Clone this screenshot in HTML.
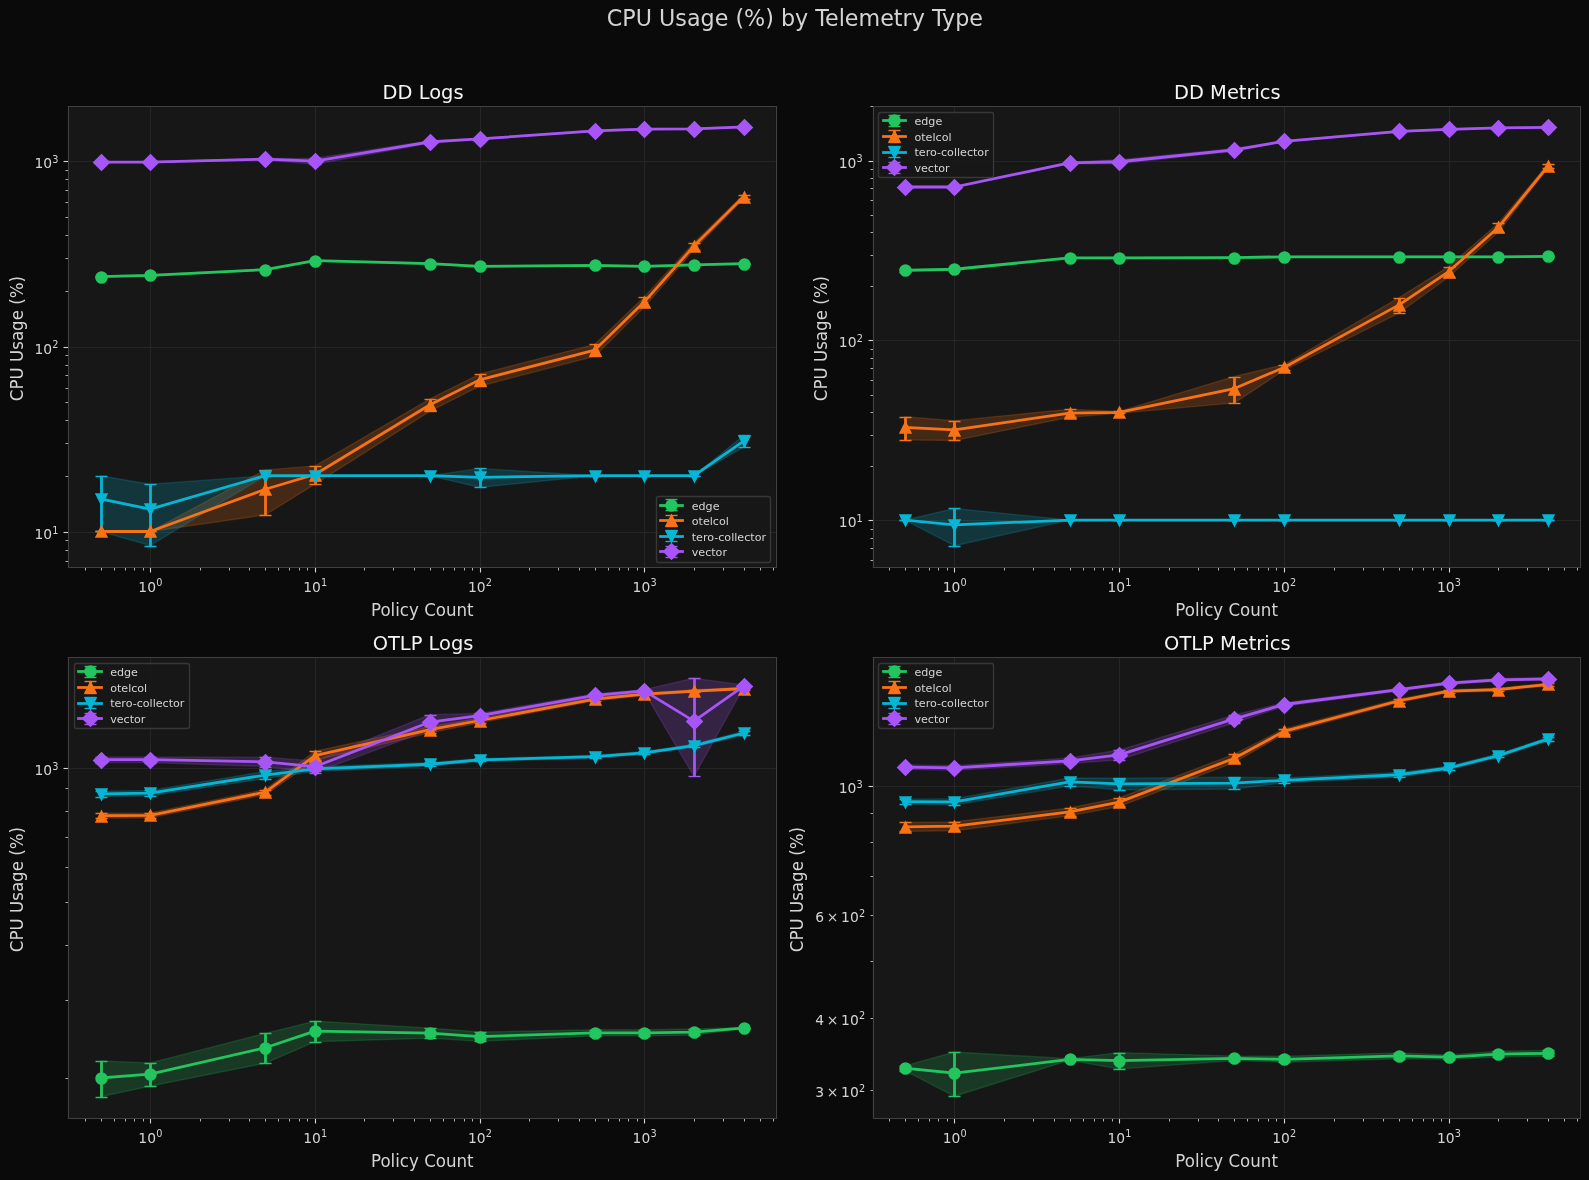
<!DOCTYPE html>
<html lang="en">
<head>
<meta charset="utf-8">
<title>CPU Usage (%) by Telemetry Type</title>
<style>
html,body{margin:0;padding:0;background:#0a0a0a;}
body{width:1589px;height:1180px;overflow:hidden;font-family:"DejaVu Sans","Liberation Sans",sans-serif;}
svg{display:block;will-change:transform;}
svg text{white-space:pre;}
</style>
</head>
<body>
<svg width="1589" height="1180" viewBox="0 0 1144.08 849.6" preserveAspectRatio="none" role="img" aria-label="CPU Usage (%) by Telemetry Type"> <defs> <style type="text/css">*{stroke-linejoin: round; stroke-linecap: butt}</style> </defs> <g id="figure_1"> <g id="patch_1"> <path d="M 0 849.6 L 1144.08 849.6 L 1144.08 0 L 0 0 z " style="fill: #0a0a0a"/> </g> <g id="axes_1"> <g id="patch_2"> <path d="M 49.28 408.47 L 558.46 408.47 L 558.46 76.55 L 49.28 76.55 z " style="fill: #171717"/> </g> <g id="matplotlib.axis_1"> <g id="xtick_1"> <g id="line2d_1"> <path d="M 108.36 408.60 L 108.36 76.68" clip-path="url(#p3dcfca8776)" style="fill: none; stroke: #262626; stroke-width: 0.8; stroke-linecap: square"/> </g> <g id="line2d_2"> <g> <path d="M 0.36 0.36 L 0.36 3.96" transform="translate(108.00 408.24)" style="stroke: #d4d4d4; stroke-width: 0.8; fill: #d4d4d4; stroke: #d4d4d4; stroke-width: 0.8"/> </g> </g> <g id="text_1"> <g style="fill: #d4d4d4" transform="translate(99.00 426.70)"> <text> <tspan x="0.60" y="-0.60" style="font-size: 10px; font-family: 'DejaVu Sans', 'Liberation Sans', sans-serif; fill: #d4d4d4">10</tspan> <tspan x="13.42" y="-4.43" style="font-size: 7px; font-family: 'DejaVu Sans', 'Liberation Sans', sans-serif; fill: #d4d4d4">0</tspan> </text> </g> </g> </g> <g id="xtick_2"> <g id="line2d_3"> <path d="M 227.16 408.60 L 227.16 76.68" clip-path="url(#p3dcfca8776)" style="fill: none; stroke: #262626; stroke-width: 0.8; stroke-linecap: square"/> </g> <g id="line2d_4"> <g> <path d="M 0.36 0.36 L 0.36 3.96" transform="translate(226.80 408.24)" style="stroke: #d4d4d4; stroke-width: 0.8; fill: #d4d4d4; stroke: #d4d4d4; stroke-width: 0.8"/> </g> </g> <g id="text_2"> <g style="fill: #d4d4d4" transform="translate(217.70 426.70)"> <text> <tspan x="0.60" y="-0.60" style="font-size: 10px; font-family: 'DejaVu Sans', 'Liberation Sans', sans-serif; fill: #d4d4d4">10</tspan> <tspan x="13.42" y="-4.43" style="font-size: 7px; font-family: 'DejaVu Sans', 'Liberation Sans', sans-serif; fill: #d4d4d4">1</tspan> </text> </g> </g> </g> <g id="xtick_3"> <g id="line2d_5"> <path d="M 345.96 408.60 L 345.96 76.68" clip-path="url(#p3dcfca8776)" style="fill: none; stroke: #262626; stroke-width: 0.8; stroke-linecap: square"/> </g> <g id="line2d_6"> <g> <path d="M 0.36 0.36 L 0.36 3.96" transform="translate(345.60 408.24)" style="stroke: #d4d4d4; stroke-width: 0.8; fill: #d4d4d4; stroke: #d4d4d4; stroke-width: 0.8"/> </g> </g> <g id="text_3"> <g style="fill: #d4d4d4" transform="translate(336.32 426.70)"> <text> <tspan x="0.60" y="-0.60" style="font-size: 10px; font-family: 'DejaVu Sans', 'Liberation Sans', sans-serif; fill: #d4d4d4">10</tspan> <tspan x="13.42" y="-4.43" style="font-size: 7px; font-family: 'DejaVu Sans', 'Liberation Sans', sans-serif; fill: #d4d4d4">2</tspan> </text> </g> </g> </g> <g id="xtick_4"> <g id="line2d_7"> <path d="M 464.04 408.60 L 464.04 76.68" clip-path="url(#p3dcfca8776)" style="fill: none; stroke: #262626; stroke-width: 0.8; stroke-linecap: square"/> </g> <g id="line2d_8"> <g> <path d="M 0.36 0.36 L 0.36 3.96" transform="translate(463.68 408.24)" style="stroke: #d4d4d4; stroke-width: 0.8; fill: #d4d4d4; stroke: #d4d4d4; stroke-width: 0.8"/> </g> </g> <g id="text_4"> <g style="fill: #d4d4d4" transform="translate(454.87 426.70)"> <text> <tspan x="0.60" y="-0.60" style="font-size: 10px; font-family: 'DejaVu Sans', 'Liberation Sans', sans-serif; fill: #d4d4d4">10</tspan> <tspan x="13.42" y="-4.43" style="font-size: 7px; font-family: 'DejaVu Sans', 'Liberation Sans', sans-serif; fill: #d4d4d4">3</tspan> </text> </g> </g> </g> <g id="xtick_5"> <g id="line2d_9"> <g> <path d="M 0.36 0.36 L 0.36 2.52" transform="translate(61.20 408.24)" style="stroke: #d4d4d4; stroke-width: 0.6; fill: #d4d4d4; stroke: #d4d4d4; stroke-width: 0.6"/> </g> </g> </g> <g id="xtick_6"> <g id="line2d_10"> <g> <path d="M 0.36 0.36 L 0.36 2.52" transform="translate(72.72 408.24)" style="stroke: #d4d4d4; stroke-width: 0.6; fill: #d4d4d4; stroke: #d4d4d4; stroke-width: 0.6"/> </g> </g> </g> <g id="xtick_7"> <g id="line2d_11"> <g> <path d="M 0.36 0.36 L 0.36 2.52" transform="translate(82.08 408.24)" style="stroke: #d4d4d4; stroke-width: 0.6; fill: #d4d4d4; stroke: #d4d4d4; stroke-width: 0.6"/> </g> </g> </g> <g id="xtick_8"> <g id="line2d_12"> <g> <path d="M 0.36 0.36 L 0.36 2.52" transform="translate(90.00 408.24)" style="stroke: #d4d4d4; stroke-width: 0.6; fill: #d4d4d4; stroke: #d4d4d4; stroke-width: 0.6"/> </g> </g> </g> <g id="xtick_9"> <g id="line2d_13"> <g> <path d="M 0.36 0.36 L 0.36 2.52" transform="translate(96.48 408.24)" style="stroke: #d4d4d4; stroke-width: 0.6; fill: #d4d4d4; stroke: #d4d4d4; stroke-width: 0.6"/> </g> </g> </g> <g id="xtick_10"> <g id="line2d_14"> <g> <path d="M 0.36 0.36 L 0.36 2.52" transform="translate(102.96 408.24)" style="stroke: #d4d4d4; stroke-width: 0.6; fill: #d4d4d4; stroke: #d4d4d4; stroke-width: 0.6"/> </g> </g> </g> <g id="xtick_11"> <g id="line2d_15"> <g> <path d="M 0.36 0.36 L 0.36 2.52" transform="translate(144.00 408.24)" style="stroke: #d4d4d4; stroke-width: 0.6; fill: #d4d4d4; stroke: #d4d4d4; stroke-width: 0.6"/> </g> </g> </g> <g id="xtick_12"> <g id="line2d_16"> <g> <path d="M 0.36 0.36 L 0.36 2.52" transform="translate(164.88 408.24)" style="stroke: #d4d4d4; stroke-width: 0.6; fill: #d4d4d4; stroke: #d4d4d4; stroke-width: 0.6"/> </g> </g> </g> <g id="xtick_13"> <g id="line2d_17"> <g> <path d="M 0.36 0.36 L 0.36 2.52" transform="translate(179.28 408.24)" style="stroke: #d4d4d4; stroke-width: 0.6; fill: #d4d4d4; stroke: #d4d4d4; stroke-width: 0.6"/> </g> </g> </g> <g id="xtick_14"> <g id="line2d_18"> <g> <path d="M 0.36 0.36 L 0.36 2.52" transform="translate(190.80 408.24)" style="stroke: #d4d4d4; stroke-width: 0.6; fill: #d4d4d4; stroke: #d4d4d4; stroke-width: 0.6"/> </g> </g> </g> <g id="xtick_15"> <g id="line2d_19"> <g> <path d="M 0.36 0.36 L 0.36 2.52" transform="translate(200.16 408.24)" style="stroke: #d4d4d4; stroke-width: 0.6; fill: #d4d4d4; stroke: #d4d4d4; stroke-width: 0.6"/> </g> </g> </g> <g id="xtick_16"> <g id="line2d_20"> <g> <path d="M 0.36 0.36 L 0.36 2.52" transform="translate(208.08 408.24)" style="stroke: #d4d4d4; stroke-width: 0.6; fill: #d4d4d4; stroke: #d4d4d4; stroke-width: 0.6"/> </g> </g> </g> <g id="xtick_17"> <g id="line2d_21"> <g> <path d="M 0.36 0.36 L 0.36 2.52" transform="translate(215.28 408.24)" style="stroke: #d4d4d4; stroke-width: 0.6; fill: #d4d4d4; stroke: #d4d4d4; stroke-width: 0.6"/> </g> </g> </g> <g id="xtick_18"> <g id="line2d_22"> <g> <path d="M 0.36 0.36 L 0.36 2.52" transform="translate(221.04 408.24)" style="stroke: #d4d4d4; stroke-width: 0.6; fill: #d4d4d4; stroke: #d4d4d4; stroke-width: 0.6"/> </g> </g> </g> <g id="xtick_19"> <g id="line2d_23"> <g> <path d="M 0.36 0.36 L 0.36 2.52" transform="translate(262.08 408.24)" style="stroke: #d4d4d4; stroke-width: 0.6; fill: #d4d4d4; stroke: #d4d4d4; stroke-width: 0.6"/> </g> </g> </g> <g id="xtick_20"> <g id="line2d_24"> <g> <path d="M 0.36 0.36 L 0.36 2.52" transform="translate(282.96 408.24)" style="stroke: #d4d4d4; stroke-width: 0.6; fill: #d4d4d4; stroke: #d4d4d4; stroke-width: 0.6"/> </g> </g> </g> <g id="xtick_21"> <g id="line2d_25"> <g> <path d="M 0.36 0.36 L 0.36 2.52" transform="translate(298.08 408.24)" style="stroke: #d4d4d4; stroke-width: 0.6; fill: #d4d4d4; stroke: #d4d4d4; stroke-width: 0.6"/> </g> </g> </g> <g id="xtick_22"> <g id="line2d_26"> <g> <path d="M 0.36 0.36 L 0.36 2.52" transform="translate(309.60 408.24)" style="stroke: #d4d4d4; stroke-width: 0.6; fill: #d4d4d4; stroke: #d4d4d4; stroke-width: 0.6"/> </g> </g> </g> <g id="xtick_23"> <g id="line2d_27"> <g> <path d="M 0.36 0.36 L 0.36 2.52" transform="translate(318.96 408.24)" style="stroke: #d4d4d4; stroke-width: 0.6; fill: #d4d4d4; stroke: #d4d4d4; stroke-width: 0.6"/> </g> </g> </g> <g id="xtick_24"> <g id="line2d_28"> <g> <path d="M 0.36 0.36 L 0.36 2.52" transform="translate(326.88 408.24)" style="stroke: #d4d4d4; stroke-width: 0.6; fill: #d4d4d4; stroke: #d4d4d4; stroke-width: 0.6"/> </g> </g> </g> <g id="xtick_25"> <g id="line2d_29"> <g> <path d="M 0.36 0.36 L 0.36 2.52" transform="translate(334.08 408.24)" style="stroke: #d4d4d4; stroke-width: 0.6; fill: #d4d4d4; stroke: #d4d4d4; stroke-width: 0.6"/> </g> </g> </g> <g id="xtick_26"> <g id="line2d_30"> <g> <path d="M 0.36 0.36 L 0.36 2.52" transform="translate(339.84 408.24)" style="stroke: #d4d4d4; stroke-width: 0.6; fill: #d4d4d4; stroke: #d4d4d4; stroke-width: 0.6"/> </g> </g> </g> <g id="xtick_27"> <g id="line2d_31"> <g> <path d="M 0.36 0.36 L 0.36 2.52" transform="translate(380.88 408.24)" style="stroke: #d4d4d4; stroke-width: 0.6; fill: #d4d4d4; stroke: #d4d4d4; stroke-width: 0.6"/> </g> </g> </g> <g id="xtick_28"> <g id="line2d_32"> <g> <path d="M 0.36 0.36 L 0.36 2.52" transform="translate(401.76 408.24)" style="stroke: #d4d4d4; stroke-width: 0.6; fill: #d4d4d4; stroke: #d4d4d4; stroke-width: 0.6"/> </g> </g> </g> <g id="xtick_29"> <g id="line2d_33"> <g> <path d="M 0.36 0.36 L 0.36 2.52" transform="translate(416.88 408.24)" style="stroke: #d4d4d4; stroke-width: 0.6; fill: #d4d4d4; stroke: #d4d4d4; stroke-width: 0.6"/> </g> </g> </g> <g id="xtick_30"> <g id="line2d_34"> <g> <path d="M 0.36 0.36 L 0.36 2.52" transform="translate(428.40 408.24)" style="stroke: #d4d4d4; stroke-width: 0.6; fill: #d4d4d4; stroke: #d4d4d4; stroke-width: 0.6"/> </g> </g> </g> <g id="xtick_31"> <g id="line2d_35"> <g> <path d="M 0.36 0.36 L 0.36 2.52" transform="translate(437.76 408.24)" style="stroke: #d4d4d4; stroke-width: 0.6; fill: #d4d4d4; stroke: #d4d4d4; stroke-width: 0.6"/> </g> </g> </g> <g id="xtick_32"> <g id="line2d_36"> <g> <path d="M 0.36 0.36 L 0.36 2.52" transform="translate(445.68 408.24)" style="stroke: #d4d4d4; stroke-width: 0.6; fill: #d4d4d4; stroke: #d4d4d4; stroke-width: 0.6"/> </g> </g> </g> <g id="xtick_33"> <g id="line2d_37"> <g> <path d="M 0.36 0.36 L 0.36 2.52" transform="translate(452.16 408.24)" style="stroke: #d4d4d4; stroke-width: 0.6; fill: #d4d4d4; stroke: #d4d4d4; stroke-width: 0.6"/> </g> </g> </g> <g id="xtick_34"> <g id="line2d_38"> <g> <path d="M 0.36 0.36 L 0.36 2.52" transform="translate(458.64 408.24)" style="stroke: #d4d4d4; stroke-width: 0.6; fill: #d4d4d4; stroke: #d4d4d4; stroke-width: 0.6"/> </g> </g> </g> <g id="xtick_35"> <g id="line2d_39"> <g> <path d="M 0.36 0.36 L 0.36 2.52" transform="translate(499.68 408.24)" style="stroke: #d4d4d4; stroke-width: 0.6; fill: #d4d4d4; stroke: #d4d4d4; stroke-width: 0.6"/> </g> </g> </g> <g id="xtick_36"> <g id="line2d_40"> <g> <path d="M 0.36 0.36 L 0.36 2.52" transform="translate(520.56 408.24)" style="stroke: #d4d4d4; stroke-width: 0.6; fill: #d4d4d4; stroke: #d4d4d4; stroke-width: 0.6"/> </g> </g> </g> <g id="xtick_37"> <g id="line2d_41"> <g> <path d="M 0.36 0.36 L 0.36 2.52" transform="translate(535.68 408.24)" style="stroke: #d4d4d4; stroke-width: 0.6; fill: #d4d4d4; stroke: #d4d4d4; stroke-width: 0.6"/> </g> </g> </g> <g id="xtick_38"> <g id="line2d_42"> <g> <path d="M 0.36 0.36 L 0.36 2.52" transform="translate(547.20 408.24)" style="stroke: #d4d4d4; stroke-width: 0.6; fill: #d4d4d4; stroke: #d4d4d4; stroke-width: 0.6"/> </g> </g> </g> <g id="xtick_39"> <g id="line2d_43"> <g> <path d="M 0.36 0.36 L 0.36 2.52" transform="translate(556.56 408.24)" style="stroke: #d4d4d4; stroke-width: 0.6; fill: #d4d4d4; stroke: #d4d4d4; stroke-width: 0.6"/> </g> </g> </g> <g id="text_5"> <text style="font-size: 12px; font-family: 'DejaVu Sans', 'Liberation Sans', sans-serif; text-anchor: middle; fill: #d4d4d4" x="303.87" y="442.94" transform="rotate(-0 303.87 442.94) translate(304.07 443.39) scale(1 1.070) translate(-303.87 -442.94)">Policy Count</text> </g> </g> <g id="matplotlib.axis_2"> <g id="ytick_1"> <g id="line2d_44"> <path d="M 49.32 383.40 L 559.08 383.40" clip-path="url(#p3dcfca8776)" style="fill: none; stroke: #262626; stroke-width: 0.8; stroke-linecap: square"/> </g> <g id="line2d_45"> <g> <path d="M 0.36 0.36 L -3.24 0.36" transform="translate(48.96 383.04)" style="stroke: #d4d4d4; stroke-width: 0.8; fill: #d4d4d4; stroke: #d4d4d4; stroke-width: 0.8"/> </g> </g> <g id="text_6"> <g style="fill: #d4d4d4" transform="translate(24.25 388.58)"> <text> <tspan x="0.60" y="-0.60" style="font-size: 10px; font-family: 'DejaVu Sans', 'Liberation Sans', sans-serif; fill: #d4d4d4">10</tspan> <tspan x="13.42" y="-4.43" style="font-size: 7px; font-family: 'DejaVu Sans', 'Liberation Sans', sans-serif; fill: #d4d4d4">1</tspan> </text> </g> </g> </g> <g id="ytick_2"> <g id="line2d_46"> <path d="M 49.32 250.20 L 559.08 250.20" clip-path="url(#p3dcfca8776)" style="fill: none; stroke: #262626; stroke-width: 0.8; stroke-linecap: square"/> </g> <g id="line2d_47"> <g> <path d="M 0.36 0.36 L -3.24 0.36" transform="translate(48.96 249.84)" style="stroke: #d4d4d4; stroke-width: 0.8; fill: #d4d4d4; stroke: #d4d4d4; stroke-width: 0.8"/> </g> </g> <g id="text_7"> <g style="fill: #d4d4d4" transform="translate(24.27 255.16)"> <text> <tspan x="0.60" y="-0.60" style="font-size: 10px; font-family: 'DejaVu Sans', 'Liberation Sans', sans-serif; fill: #d4d4d4">10</tspan> <tspan x="13.42" y="-4.43" style="font-size: 7px; font-family: 'DejaVu Sans', 'Liberation Sans', sans-serif; fill: #d4d4d4">2</tspan> </text> </g> </g> </g> <g id="ytick_3"> <g id="line2d_48"> <path d="M 49.32 116.28 L 559.08 116.28" clip-path="url(#p3dcfca8776)" style="fill: none; stroke: #262626; stroke-width: 0.8; stroke-linecap: square"/> </g> <g id="line2d_49"> <g> <path d="M 0.36 0.36 L -3.24 0.36" transform="translate(48.96 115.92)" style="stroke: #d4d4d4; stroke-width: 0.8; fill: #d4d4d4; stroke: #d4d4d4; stroke-width: 0.8"/> </g> </g> <g id="text_8"> <g style="fill: #d4d4d4" transform="translate(24.16 121.75)"> <text> <tspan x="0.60" y="-0.60" style="font-size: 10px; font-family: 'DejaVu Sans', 'Liberation Sans', sans-serif; fill: #d4d4d4">10</tspan> <tspan x="13.42" y="-4.43" style="font-size: 7px; font-family: 'DejaVu Sans', 'Liberation Sans', sans-serif; fill: #d4d4d4">3</tspan> </text> </g> </g> </g> <g id="ytick_4"> <g id="line2d_50"> <g> <path d="M 0.36 0.36 L -1.80 0.36" transform="translate(48.96 403.92)" style="stroke: #d4d4d4; stroke-width: 0.6; fill: #d4d4d4; stroke: #d4d4d4; stroke-width: 0.6"/> </g> </g> </g> <g id="ytick_5"> <g id="line2d_51"> <g> <path d="M 0.36 0.36 L -1.80 0.36" transform="translate(48.96 396.00)" style="stroke: #d4d4d4; stroke-width: 0.6; fill: #d4d4d4; stroke: #d4d4d4; stroke-width: 0.6"/> </g> </g> </g> <g id="ytick_6"> <g id="line2d_52"> <g> <path d="M 0.36 0.36 L -1.80 0.36" transform="translate(48.96 388.80)" style="stroke: #d4d4d4; stroke-width: 0.6; fill: #d4d4d4; stroke: #d4d4d4; stroke-width: 0.6"/> </g> </g> </g> <g id="ytick_7"> <g id="line2d_53"> <g> <path d="M 0.36 0.36 L -1.80 0.36" transform="translate(48.96 342.72)" style="stroke: #d4d4d4; stroke-width: 0.6; fill: #d4d4d4; stroke: #d4d4d4; stroke-width: 0.6"/> </g> </g> </g> <g id="ytick_8"> <g id="line2d_54"> <g> <path d="M 0.36 0.36 L -1.80 0.36" transform="translate(48.96 318.96)" style="stroke: #d4d4d4; stroke-width: 0.6; fill: #d4d4d4; stroke: #d4d4d4; stroke-width: 0.6"/> </g> </g> </g> <g id="ytick_9"> <g id="line2d_55"> <g> <path d="M 0.36 0.36 L -1.80 0.36" transform="translate(48.96 302.40)" style="stroke: #d4d4d4; stroke-width: 0.6; fill: #d4d4d4; stroke: #d4d4d4; stroke-width: 0.6"/> </g> </g> </g> <g id="ytick_10"> <g id="line2d_56"> <g> <path d="M 0.36 0.36 L -1.80 0.36" transform="translate(48.96 289.44)" style="stroke: #d4d4d4; stroke-width: 0.6; fill: #d4d4d4; stroke: #d4d4d4; stroke-width: 0.6"/> </g> </g> </g> <g id="ytick_11"> <g id="line2d_57"> <g> <path d="M 0.36 0.36 L -1.80 0.36" transform="translate(48.96 279.36)" style="stroke: #d4d4d4; stroke-width: 0.6; fill: #d4d4d4; stroke: #d4d4d4; stroke-width: 0.6"/> </g> </g> </g> <g id="ytick_12"> <g id="line2d_58"> <g> <path d="M 0.36 0.36 L -1.80 0.36" transform="translate(48.96 270.00)" style="stroke: #d4d4d4; stroke-width: 0.6; fill: #d4d4d4; stroke: #d4d4d4; stroke-width: 0.6"/> </g> </g> </g> <g id="ytick_13"> <g id="line2d_59"> <g> <path d="M 0.36 0.36 L -1.80 0.36" transform="translate(48.96 262.80)" style="stroke: #d4d4d4; stroke-width: 0.6; fill: #d4d4d4; stroke: #d4d4d4; stroke-width: 0.6"/> </g> </g> </g> <g id="ytick_14"> <g id="line2d_60"> <g> <path d="M 0.36 0.36 L -1.80 0.36" transform="translate(48.96 255.60)" style="stroke: #d4d4d4; stroke-width: 0.6; fill: #d4d4d4; stroke: #d4d4d4; stroke-width: 0.6"/> </g> </g> </g> <g id="ytick_15"> <g id="line2d_61"> <g> <path d="M 0.36 0.36 L -1.80 0.36" transform="translate(48.96 209.52)" style="stroke: #d4d4d4; stroke-width: 0.6; fill: #d4d4d4; stroke: #d4d4d4; stroke-width: 0.6"/> </g> </g> </g> <g id="ytick_16"> <g id="line2d_62"> <g> <path d="M 0.36 0.36 L -1.80 0.36" transform="translate(48.96 185.76)" style="stroke: #d4d4d4; stroke-width: 0.6; fill: #d4d4d4; stroke: #d4d4d4; stroke-width: 0.6"/> </g> </g> </g> <g id="ytick_17"> <g id="line2d_63"> <g> <path d="M 0.36 0.36 L -1.80 0.36" transform="translate(48.96 169.20)" style="stroke: #d4d4d4; stroke-width: 0.6; fill: #d4d4d4; stroke: #d4d4d4; stroke-width: 0.6"/> </g> </g> </g> <g id="ytick_18"> <g id="line2d_64"> <g> <path d="M 0.36 0.36 L -1.80 0.36" transform="translate(48.96 156.24)" style="stroke: #d4d4d4; stroke-width: 0.6; fill: #d4d4d4; stroke: #d4d4d4; stroke-width: 0.6"/> </g> </g> </g> <g id="ytick_19"> <g id="line2d_65"> <g> <path d="M 0.36 0.36 L -1.80 0.36" transform="translate(48.96 145.44)" style="stroke: #d4d4d4; stroke-width: 0.6; fill: #d4d4d4; stroke: #d4d4d4; stroke-width: 0.6"/> </g> </g> </g> <g id="ytick_20"> <g id="line2d_66"> <g> <path d="M 0.36 0.36 L -1.80 0.36" transform="translate(48.96 136.80)" style="stroke: #d4d4d4; stroke-width: 0.6; fill: #d4d4d4; stroke: #d4d4d4; stroke-width: 0.6"/> </g> </g> </g> <g id="ytick_21"> <g id="line2d_67"> <g> <path d="M 0.36 0.36 L -1.80 0.36" transform="translate(48.96 128.88)" style="stroke: #d4d4d4; stroke-width: 0.6; fill: #d4d4d4; stroke: #d4d4d4; stroke-width: 0.6"/> </g> </g> </g> <g id="ytick_22"> <g id="line2d_68"> <g> <path d="M 0.36 0.36 L -1.80 0.36" transform="translate(48.96 122.40)" style="stroke: #d4d4d4; stroke-width: 0.6; fill: #d4d4d4; stroke: #d4d4d4; stroke-width: 0.6"/> </g> </g> </g> <g id="text_9"> <text style="font-size: 12px; font-family: 'DejaVu Sans', 'Liberation Sans', sans-serif; text-anchor: middle; fill: #d4d4d4" x="17.28" y="242.51" transform="rotate(-90 17.28 242.51) translate(16.02 241.51) scale(1 1.070) translate(-17.28 -242.51)">CPU Usage (%)</text> </g> </g> <g id="FillBetweenPolyCollection_1"> <g clip-path="url(#p3dcfca8776)"> <path d="M 72.40 -650.94 L 72.40 -649.96 L 108.11 -650.77 L 191.01 -655.02 L 226.72 -661.62 L 309.62 -659.37 L 345.32 -657.37 L 428.23 -658.01 L 463.93 -657.37 L 499.64 -658.52 L 535.34 -659.37 L 535.34 -660.20 L 535.34 -660.20 L 499.64 -659.37 L 463.93 -658.23 L 428.23 -658.86 L 345.32 -658.23 L 309.62 -660.20 L 226.72 -662.42 L 191.01 -655.92 L 108.11 -651.73 L 72.40 -650.94 z " transform="translate(0.00 849.60)" style="stroke: #22c55e; stroke-opacity: 0.2; fill: #22c55e; fill-opacity: 0.2; stroke: #22c55e; stroke-opacity: 0.2"/> </g> </g> <g id="FillBetweenPolyCollection_2"> <g clip-path="url(#p3dcfca8776)"> <path d="M 72.40 -466.92 L 72.40 -466.92 L 108.11 -466.92 L 191.01 -478.91 L 226.72 -500.97 L 309.62 -553.55 L 345.32 -571.50 L 428.23 -593.12 L 463.93 -628.50 L 499.64 -669.86 L 535.34 -706.33 L 535.34 -709.41 L 535.34 -709.41 L 499.64 -674.87 L 463.93 -635.85 L 428.23 -601.65 L 345.32 -580.32 L 309.62 -562.44 L 226.72 -514.16 L 191.01 -511.27 L 108.11 -466.92 L 72.40 -466.92 z " transform="translate(0.00 849.60)" style="stroke: #f97316; stroke-opacity: 0.2; fill: #f97316; fill-opacity: 0.2; stroke: #f97316; stroke-opacity: 0.2"/> </g> </g> <g id="FillBetweenPolyCollection_3"> <g clip-path="url(#p3dcfca8776)"> <path d="M 72.40 -507.08 L 72.40 -466.92 L 108.11 -456.81 L 191.01 -507.08 L 226.72 -507.08 L 309.62 -507.08 L 345.32 -498.68 L 428.23 -507.08 L 463.93 -507.08 L 499.64 -507.08 L 535.34 -527.40 L 535.34 -536.09 L 535.34 -536.09 L 499.64 -507.08 L 463.93 -507.08 L 428.23 -507.08 L 345.32 -512.34 L 309.62 -507.08 L 226.72 -507.08 L 191.01 -507.08 L 108.11 -500.97 L 72.40 -507.08 z " transform="translate(0.00 849.60)" style="stroke: #06b6d4; stroke-opacity: 0.2; fill: #06b6d4; fill-opacity: 0.2; stroke: #06b6d4; stroke-opacity: 0.2"/> </g> </g> <g id="FillBetweenPolyCollection_4"> <g clip-path="url(#p3dcfca8776)"> <path d="M 72.40 -733.17 L 72.40 -732.58 L 108.11 -732.58 L 191.01 -734.44 L 226.72 -731.32 L 309.62 -746.49 L 345.32 -749.08 L 428.23 -755.00 L 463.93 -756.31 L 499.64 -756.46 L 535.34 -757.82 L 535.34 -758.58 L 535.34 -758.58 L 499.64 -757.24 L 463.93 -757.09 L 428.23 -755.79 L 345.32 -749.97 L 309.62 -748.32 L 226.72 -735.63 L 191.01 -735.57 L 108.11 -733.17 L 72.40 -733.17 z " transform="translate(0.00 849.60)" style="stroke: #a855f7; stroke-opacity: 0.2; fill: #a855f7; fill-opacity: 0.2; stroke: #a855f7; stroke-opacity: 0.2"/> </g> </g> <g id="LineCollection_1"> <path d="M 73.08 199.80 L 73.08 199.08" clip-path="url(#p3dcfca8776)" style="fill: none; stroke: #22c55e; stroke-width: 2"/> <path d="M 108.36 199.08 L 108.36 198.36" clip-path="url(#p3dcfca8776)" style="fill: none; stroke: #22c55e; stroke-width: 2"/> <path d="M 191.16 194.76 L 191.16 194.04" clip-path="url(#p3dcfca8776)" style="fill: none; stroke: #22c55e; stroke-width: 2"/> <path d="M 227.16 188.28 L 227.16 187.56" clip-path="url(#p3dcfca8776)" style="fill: none; stroke: #22c55e; stroke-width: 2"/> <path d="M 309.96 190.44 L 309.96 189.72" clip-path="url(#p3dcfca8776)" style="fill: none; stroke: #22c55e; stroke-width: 2"/> <path d="M 345.96 192.60 L 345.96 191.88" clip-path="url(#p3dcfca8776)" style="fill: none; stroke: #22c55e; stroke-width: 2"/> <path d="M 428.76 191.88 L 428.76 191.16" clip-path="url(#p3dcfca8776)" style="fill: none; stroke: #22c55e; stroke-width: 2"/> <path d="M 464.04 192.60 L 464.04 191.88" clip-path="url(#p3dcfca8776)" style="fill: none; stroke: #22c55e; stroke-width: 2"/> <path d="M 500.04 191.16 L 500.04 190.44" clip-path="url(#p3dcfca8776)" style="fill: none; stroke: #22c55e; stroke-width: 2"/> <path d="M 536.04 190.44 L 536.04 189.72" clip-path="url(#p3dcfca8776)" style="fill: none; stroke: #22c55e; stroke-width: 2"/> </g> <g id="line2d_69"> <g clip-path="url(#p3dcfca8776)"> <path d="M 4.68 0.36 L -3.96 0.36" transform="translate(72.72 199.44)" style="stroke: #22c55e; fill: #22c55e; stroke: #22c55e"/> <path d="M 4.68 0.36 L -3.96 0.36" transform="translate(108.00 198.72)" style="stroke: #22c55e; fill: #22c55e; stroke: #22c55e"/> <path d="M 4.68 0.36 L -3.96 0.36" transform="translate(190.80 194.40)" style="stroke: #22c55e; fill: #22c55e; stroke: #22c55e"/> <path d="M 4.68 0.36 L -3.96 0.36" transform="translate(226.80 187.92)" style="stroke: #22c55e; fill: #22c55e; stroke: #22c55e"/> <path d="M 4.68 0.36 L -3.96 0.36" transform="translate(309.60 190.08)" style="stroke: #22c55e; fill: #22c55e; stroke: #22c55e"/> <path d="M 4.68 0.36 L -3.96 0.36" transform="translate(345.60 192.24)" style="stroke: #22c55e; fill: #22c55e; stroke: #22c55e"/> <path d="M 4.68 0.36 L -3.96 0.36" transform="translate(428.40 191.52)" style="stroke: #22c55e; fill: #22c55e; stroke: #22c55e"/> <path d="M 4.68 0.36 L -3.96 0.36" transform="translate(463.68 192.24)" style="stroke: #22c55e; fill: #22c55e; stroke: #22c55e"/> <path d="M 4.68 0.36 L -3.96 0.36" transform="translate(499.68 190.80)" style="stroke: #22c55e; fill: #22c55e; stroke: #22c55e"/> <path d="M 4.68 0.36 L -3.96 0.36" transform="translate(535.68 190.08)" style="stroke: #22c55e; fill: #22c55e; stroke: #22c55e"/> </g> </g> <g id="line2d_70"> <g clip-path="url(#p3dcfca8776)"> <path d="M 4.68 0.36 L -3.96 0.36" transform="translate(72.72 198.72)" style="stroke: #22c55e; fill: #22c55e; stroke: #22c55e"/> <path d="M 4.68 0.36 L -3.96 0.36" transform="translate(108.00 198.00)" style="stroke: #22c55e; fill: #22c55e; stroke: #22c55e"/> <path d="M 4.68 0.36 L -3.96 0.36" transform="translate(190.80 193.68)" style="stroke: #22c55e; fill: #22c55e; stroke: #22c55e"/> <path d="M 4.68 0.36 L -3.96 0.36" transform="translate(226.80 187.20)" style="stroke: #22c55e; fill: #22c55e; stroke: #22c55e"/> <path d="M 4.68 0.36 L -3.96 0.36" transform="translate(309.60 189.36)" style="stroke: #22c55e; fill: #22c55e; stroke: #22c55e"/> <path d="M 4.68 0.36 L -3.96 0.36" transform="translate(345.60 191.52)" style="stroke: #22c55e; fill: #22c55e; stroke: #22c55e"/> <path d="M 4.68 0.36 L -3.96 0.36" transform="translate(428.40 190.80)" style="stroke: #22c55e; fill: #22c55e; stroke: #22c55e"/> <path d="M 4.68 0.36 L -3.96 0.36" transform="translate(463.68 191.52)" style="stroke: #22c55e; fill: #22c55e; stroke: #22c55e"/> <path d="M 4.68 0.36 L -3.96 0.36" transform="translate(499.68 190.08)" style="stroke: #22c55e; fill: #22c55e; stroke: #22c55e"/> <path d="M 4.68 0.36 L -3.96 0.36" transform="translate(535.68 189.36)" style="stroke: #22c55e; fill: #22c55e; stroke: #22c55e"/> </g> </g> <g id="LineCollection_2"> <path d="M 73.08 382.68 L 73.08 382.68" clip-path="url(#p3dcfca8776)" style="fill: none; stroke: #f97316; stroke-width: 2"/> <path d="M 108.36 382.68 L 108.36 382.68" clip-path="url(#p3dcfca8776)" style="fill: none; stroke: #f97316; stroke-width: 2"/> <path d="M 191.16 371.16 L 191.16 338.76" clip-path="url(#p3dcfca8776)" style="fill: none; stroke: #f97316; stroke-width: 2"/> <path d="M 227.16 348.84 L 227.16 335.88" clip-path="url(#p3dcfca8776)" style="fill: none; stroke: #f97316; stroke-width: 2"/> <path d="M 309.96 296.28 L 309.96 287.64" clip-path="url(#p3dcfca8776)" style="fill: none; stroke: #f97316; stroke-width: 2"/> <path d="M 345.96 278.28 L 345.96 269.64" clip-path="url(#p3dcfca8776)" style="fill: none; stroke: #f97316; stroke-width: 2"/> <path d="M 428.76 256.68 L 428.76 248.04" clip-path="url(#p3dcfca8776)" style="fill: none; stroke: #f97316; stroke-width: 2"/> <path d="M 464.04 221.40 L 464.04 214.20" clip-path="url(#p3dcfca8776)" style="fill: none; stroke: #f97316; stroke-width: 2"/> <path d="M 500.04 180.36 L 500.04 175.32" clip-path="url(#p3dcfca8776)" style="fill: none; stroke: #f97316; stroke-width: 2"/> <path d="M 536.04 143.64 L 536.04 140.76" clip-path="url(#p3dcfca8776)" style="fill: none; stroke: #f97316; stroke-width: 2"/> </g> <g id="line2d_71"> <g clip-path="url(#p3dcfca8776)"> <path d="M 4.68 0.36 L -3.96 0.36" transform="translate(72.72 382.32)" style="stroke: #f97316; fill: #f97316; stroke: #f97316"/> <path d="M 4.68 0.36 L -3.96 0.36" transform="translate(108.00 382.32)" style="stroke: #f97316; fill: #f97316; stroke: #f97316"/> <path d="M 4.68 0.36 L -3.96 0.36" transform="translate(190.80 370.80)" style="stroke: #f97316; fill: #f97316; stroke: #f97316"/> <path d="M 4.68 0.36 L -3.96 0.36" transform="translate(226.80 348.48)" style="stroke: #f97316; fill: #f97316; stroke: #f97316"/> <path d="M 4.68 0.36 L -3.96 0.36" transform="translate(309.60 295.92)" style="stroke: #f97316; fill: #f97316; stroke: #f97316"/> <path d="M 4.68 0.36 L -3.96 0.36" transform="translate(345.60 277.92)" style="stroke: #f97316; fill: #f97316; stroke: #f97316"/> <path d="M 4.68 0.36 L -3.96 0.36" transform="translate(428.40 256.32)" style="stroke: #f97316; fill: #f97316; stroke: #f97316"/> <path d="M 4.68 0.36 L -3.96 0.36" transform="translate(463.68 221.04)" style="stroke: #f97316; fill: #f97316; stroke: #f97316"/> <path d="M 4.68 0.36 L -3.96 0.36" transform="translate(499.68 180.00)" style="stroke: #f97316; fill: #f97316; stroke: #f97316"/> <path d="M 4.68 0.36 L -3.96 0.36" transform="translate(535.68 143.28)" style="stroke: #f97316; fill: #f97316; stroke: #f97316"/> </g> </g> <g id="line2d_72"> <g clip-path="url(#p3dcfca8776)"> <path d="M 4.68 0.36 L -3.96 0.36" transform="translate(72.72 382.32)" style="stroke: #f97316; fill: #f97316; stroke: #f97316"/> <path d="M 4.68 0.36 L -3.96 0.36" transform="translate(108.00 382.32)" style="stroke: #f97316; fill: #f97316; stroke: #f97316"/> <path d="M 4.68 0.36 L -3.96 0.36" transform="translate(190.80 338.40)" style="stroke: #f97316; fill: #f97316; stroke: #f97316"/> <path d="M 4.68 0.36 L -3.96 0.36" transform="translate(226.80 335.52)" style="stroke: #f97316; fill: #f97316; stroke: #f97316"/> <path d="M 4.68 0.36 L -3.96 0.36" transform="translate(309.60 287.28)" style="stroke: #f97316; fill: #f97316; stroke: #f97316"/> <path d="M 4.68 0.36 L -3.96 0.36" transform="translate(345.60 269.28)" style="stroke: #f97316; fill: #f97316; stroke: #f97316"/> <path d="M 4.68 0.36 L -3.96 0.36" transform="translate(428.40 247.68)" style="stroke: #f97316; fill: #f97316; stroke: #f97316"/> <path d="M 4.68 0.36 L -3.96 0.36" transform="translate(463.68 213.84)" style="stroke: #f97316; fill: #f97316; stroke: #f97316"/> <path d="M 4.68 0.36 L -3.96 0.36" transform="translate(499.68 174.96)" style="stroke: #f97316; fill: #f97316; stroke: #f97316"/> <path d="M 4.68 0.36 L -3.96 0.36" transform="translate(535.68 140.40)" style="stroke: #f97316; fill: #f97316; stroke: #f97316"/> </g> </g> <g id="LineCollection_3"> <path d="M 73.08 382.68 L 73.08 343.08" clip-path="url(#p3dcfca8776)" style="fill: none; stroke: #06b6d4; stroke-width: 2"/> <path d="M 108.36 393.48 L 108.36 348.84" clip-path="url(#p3dcfca8776)" style="fill: none; stroke: #06b6d4; stroke-width: 2"/> <path d="M 191.16 343.08 L 191.16 343.08" clip-path="url(#p3dcfca8776)" style="fill: none; stroke: #06b6d4; stroke-width: 2"/> <path d="M 227.16 343.08 L 227.16 343.08" clip-path="url(#p3dcfca8776)" style="fill: none; stroke: #06b6d4; stroke-width: 2"/> <path d="M 309.96 343.08 L 309.96 343.08" clip-path="url(#p3dcfca8776)" style="fill: none; stroke: #06b6d4; stroke-width: 2"/> <path d="M 345.96 351.00 L 345.96 337.32" clip-path="url(#p3dcfca8776)" style="fill: none; stroke: #06b6d4; stroke-width: 2"/> <path d="M 428.76 343.08 L 428.76 343.08" clip-path="url(#p3dcfca8776)" style="fill: none; stroke: #06b6d4; stroke-width: 2"/> <path d="M 464.04 343.08 L 464.04 343.08" clip-path="url(#p3dcfca8776)" style="fill: none; stroke: #06b6d4; stroke-width: 2"/> <path d="M 500.04 343.08 L 500.04 343.08" clip-path="url(#p3dcfca8776)" style="fill: none; stroke: #06b6d4; stroke-width: 2"/> <path d="M 536.04 322.20 L 536.04 313.56" clip-path="url(#p3dcfca8776)" style="fill: none; stroke: #06b6d4; stroke-width: 2"/> </g> <g id="line2d_73"> <g clip-path="url(#p3dcfca8776)"> <path d="M 4.68 0.36 L -3.96 0.36" transform="translate(72.72 382.32)" style="stroke: #06b6d4; fill: #06b6d4; stroke: #06b6d4"/> <path d="M 4.68 0.36 L -3.96 0.36" transform="translate(108.00 393.12)" style="stroke: #06b6d4; fill: #06b6d4; stroke: #06b6d4"/> <path d="M 4.68 0.36 L -3.96 0.36" transform="translate(190.80 342.72)" style="stroke: #06b6d4; fill: #06b6d4; stroke: #06b6d4"/> <path d="M 4.68 0.36 L -3.96 0.36" transform="translate(226.80 342.72)" style="stroke: #06b6d4; fill: #06b6d4; stroke: #06b6d4"/> <path d="M 4.68 0.36 L -3.96 0.36" transform="translate(309.60 342.72)" style="stroke: #06b6d4; fill: #06b6d4; stroke: #06b6d4"/> <path d="M 4.68 0.36 L -3.96 0.36" transform="translate(345.60 350.64)" style="stroke: #06b6d4; fill: #06b6d4; stroke: #06b6d4"/> <path d="M 4.68 0.36 L -3.96 0.36" transform="translate(428.40 342.72)" style="stroke: #06b6d4; fill: #06b6d4; stroke: #06b6d4"/> <path d="M 4.68 0.36 L -3.96 0.36" transform="translate(463.68 342.72)" style="stroke: #06b6d4; fill: #06b6d4; stroke: #06b6d4"/> <path d="M 4.68 0.36 L -3.96 0.36" transform="translate(499.68 342.72)" style="stroke: #06b6d4; fill: #06b6d4; stroke: #06b6d4"/> <path d="M 4.68 0.36 L -3.96 0.36" transform="translate(535.68 321.84)" style="stroke: #06b6d4; fill: #06b6d4; stroke: #06b6d4"/> </g> </g> <g id="line2d_74"> <g clip-path="url(#p3dcfca8776)"> <path d="M 4.68 0.36 L -3.96 0.36" transform="translate(72.72 342.72)" style="stroke: #06b6d4; fill: #06b6d4; stroke: #06b6d4"/> <path d="M 4.68 0.36 L -3.96 0.36" transform="translate(108.00 348.48)" style="stroke: #06b6d4; fill: #06b6d4; stroke: #06b6d4"/> <path d="M 4.68 0.36 L -3.96 0.36" transform="translate(190.80 342.72)" style="stroke: #06b6d4; fill: #06b6d4; stroke: #06b6d4"/> <path d="M 4.68 0.36 L -3.96 0.36" transform="translate(226.80 342.72)" style="stroke: #06b6d4; fill: #06b6d4; stroke: #06b6d4"/> <path d="M 4.68 0.36 L -3.96 0.36" transform="translate(309.60 342.72)" style="stroke: #06b6d4; fill: #06b6d4; stroke: #06b6d4"/> <path d="M 4.68 0.36 L -3.96 0.36" transform="translate(345.60 336.96)" style="stroke: #06b6d4; fill: #06b6d4; stroke: #06b6d4"/> <path d="M 4.68 0.36 L -3.96 0.36" transform="translate(428.40 342.72)" style="stroke: #06b6d4; fill: #06b6d4; stroke: #06b6d4"/> <path d="M 4.68 0.36 L -3.96 0.36" transform="translate(463.68 342.72)" style="stroke: #06b6d4; fill: #06b6d4; stroke: #06b6d4"/> <path d="M 4.68 0.36 L -3.96 0.36" transform="translate(499.68 342.72)" style="stroke: #06b6d4; fill: #06b6d4; stroke: #06b6d4"/> <path d="M 4.68 0.36 L -3.96 0.36" transform="translate(535.68 313.20)" style="stroke: #06b6d4; fill: #06b6d4; stroke: #06b6d4"/> </g> </g> <g id="LineCollection_4"> <path d="M 73.08 117.72 L 73.08 117.00" clip-path="url(#p3dcfca8776)" style="fill: none; stroke: #a855f7; stroke-width: 2"/> <path d="M 108.36 117.72 L 108.36 117.00" clip-path="url(#p3dcfca8776)" style="fill: none; stroke: #a855f7; stroke-width: 2"/> <path d="M 191.16 115.56 L 191.16 114.12" clip-path="url(#p3dcfca8776)" style="fill: none; stroke: #a855f7; stroke-width: 2"/> <path d="M 227.16 118.44 L 227.16 114.12" clip-path="url(#p3dcfca8776)" style="fill: none; stroke: #a855f7; stroke-width: 2"/> <path d="M 309.96 103.32 L 309.96 101.88" clip-path="url(#p3dcfca8776)" style="fill: none; stroke: #a855f7; stroke-width: 2"/> <path d="M 345.96 101.16 L 345.96 99.72" clip-path="url(#p3dcfca8776)" style="fill: none; stroke: #a855f7; stroke-width: 2"/> <path d="M 428.76 94.68 L 428.76 93.96" clip-path="url(#p3dcfca8776)" style="fill: none; stroke: #a855f7; stroke-width: 2"/> <path d="M 464.04 93.96 L 464.04 92.52" clip-path="url(#p3dcfca8776)" style="fill: none; stroke: #a855f7; stroke-width: 2"/> <path d="M 500.04 93.24 L 500.04 92.52" clip-path="url(#p3dcfca8776)" style="fill: none; stroke: #a855f7; stroke-width: 2"/> <path d="M 536.04 91.80 L 536.04 91.08" clip-path="url(#p3dcfca8776)" style="fill: none; stroke: #a855f7; stroke-width: 2"/> </g> <g id="line2d_75"> <g clip-path="url(#p3dcfca8776)"> <path d="M 4.68 0.36 L -3.96 0.36" transform="translate(72.72 117.36)" style="stroke: #a855f7; fill: #a855f7; stroke: #a855f7"/> <path d="M 4.68 0.36 L -3.96 0.36" transform="translate(108.00 117.36)" style="stroke: #a855f7; fill: #a855f7; stroke: #a855f7"/> <path d="M 4.68 0.36 L -3.96 0.36" transform="translate(190.80 115.20)" style="stroke: #a855f7; fill: #a855f7; stroke: #a855f7"/> <path d="M 4.68 0.36 L -3.96 0.36" transform="translate(226.80 118.08)" style="stroke: #a855f7; fill: #a855f7; stroke: #a855f7"/> <path d="M 4.68 0.36 L -3.96 0.36" transform="translate(309.60 102.96)" style="stroke: #a855f7; fill: #a855f7; stroke: #a855f7"/> <path d="M 4.68 0.36 L -3.96 0.36" transform="translate(345.60 100.80)" style="stroke: #a855f7; fill: #a855f7; stroke: #a855f7"/> <path d="M 4.68 0.36 L -3.96 0.36" transform="translate(428.40 94.32)" style="stroke: #a855f7; fill: #a855f7; stroke: #a855f7"/> <path d="M 4.68 0.36 L -3.96 0.36" transform="translate(463.68 93.60)" style="stroke: #a855f7; fill: #a855f7; stroke: #a855f7"/> <path d="M 4.68 0.36 L -3.96 0.36" transform="translate(499.68 92.88)" style="stroke: #a855f7; fill: #a855f7; stroke: #a855f7"/> <path d="M 4.68 0.36 L -3.96 0.36" transform="translate(535.68 91.44)" style="stroke: #a855f7; fill: #a855f7; stroke: #a855f7"/> </g> </g> <g id="line2d_76"> <g clip-path="url(#p3dcfca8776)"> <path d="M 4.68 0.36 L -3.96 0.36" transform="translate(72.72 116.64)" style="stroke: #a855f7; fill: #a855f7; stroke: #a855f7"/> <path d="M 4.68 0.36 L -3.96 0.36" transform="translate(108.00 116.64)" style="stroke: #a855f7; fill: #a855f7; stroke: #a855f7"/> <path d="M 4.68 0.36 L -3.96 0.36" transform="translate(190.80 113.76)" style="stroke: #a855f7; fill: #a855f7; stroke: #a855f7"/> <path d="M 4.68 0.36 L -3.96 0.36" transform="translate(226.80 113.76)" style="stroke: #a855f7; fill: #a855f7; stroke: #a855f7"/> <path d="M 4.68 0.36 L -3.96 0.36" transform="translate(309.60 101.52)" style="stroke: #a855f7; fill: #a855f7; stroke: #a855f7"/> <path d="M 4.68 0.36 L -3.96 0.36" transform="translate(345.60 99.36)" style="stroke: #a855f7; fill: #a855f7; stroke: #a855f7"/> <path d="M 4.68 0.36 L -3.96 0.36" transform="translate(428.40 93.60)" style="stroke: #a855f7; fill: #a855f7; stroke: #a855f7"/> <path d="M 4.68 0.36 L -3.96 0.36" transform="translate(463.68 92.16)" style="stroke: #a855f7; fill: #a855f7; stroke: #a855f7"/> <path d="M 4.68 0.36 L -3.96 0.36" transform="translate(499.68 92.16)" style="stroke: #a855f7; fill: #a855f7; stroke: #a855f7"/> <path d="M 4.68 0.36 L -3.96 0.36" transform="translate(535.68 90.72)" style="stroke: #a855f7; fill: #a855f7; stroke: #a855f7"/> </g> </g> <g id="line2d_77"> <path d="M 72.40 199.14 L 108.11 198.34 L 191.01 194.12 L 226.72 187.57 L 309.62 189.81 L 345.32 191.79 L 428.23 191.15 L 463.93 191.79 L 499.64 190.64 L 535.34 189.81 " clip-path="url(#p3dcfca8776)" style="fill: none; stroke: #22c55e; stroke-width: 2; stroke-linecap: square"/> <g clip-path="url(#p3dcfca8776)"> <path d="M 0 4 C 1.06 4 2.07 3.57 2.82 2.82 C 3.57 2.07 4 1.06 4 0 C 4 -1.06 3.57 -2.07 2.82 -2.82 C 2.07 -3.57 1.06 -4 0 -4 C -1.06 -4 -2.07 -3.57 -2.82 -2.82 C -3.57 -2.07 -4 -1.06 -4 0 C -4 1.06 -3.57 2.07 -2.82 2.82 C -2.07 3.57 -1.06 4 0 4 z " transform="translate(73.08 199.80)" style="stroke: #22c55e; fill: #22c55e; stroke: #22c55e"/> <path d="M 0 4 C 1.06 4 2.07 3.57 2.82 2.82 C 3.57 2.07 4 1.06 4 0 C 4 -1.06 3.57 -2.07 2.82 -2.82 C 2.07 -3.57 1.06 -4 0 -4 C -1.06 -4 -2.07 -3.57 -2.82 -2.82 C -3.57 -2.07 -4 -1.06 -4 0 C -4 1.06 -3.57 2.07 -2.82 2.82 C -2.07 3.57 -1.06 4 0 4 z " transform="translate(108.36 198.36)" style="stroke: #22c55e; fill: #22c55e; stroke: #22c55e"/> <path d="M 0 4 C 1.06 4 2.07 3.57 2.82 2.82 C 3.57 2.07 4 1.06 4 0 C 4 -1.06 3.57 -2.07 2.82 -2.82 C 2.07 -3.57 1.06 -4 0 -4 C -1.06 -4 -2.07 -3.57 -2.82 -2.82 C -3.57 -2.07 -4 -1.06 -4 0 C -4 1.06 -3.57 2.07 -2.82 2.82 C -2.07 3.57 -1.06 4 0 4 z " transform="translate(191.16 194.76)" style="stroke: #22c55e; fill: #22c55e; stroke: #22c55e"/> <path d="M 0 4 C 1.06 4 2.07 3.57 2.82 2.82 C 3.57 2.07 4 1.06 4 0 C 4 -1.06 3.57 -2.07 2.82 -2.82 C 2.07 -3.57 1.06 -4 0 -4 C -1.06 -4 -2.07 -3.57 -2.82 -2.82 C -3.57 -2.07 -4 -1.06 -4 0 C -4 1.06 -3.57 2.07 -2.82 2.82 C -2.07 3.57 -1.06 4 0 4 z " transform="translate(227.16 188.28)" style="stroke: #22c55e; fill: #22c55e; stroke: #22c55e"/> <path d="M 0 4 C 1.06 4 2.07 3.57 2.82 2.82 C 3.57 2.07 4 1.06 4 0 C 4 -1.06 3.57 -2.07 2.82 -2.82 C 2.07 -3.57 1.06 -4 0 -4 C -1.06 -4 -2.07 -3.57 -2.82 -2.82 C -3.57 -2.07 -4 -1.06 -4 0 C -4 1.06 -3.57 2.07 -2.82 2.82 C -2.07 3.57 -1.06 4 0 4 z " transform="translate(309.96 190.44)" style="stroke: #22c55e; fill: #22c55e; stroke: #22c55e"/> <path d="M 0 4 C 1.06 4 2.07 3.57 2.82 2.82 C 3.57 2.07 4 1.06 4 0 C 4 -1.06 3.57 -2.07 2.82 -2.82 C 2.07 -3.57 1.06 -4 0 -4 C -1.06 -4 -2.07 -3.57 -2.82 -2.82 C -3.57 -2.07 -4 -1.06 -4 0 C -4 1.06 -3.57 2.07 -2.82 2.82 C -2.07 3.57 -1.06 4 0 4 z " transform="translate(345.96 191.88)" style="stroke: #22c55e; fill: #22c55e; stroke: #22c55e"/> <path d="M 0 4 C 1.06 4 2.07 3.57 2.82 2.82 C 3.57 2.07 4 1.06 4 0 C 4 -1.06 3.57 -2.07 2.82 -2.82 C 2.07 -3.57 1.06 -4 0 -4 C -1.06 -4 -2.07 -3.57 -2.82 -2.82 C -3.57 -2.07 -4 -1.06 -4 0 C -4 1.06 -3.57 2.07 -2.82 2.82 C -2.07 3.57 -1.06 4 0 4 z " transform="translate(428.76 191.16)" style="stroke: #22c55e; fill: #22c55e; stroke: #22c55e"/> <path d="M 0 4 C 1.06 4 2.07 3.57 2.82 2.82 C 3.57 2.07 4 1.06 4 0 C 4 -1.06 3.57 -2.07 2.82 -2.82 C 2.07 -3.57 1.06 -4 0 -4 C -1.06 -4 -2.07 -3.57 -2.82 -2.82 C -3.57 -2.07 -4 -1.06 -4 0 C -4 1.06 -3.57 2.07 -2.82 2.82 C -2.07 3.57 -1.06 4 0 4 z " transform="translate(464.04 191.88)" style="stroke: #22c55e; fill: #22c55e; stroke: #22c55e"/> <path d="M 0 4 C 1.06 4 2.07 3.57 2.82 2.82 C 3.57 2.07 4 1.06 4 0 C 4 -1.06 3.57 -2.07 2.82 -2.82 C 2.07 -3.57 1.06 -4 0 -4 C -1.06 -4 -2.07 -3.57 -2.82 -2.82 C -3.57 -2.07 -4 -1.06 -4 0 C -4 1.06 -3.57 2.07 -2.82 2.82 C -2.07 3.57 -1.06 4 0 4 z " transform="translate(500.04 191.16)" style="stroke: #22c55e; fill: #22c55e; stroke: #22c55e"/> <path d="M 0 4 C 1.06 4 2.07 3.57 2.82 2.82 C 3.57 2.07 4 1.06 4 0 C 4 -1.06 3.57 -2.07 2.82 -2.82 C 2.07 -3.57 1.06 -4 0 -4 C -1.06 -4 -2.07 -3.57 -2.82 -2.82 C -3.57 -2.07 -4 -1.06 -4 0 C -4 1.06 -3.57 2.07 -2.82 2.82 C -2.07 3.57 -1.06 4 0 4 z " transform="translate(536.04 190.44)" style="stroke: #22c55e; fill: #22c55e; stroke: #22c55e"/> </g> </g> <g id="line2d_78"> <path d="M 72.40 382.67 L 108.11 382.67 L 191.01 352.27 L 226.72 341.65 L 309.62 291.42 L 345.32 273.51 L 428.23 252.05 L 463.93 217.30 L 499.64 177.17 L 535.34 141.70 " clip-path="url(#p3dcfca8776)" style="fill: none; stroke: #f97316; stroke-width: 2; stroke-linecap: square"/> <g clip-path="url(#p3dcfca8776)"> <path d="M 0 -4 L -4 4 L 4 4 z " transform="translate(73.08 382.68)" style="stroke: #f97316; stroke-linejoin: miter; fill: #f97316; stroke: #f97316; stroke-linejoin: miter"/> <path d="M 0 -4 L -4 4 L 4 4 z " transform="translate(108.36 382.68)" style="stroke: #f97316; stroke-linejoin: miter; fill: #f97316; stroke: #f97316; stroke-linejoin: miter"/> <path d="M 0 -4 L -4 4 L 4 4 z " transform="translate(191.16 352.44)" style="stroke: #f97316; stroke-linejoin: miter; fill: #f97316; stroke: #f97316; stroke-linejoin: miter"/> <path d="M 0 -4 L -4 4 L 4 4 z " transform="translate(227.16 342.36)" style="stroke: #f97316; stroke-linejoin: miter; fill: #f97316; stroke: #f97316; stroke-linejoin: miter"/> <path d="M 0 -4 L -4 4 L 4 4 z " transform="translate(309.96 291.96)" style="stroke: #f97316; stroke-linejoin: miter; fill: #f97316; stroke: #f97316; stroke-linejoin: miter"/> <path d="M 0 -4 L -4 4 L 4 4 z " transform="translate(345.96 273.96)" style="stroke: #f97316; stroke-linejoin: miter; fill: #f97316; stroke: #f97316; stroke-linejoin: miter"/> <path d="M 0 -4 L -4 4 L 4 4 z " transform="translate(428.76 252.36)" style="stroke: #f97316; stroke-linejoin: miter; fill: #f97316; stroke: #f97316; stroke-linejoin: miter"/> <path d="M 0 -4 L -4 4 L 4 4 z " transform="translate(464.04 217.80)" style="stroke: #f97316; stroke-linejoin: miter; fill: #f97316; stroke: #f97316; stroke-linejoin: miter"/> <path d="M 0 -4 L -4 4 L 4 4 z " transform="translate(500.04 177.48)" style="stroke: #f97316; stroke-linejoin: miter; fill: #f97316; stroke: #f97316; stroke-linejoin: miter"/> <path d="M 0 -4 L -4 4 L 4 4 z " transform="translate(536.04 142.20)" style="stroke: #f97316; stroke-linejoin: miter; fill: #f97316; stroke: #f97316; stroke-linejoin: miter"/> </g> </g> <g id="line2d_79"> <path d="M 72.40 359.18 L 108.11 366.59 L 191.01 342.51 L 226.72 342.51 L 309.62 342.51 L 345.32 343.68 L 428.23 342.51 L 463.93 342.51 L 499.64 342.51 L 535.34 317.68 " clip-path="url(#p3dcfca8776)" style="fill: none; stroke: #06b6d4; stroke-width: 2; stroke-linecap: square"/> <g clip-path="url(#p3dcfca8776)"> <path d="M -0 4 L 4 -4 L -4 -4 z " transform="translate(73.08 359.64)" style="stroke: #06b6d4; stroke-linejoin: miter; fill: #06b6d4; stroke: #06b6d4; stroke-linejoin: miter"/> <path d="M -0 4 L 4 -4 L -4 -4 z " transform="translate(108.36 366.84)" style="stroke: #06b6d4; stroke-linejoin: miter; fill: #06b6d4; stroke: #06b6d4; stroke-linejoin: miter"/> <path d="M -0 4 L 4 -4 L -4 -4 z " transform="translate(191.16 343.08)" style="stroke: #06b6d4; stroke-linejoin: miter; fill: #06b6d4; stroke: #06b6d4; stroke-linejoin: miter"/> <path d="M -0 4 L 4 -4 L -4 -4 z " transform="translate(227.16 343.08)" style="stroke: #06b6d4; stroke-linejoin: miter; fill: #06b6d4; stroke: #06b6d4; stroke-linejoin: miter"/> <path d="M -0 4 L 4 -4 L -4 -4 z " transform="translate(309.96 343.08)" style="stroke: #06b6d4; stroke-linejoin: miter; fill: #06b6d4; stroke: #06b6d4; stroke-linejoin: miter"/> <path d="M -0 4 L 4 -4 L -4 -4 z " transform="translate(345.96 343.80)" style="stroke: #06b6d4; stroke-linejoin: miter; fill: #06b6d4; stroke: #06b6d4; stroke-linejoin: miter"/> <path d="M -0 4 L 4 -4 L -4 -4 z " transform="translate(428.76 343.08)" style="stroke: #06b6d4; stroke-linejoin: miter; fill: #06b6d4; stroke: #06b6d4; stroke-linejoin: miter"/> <path d="M -0 4 L 4 -4 L -4 -4 z " transform="translate(464.04 343.08)" style="stroke: #06b6d4; stroke-linejoin: miter; fill: #06b6d4; stroke: #06b6d4; stroke-linejoin: miter"/> <path d="M -0 4 L 4 -4 L -4 -4 z " transform="translate(500.04 343.08)" style="stroke: #06b6d4; stroke-linejoin: miter; fill: #06b6d4; stroke: #06b6d4; stroke-linejoin: miter"/> <path d="M -0 4 L 4 -4 L -4 -4 z " transform="translate(536.04 317.88)" style="stroke: #06b6d4; stroke-linejoin: miter; fill: #06b6d4; stroke: #06b6d4; stroke-linejoin: miter"/> </g> </g> <g id="line2d_80"> <path d="M 72.40 116.72 L 108.11 116.72 L 191.01 114.58 L 226.72 116.07 L 309.62 102.18 L 345.32 100.06 L 428.23 94.19 L 463.93 92.89 L 499.64 92.74 L 535.34 91.39 " clip-path="url(#p3dcfca8776)" style="fill: none; stroke: #a855f7; stroke-width: 2; stroke-linecap: square"/> <g clip-path="url(#p3dcfca8776)"> <path d="M -0 5.65 L 5.65 0 L 0 -5.65 L -5.65 -0 z " transform="translate(73.08 117.00)" style="stroke: #a855f7; stroke-linejoin: miter; fill: #a855f7; stroke: #a855f7; stroke-linejoin: miter"/> <path d="M -0 5.65 L 5.65 0 L 0 -5.65 L -5.65 -0 z " transform="translate(108.36 117.00)" style="stroke: #a855f7; stroke-linejoin: miter; fill: #a855f7; stroke: #a855f7; stroke-linejoin: miter"/> <path d="M -0 5.65 L 5.65 0 L 0 -5.65 L -5.65 -0 z " transform="translate(191.16 114.84)" style="stroke: #a855f7; stroke-linejoin: miter; fill: #a855f7; stroke: #a855f7; stroke-linejoin: miter"/> <path d="M -0 5.65 L 5.65 0 L 0 -5.65 L -5.65 -0 z " transform="translate(227.16 116.28)" style="stroke: #a855f7; stroke-linejoin: miter; fill: #a855f7; stroke: #a855f7; stroke-linejoin: miter"/> <path d="M -0 5.65 L 5.65 0 L 0 -5.65 L -5.65 -0 z " transform="translate(309.96 102.60)" style="stroke: #a855f7; stroke-linejoin: miter; fill: #a855f7; stroke: #a855f7; stroke-linejoin: miter"/> <path d="M -0 5.65 L 5.65 0 L 0 -5.65 L -5.65 -0 z " transform="translate(345.96 100.44)" style="stroke: #a855f7; stroke-linejoin: miter; fill: #a855f7; stroke: #a855f7; stroke-linejoin: miter"/> <path d="M -0 5.65 L 5.65 0 L 0 -5.65 L -5.65 -0 z " transform="translate(428.76 94.68)" style="stroke: #a855f7; stroke-linejoin: miter; fill: #a855f7; stroke: #a855f7; stroke-linejoin: miter"/> <path d="M -0 5.65 L 5.65 0 L 0 -5.65 L -5.65 -0 z " transform="translate(464.04 93.24)" style="stroke: #a855f7; stroke-linejoin: miter; fill: #a855f7; stroke: #a855f7; stroke-linejoin: miter"/> <path d="M -0 5.65 L 5.65 0 L 0 -5.65 L -5.65 -0 z " transform="translate(500.04 93.24)" style="stroke: #a855f7; stroke-linejoin: miter; fill: #a855f7; stroke: #a855f7; stroke-linejoin: miter"/> <path d="M -0 5.65 L 5.65 0 L 0 -5.65 L -5.65 -0 z " transform="translate(536.04 91.80)" style="stroke: #a855f7; stroke-linejoin: miter; fill: #a855f7; stroke: #a855f7; stroke-linejoin: miter"/> </g> </g> <g id="patch_3"> <path d="M 49.32 408.60 L 49.32 76.68" style="fill: none; stroke: #404040; stroke-width: 0.8; stroke-linejoin: miter; stroke-linecap: square"/> </g> <g id="patch_4"> <path d="M 559.08 408.60 L 559.08 76.68" style="fill: none; stroke: #404040; stroke-width: 0.8; stroke-linejoin: miter; stroke-linecap: square"/> </g> <g id="patch_5"> <path d="M 49.32 408.60 L 559.08 408.60" style="fill: none; stroke: #404040; stroke-width: 0.8; stroke-linejoin: miter; stroke-linecap: square"/> </g> <g id="patch_6"> <path d="M 49.32 76.68 L 559.08 76.68" style="fill: none; stroke: #404040; stroke-width: 0.8; stroke-linejoin: miter; stroke-linecap: square"/> </g> <g id="text_10"> <text style="font-size: 14px; font-family: 'DejaVu Sans', 'Liberation Sans', sans-serif; text-anchor: middle; fill: #f5f5f5" x="304.59" y="71.27" transform="rotate(-0 304.59 71.27)">DD Logs</text> </g> <g id="legend_1"> <g id="patch_7"> <path d="M 474.12 405.00 L 553.32 405.00 Q 554.76 405.00 554.76 403.56 L 554.76 358.92 Q 554.76 357.48 553.32 357.48 L 474.12 357.48 Q 472.68 357.48 472.68 358.92 L 472.68 403.56 Q 472.68 405.00 474.12 405.00 z " style="fill: #171717; opacity: 0.8; stroke: #404040; stroke-linejoin: miter"/> </g> <g id="LineCollection_5"> <path d="M 483.48 367.56 L 483.48 359.64" style="fill: none; stroke: #22c55e; stroke-width: 2"/> </g> <g id="line2d_81"> <g> <path d="M 4.68 0.36 L -3.96 0.36" transform="translate(483.12 367.20)" style="stroke: #22c55e; fill: #22c55e; stroke: #22c55e"/> </g> </g> <g id="line2d_82"> <g> <path d="M 4.68 0.36 L -3.96 0.36" transform="translate(483.12 359.28)" style="stroke: #22c55e; fill: #22c55e; stroke: #22c55e"/> </g> </g> <g id="line2d_83"> <path d="M 475.56 363.96 L 491.40 363.96" style="fill: none; stroke: #22c55e; stroke-width: 2; stroke-linecap: square"/> </g> <g id="line2d_84"> <g> <path d="M 0 4 C 1.06 4 2.07 3.57 2.82 2.82 C 3.57 2.07 4 1.06 4 0 C 4 -1.06 3.57 -2.07 2.82 -2.82 C 2.07 -3.57 1.06 -4 0 -4 C -1.06 -4 -2.07 -3.57 -2.82 -2.82 C -3.57 -2.07 -4 -1.06 -4 0 C -4 1.06 -3.57 2.07 -2.82 2.82 C -2.07 3.57 -1.06 4 0 4 z " transform="translate(483.48 363.96)" style="stroke: #22c55e; fill: #22c55e; stroke: #22c55e"/> </g> </g> <g id="text_11"> <text style="font-size: 8px; font-family: 'DejaVu Sans', 'Liberation Sans', sans-serif; text-anchor: start; fill: #d4d4d4" x="498.05" y="366.95" transform="rotate(-0 498.05 366.95)">edge</text> </g> <g id="LineCollection_6"> <path d="M 483.48 379.08 L 483.48 371.16" style="fill: none; stroke: #f97316; stroke-width: 2"/> </g> <g id="line2d_85"> <g> <path d="M 4.68 0.36 L -3.96 0.36" transform="translate(483.12 378.72)" style="stroke: #f97316; fill: #f97316; stroke: #f97316"/> </g> </g> <g id="line2d_86"> <g> <path d="M 4.68 0.36 L -3.96 0.36" transform="translate(483.12 370.80)" style="stroke: #f97316; fill: #f97316; stroke: #f97316"/> </g> </g> <g id="line2d_87"> <path d="M 475.56 374.76 L 491.40 374.76" style="fill: none; stroke: #f97316; stroke-width: 2; stroke-linecap: square"/> </g> <g id="line2d_88"> <g> <path d="M 0 -4 L -4 4 L 4 4 z " transform="translate(483.48 374.76)" style="stroke: #f97316; stroke-linejoin: miter; fill: #f97316; stroke: #f97316; stroke-linejoin: miter"/> </g> </g> <g id="text_12"> <text style="font-size: 8px; font-family: 'DejaVu Sans', 'Liberation Sans', sans-serif; text-anchor: start; fill: #d4d4d4" x="498.05" y="378.15" transform="rotate(-0 498.05 378.15)">otelcol</text> </g> <g id="LineCollection_7"> <path d="M 483.48 389.88 L 483.48 381.96" style="fill: none; stroke: #06b6d4; stroke-width: 2"/> </g> <g id="line2d_89"> <g> <path d="M 4.68 0.36 L -3.96 0.36" transform="translate(483.12 389.52)" style="stroke: #06b6d4; fill: #06b6d4; stroke: #06b6d4"/> </g> </g> <g id="line2d_90"> <g> <path d="M 4.68 0.36 L -3.96 0.36" transform="translate(483.12 381.60)" style="stroke: #06b6d4; fill: #06b6d4; stroke: #06b6d4"/> </g> </g> <g id="line2d_91"> <path d="M 475.56 386.28 L 491.40 386.28" style="fill: none; stroke: #06b6d4; stroke-width: 2; stroke-linecap: square"/> </g> <g id="line2d_92"> <g> <path d="M -0 4 L 4 -4 L -4 -4 z " transform="translate(483.48 386.28)" style="stroke: #06b6d4; stroke-linejoin: miter; fill: #06b6d4; stroke: #06b6d4; stroke-linejoin: miter"/> </g> </g> <g id="text_13"> <text style="font-size: 8px; font-family: 'DejaVu Sans', 'Liberation Sans', sans-serif; text-anchor: start; fill: #d4d4d4" x="498.05" y="389.35" transform="rotate(-0 498.05 389.35)">tero-collector</text> </g> <g id="LineCollection_8"> <path d="M 483.48 401.40 L 483.48 393.48" style="fill: none; stroke: #a855f7; stroke-width: 2"/> </g> <g id="line2d_93"> <g> <path d="M 4.68 0.36 L -3.96 0.36" transform="translate(483.12 401.04)" style="stroke: #a855f7; fill: #a855f7; stroke: #a855f7"/> </g> </g> <g id="line2d_94"> <g> <path d="M 4.68 0.36 L -3.96 0.36" transform="translate(483.12 393.12)" style="stroke: #a855f7; fill: #a855f7; stroke: #a855f7"/> </g> </g> <g id="line2d_95"> <path d="M 475.56 397.08 L 491.40 397.08" style="fill: none; stroke: #a855f7; stroke-width: 2; stroke-linecap: square"/> </g> <g id="line2d_96"> <g> <path d="M -0 5.65 L 5.65 0 L 0 -5.65 L -5.65 -0 z " transform="translate(483.48 397.08)" style="stroke: #a855f7; stroke-linejoin: miter; fill: #a855f7; stroke: #a855f7; stroke-linejoin: miter"/> </g> </g> <g id="text_14"> <text style="font-size: 8px; font-family: 'DejaVu Sans', 'Liberation Sans', sans-serif; text-anchor: start; fill: #d4d4d4" x="498.05" y="400.55" transform="rotate(-0 498.05 400.55)">vector</text> </g> </g> </g> <g id="axes_2"> <g id="patch_8"> <path d="M 628.38 408.47 L 1137.56 408.47 L 1137.56 76.55 L 628.38 76.55 z " style="fill: #171717"/> </g> <g id="matplotlib.axis_3"> <g id="xtick_40"> <g id="line2d_97"> <path d="M 687.24 408.60 L 687.24 76.68" clip-path="url(#p3f254de0b3)" style="fill: none; stroke: #262626; stroke-width: 0.8; stroke-linecap: square"/> </g> <g id="line2d_98"> <g> <path d="M 0.36 0.36 L 0.36 3.96" transform="translate(686.88 408.24)" style="stroke: #d4d4d4; stroke-width: 0.8; fill: #d4d4d4; stroke: #d4d4d4; stroke-width: 0.8"/> </g> </g> <g id="text_15"> <g style="fill: #d4d4d4" transform="translate(678.10 426.70)"> <text> <tspan x="0.60" y="-0.60" style="font-size: 10px; font-family: 'DejaVu Sans', 'Liberation Sans', sans-serif; fill: #d4d4d4">10</tspan> <tspan x="13.42" y="-4.43" style="font-size: 7px; font-family: 'DejaVu Sans', 'Liberation Sans', sans-serif; fill: #d4d4d4">0</tspan> </text> </g> </g> </g> <g id="xtick_41"> <g id="line2d_99"> <path d="M 806.04 408.60 L 806.04 76.68" clip-path="url(#p3f254de0b3)" style="fill: none; stroke: #262626; stroke-width: 0.8; stroke-linecap: square"/> </g> <g id="line2d_100"> <g> <path d="M 0.36 0.36 L 0.36 3.96" transform="translate(805.68 408.24)" style="stroke: #d4d4d4; stroke-width: 0.8; fill: #d4d4d4; stroke: #d4d4d4; stroke-width: 0.8"/> </g> </g> <g id="text_16"> <g style="fill: #d4d4d4" transform="translate(796.80 426.70)"> <text> <tspan x="0.60" y="-0.60" style="font-size: 10px; font-family: 'DejaVu Sans', 'Liberation Sans', sans-serif; fill: #d4d4d4">10</tspan> <tspan x="13.42" y="-4.43" style="font-size: 7px; font-family: 'DejaVu Sans', 'Liberation Sans', sans-serif; fill: #d4d4d4">1</tspan> </text> </g> </g> </g> <g id="xtick_42"> <g id="line2d_101"> <path d="M 924.84 408.60 L 924.84 76.68" clip-path="url(#p3f254de0b3)" style="fill: none; stroke: #262626; stroke-width: 0.8; stroke-linecap: square"/> </g> <g id="line2d_102"> <g> <path d="M 0.36 0.36 L 0.36 3.96" transform="translate(924.48 408.24)" style="stroke: #d4d4d4; stroke-width: 0.8; fill: #d4d4d4; stroke: #d4d4d4; stroke-width: 0.8"/> </g> </g> <g id="text_17"> <g style="fill: #d4d4d4" transform="translate(915.42 426.70)"> <text> <tspan x="0.60" y="-0.60" style="font-size: 10px; font-family: 'DejaVu Sans', 'Liberation Sans', sans-serif; fill: #d4d4d4">10</tspan> <tspan x="13.42" y="-4.43" style="font-size: 7px; font-family: 'DejaVu Sans', 'Liberation Sans', sans-serif; fill: #d4d4d4">2</tspan> </text> </g> </g> </g> <g id="xtick_43"> <g id="line2d_103"> <path d="M 1043.64 408.60 L 1043.64 76.68" clip-path="url(#p3f254de0b3)" style="fill: none; stroke: #262626; stroke-width: 0.8; stroke-linecap: square"/> </g> <g id="line2d_104"> <g> <path d="M 0.36 0.36 L 0.36 3.96" transform="translate(1043.28 408.24)" style="stroke: #d4d4d4; stroke-width: 0.8; fill: #d4d4d4; stroke: #d4d4d4; stroke-width: 0.8"/> </g> </g> <g id="text_18"> <g style="fill: #d4d4d4" transform="translate(1033.97 426.70)"> <text> <tspan x="0.60" y="-0.60" style="font-size: 10px; font-family: 'DejaVu Sans', 'Liberation Sans', sans-serif; fill: #d4d4d4">10</tspan> <tspan x="13.42" y="-4.43" style="font-size: 7px; font-family: 'DejaVu Sans', 'Liberation Sans', sans-serif; fill: #d4d4d4">3</tspan> </text> </g> </g> </g> <g id="xtick_44"> <g id="line2d_105"> <g> <path d="M 0.36 0.36 L 0.36 2.52" transform="translate(640.08 408.24)" style="stroke: #d4d4d4; stroke-width: 0.6; fill: #d4d4d4; stroke: #d4d4d4; stroke-width: 0.6"/> </g> </g> </g> <g id="xtick_45"> <g id="line2d_106"> <g> <path d="M 0.36 0.36 L 0.36 2.52" transform="translate(651.60 408.24)" style="stroke: #d4d4d4; stroke-width: 0.6; fill: #d4d4d4; stroke: #d4d4d4; stroke-width: 0.6"/> </g> </g> </g> <g id="xtick_46"> <g id="line2d_107"> <g> <path d="M 0.36 0.36 L 0.36 2.52" transform="translate(660.96 408.24)" style="stroke: #d4d4d4; stroke-width: 0.6; fill: #d4d4d4; stroke: #d4d4d4; stroke-width: 0.6"/> </g> </g> </g> <g id="xtick_47"> <g id="line2d_108"> <g> <path d="M 0.36 0.36 L 0.36 2.52" transform="translate(668.88 408.24)" style="stroke: #d4d4d4; stroke-width: 0.6; fill: #d4d4d4; stroke: #d4d4d4; stroke-width: 0.6"/> </g> </g> </g> <g id="xtick_48"> <g id="line2d_109"> <g> <path d="M 0.36 0.36 L 0.36 2.52" transform="translate(675.36 408.24)" style="stroke: #d4d4d4; stroke-width: 0.6; fill: #d4d4d4; stroke: #d4d4d4; stroke-width: 0.6"/> </g> </g> </g> <g id="xtick_49"> <g id="line2d_110"> <g> <path d="M 0.36 0.36 L 0.36 2.52" transform="translate(681.84 408.24)" style="stroke: #d4d4d4; stroke-width: 0.6; fill: #d4d4d4; stroke: #d4d4d4; stroke-width: 0.6"/> </g> </g> </g> <g id="xtick_50"> <g id="line2d_111"> <g> <path d="M 0.36 0.36 L 0.36 2.52" transform="translate(722.88 408.24)" style="stroke: #d4d4d4; stroke-width: 0.6; fill: #d4d4d4; stroke: #d4d4d4; stroke-width: 0.6"/> </g> </g> </g> <g id="xtick_51"> <g id="line2d_112"> <g> <path d="M 0.36 0.36 L 0.36 2.52" transform="translate(743.76 408.24)" style="stroke: #d4d4d4; stroke-width: 0.6; fill: #d4d4d4; stroke: #d4d4d4; stroke-width: 0.6"/> </g> </g> </g> <g id="xtick_52"> <g id="line2d_113"> <g> <path d="M 0.36 0.36 L 0.36 2.52" transform="translate(758.88 408.24)" style="stroke: #d4d4d4; stroke-width: 0.6; fill: #d4d4d4; stroke: #d4d4d4; stroke-width: 0.6"/> </g> </g> </g> <g id="xtick_53"> <g id="line2d_114"> <g> <path d="M 0.36 0.36 L 0.36 2.52" transform="translate(770.40 408.24)" style="stroke: #d4d4d4; stroke-width: 0.6; fill: #d4d4d4; stroke: #d4d4d4; stroke-width: 0.6"/> </g> </g> </g> <g id="xtick_54"> <g id="line2d_115"> <g> <path d="M 0.36 0.36 L 0.36 2.52" transform="translate(779.76 408.24)" style="stroke: #d4d4d4; stroke-width: 0.6; fill: #d4d4d4; stroke: #d4d4d4; stroke-width: 0.6"/> </g> </g> </g> <g id="xtick_55"> <g id="line2d_116"> <g> <path d="M 0.36 0.36 L 0.36 2.52" transform="translate(787.68 408.24)" style="stroke: #d4d4d4; stroke-width: 0.6; fill: #d4d4d4; stroke: #d4d4d4; stroke-width: 0.6"/> </g> </g> </g> <g id="xtick_56"> <g id="line2d_117"> <g> <path d="M 0.36 0.36 L 0.36 2.52" transform="translate(794.16 408.24)" style="stroke: #d4d4d4; stroke-width: 0.6; fill: #d4d4d4; stroke: #d4d4d4; stroke-width: 0.6"/> </g> </g> </g> <g id="xtick_57"> <g id="line2d_118"> <g> <path d="M 0.36 0.36 L 0.36 2.52" transform="translate(800.64 408.24)" style="stroke: #d4d4d4; stroke-width: 0.6; fill: #d4d4d4; stroke: #d4d4d4; stroke-width: 0.6"/> </g> </g> </g> <g id="xtick_58"> <g id="line2d_119"> <g> <path d="M 0.36 0.36 L 0.36 2.52" transform="translate(841.68 408.24)" style="stroke: #d4d4d4; stroke-width: 0.6; fill: #d4d4d4; stroke: #d4d4d4; stroke-width: 0.6"/> </g> </g> </g> <g id="xtick_59"> <g id="line2d_120"> <g> <path d="M 0.36 0.36 L 0.36 2.52" transform="translate(862.56 408.24)" style="stroke: #d4d4d4; stroke-width: 0.6; fill: #d4d4d4; stroke: #d4d4d4; stroke-width: 0.6"/> </g> </g> </g> <g id="xtick_60"> <g id="line2d_121"> <g> <path d="M 0.36 0.36 L 0.36 2.52" transform="translate(876.96 408.24)" style="stroke: #d4d4d4; stroke-width: 0.6; fill: #d4d4d4; stroke: #d4d4d4; stroke-width: 0.6"/> </g> </g> </g> <g id="xtick_61"> <g id="line2d_122"> <g> <path d="M 0.36 0.36 L 0.36 2.52" transform="translate(888.48 408.24)" style="stroke: #d4d4d4; stroke-width: 0.6; fill: #d4d4d4; stroke: #d4d4d4; stroke-width: 0.6"/> </g> </g> </g> <g id="xtick_62"> <g id="line2d_123"> <g> <path d="M 0.36 0.36 L 0.36 2.52" transform="translate(897.84 408.24)" style="stroke: #d4d4d4; stroke-width: 0.6; fill: #d4d4d4; stroke: #d4d4d4; stroke-width: 0.6"/> </g> </g> </g> <g id="xtick_63"> <g id="line2d_124"> <g> <path d="M 0.36 0.36 L 0.36 2.52" transform="translate(905.76 408.24)" style="stroke: #d4d4d4; stroke-width: 0.6; fill: #d4d4d4; stroke: #d4d4d4; stroke-width: 0.6"/> </g> </g> </g> <g id="xtick_64"> <g id="line2d_125"> <g> <path d="M 0.36 0.36 L 0.36 2.52" transform="translate(912.96 408.24)" style="stroke: #d4d4d4; stroke-width: 0.6; fill: #d4d4d4; stroke: #d4d4d4; stroke-width: 0.6"/> </g> </g> </g> <g id="xtick_65"> <g id="line2d_126"> <g> <path d="M 0.36 0.36 L 0.36 2.52" transform="translate(918.72 408.24)" style="stroke: #d4d4d4; stroke-width: 0.6; fill: #d4d4d4; stroke: #d4d4d4; stroke-width: 0.6"/> </g> </g> </g> <g id="xtick_66"> <g id="line2d_127"> <g> <path d="M 0.36 0.36 L 0.36 2.52" transform="translate(960.48 408.24)" style="stroke: #d4d4d4; stroke-width: 0.6; fill: #d4d4d4; stroke: #d4d4d4; stroke-width: 0.6"/> </g> </g> </g> <g id="xtick_67"> <g id="line2d_128"> <g> <path d="M 0.36 0.36 L 0.36 2.52" transform="translate(981.36 408.24)" style="stroke: #d4d4d4; stroke-width: 0.6; fill: #d4d4d4; stroke: #d4d4d4; stroke-width: 0.6"/> </g> </g> </g> <g id="xtick_68"> <g id="line2d_129"> <g> <path d="M 0.36 0.36 L 0.36 2.52" transform="translate(995.76 408.24)" style="stroke: #d4d4d4; stroke-width: 0.6; fill: #d4d4d4; stroke: #d4d4d4; stroke-width: 0.6"/> </g> </g> </g> <g id="xtick_69"> <g id="line2d_130"> <g> <path d="M 0.36 0.36 L 0.36 2.52" transform="translate(1007.28 408.24)" style="stroke: #d4d4d4; stroke-width: 0.6; fill: #d4d4d4; stroke: #d4d4d4; stroke-width: 0.6"/> </g> </g> </g> <g id="xtick_70"> <g id="line2d_131"> <g> <path d="M 0.36 0.36 L 0.36 2.52" transform="translate(1016.64 408.24)" style="stroke: #d4d4d4; stroke-width: 0.6; fill: #d4d4d4; stroke: #d4d4d4; stroke-width: 0.6"/> </g> </g> </g> <g id="xtick_71"> <g id="line2d_132"> <g> <path d="M 0.36 0.36 L 0.36 2.52" transform="translate(1024.56 408.24)" style="stroke: #d4d4d4; stroke-width: 0.6; fill: #d4d4d4; stroke: #d4d4d4; stroke-width: 0.6"/> </g> </g> </g> <g id="xtick_72"> <g id="line2d_133"> <g> <path d="M 0.36 0.36 L 0.36 2.52" transform="translate(1031.76 408.24)" style="stroke: #d4d4d4; stroke-width: 0.6; fill: #d4d4d4; stroke: #d4d4d4; stroke-width: 0.6"/> </g> </g> </g> <g id="xtick_73"> <g id="line2d_134"> <g> <path d="M 0.36 0.36 L 0.36 2.52" transform="translate(1037.52 408.24)" style="stroke: #d4d4d4; stroke-width: 0.6; fill: #d4d4d4; stroke: #d4d4d4; stroke-width: 0.6"/> </g> </g> </g> <g id="xtick_74"> <g id="line2d_135"> <g> <path d="M 0.36 0.36 L 0.36 2.52" transform="translate(1078.56 408.24)" style="stroke: #d4d4d4; stroke-width: 0.6; fill: #d4d4d4; stroke: #d4d4d4; stroke-width: 0.6"/> </g> </g> </g> <g id="xtick_75"> <g id="line2d_136"> <g> <path d="M 0.36 0.36 L 0.36 2.52" transform="translate(1099.44 408.24)" style="stroke: #d4d4d4; stroke-width: 0.6; fill: #d4d4d4; stroke: #d4d4d4; stroke-width: 0.6"/> </g> </g> </g> <g id="xtick_76"> <g id="line2d_137"> <g> <path d="M 0.36 0.36 L 0.36 2.52" transform="translate(1114.56 408.24)" style="stroke: #d4d4d4; stroke-width: 0.6; fill: #d4d4d4; stroke: #d4d4d4; stroke-width: 0.6"/> </g> </g> </g> <g id="xtick_77"> <g id="line2d_138"> <g> <path d="M 0.36 0.36 L 0.36 2.52" transform="translate(1126.08 408.24)" style="stroke: #d4d4d4; stroke-width: 0.6; fill: #d4d4d4; stroke: #d4d4d4; stroke-width: 0.6"/> </g> </g> </g> <g id="xtick_78"> <g id="line2d_139"> <g> <path d="M 0.36 0.36 L 0.36 2.52" transform="translate(1135.44 408.24)" style="stroke: #d4d4d4; stroke-width: 0.6; fill: #d4d4d4; stroke: #d4d4d4; stroke-width: 0.6"/> </g> </g> </g> <g id="text_19"> <text style="font-size: 12px; font-family: 'DejaVu Sans', 'Liberation Sans', sans-serif; text-anchor: middle; fill: #d4d4d4" x="882.97" y="442.94" transform="rotate(-0 882.97 442.94) translate(883.17 443.39) scale(1 1.070) translate(-882.97 -442.94)">Policy Count</text> </g> </g> <g id="matplotlib.axis_4"> <g id="ytick_23"> <g id="line2d_140"> <path d="M 628.92 374.76 L 1137.96 374.76" clip-path="url(#p3f254de0b3)" style="fill: none; stroke: #262626; stroke-width: 0.8; stroke-linecap: square"/> </g> <g id="line2d_141"> <g> <path d="M 0.36 0.36 L -3.24 0.36" transform="translate(628.56 374.40)" style="stroke: #d4d4d4; stroke-width: 0.8; fill: #d4d4d4; stroke: #d4d4d4; stroke-width: 0.8"/> </g> </g> <g id="text_20"> <g style="fill: #d4d4d4" transform="translate(603.34 380.26)"> <text> <tspan x="0.60" y="-0.60" style="font-size: 10px; font-family: 'DejaVu Sans', 'Liberation Sans', sans-serif; fill: #d4d4d4">10</tspan> <tspan x="13.42" y="-4.43" style="font-size: 7px; font-family: 'DejaVu Sans', 'Liberation Sans', sans-serif; fill: #d4d4d4">1</tspan> </text> </g> </g> </g> <g id="ytick_24"> <g id="line2d_142"> <path d="M 628.92 245.16 L 1137.96 245.16" clip-path="url(#p3f254de0b3)" style="fill: none; stroke: #262626; stroke-width: 0.8; stroke-linecap: square"/> </g> <g id="line2d_143"> <g> <path d="M 0.36 0.36 L -3.24 0.36" transform="translate(628.56 244.80)" style="stroke: #d4d4d4; stroke-width: 0.8; fill: #d4d4d4; stroke: #d4d4d4; stroke-width: 0.8"/> </g> </g> <g id="text_21"> <g style="fill: #d4d4d4" transform="translate(603.36 250.74)"> <text> <tspan x="0.60" y="-0.60" style="font-size: 10px; font-family: 'DejaVu Sans', 'Liberation Sans', sans-serif; fill: #d4d4d4">10</tspan> <tspan x="13.42" y="-4.43" style="font-size: 7px; font-family: 'DejaVu Sans', 'Liberation Sans', sans-serif; fill: #d4d4d4">2</tspan> </text> </g> </g> </g> <g id="ytick_25"> <g id="line2d_144"> <path d="M 628.92 116.28 L 1137.96 116.28" clip-path="url(#p3f254de0b3)" style="fill: none; stroke: #262626; stroke-width: 0.8; stroke-linecap: square"/> </g> <g id="line2d_145"> <g> <path d="M 0.36 0.36 L -3.24 0.36" transform="translate(628.56 115.92)" style="stroke: #d4d4d4; stroke-width: 0.8; fill: #d4d4d4; stroke: #d4d4d4; stroke-width: 0.8"/> </g> </g> <g id="text_22"> <g style="fill: #d4d4d4" transform="translate(603.25 121.21)"> <text> <tspan x="0.60" y="-0.60" style="font-size: 10px; font-family: 'DejaVu Sans', 'Liberation Sans', sans-serif; fill: #d4d4d4">10</tspan> <tspan x="13.42" y="-4.43" style="font-size: 7px; font-family: 'DejaVu Sans', 'Liberation Sans', sans-serif; fill: #d4d4d4">3</tspan> </text> </g> </g> </g> <g id="ytick_26"> <g id="line2d_146"> <g> <path d="M 0.36 0.36 L -1.80 0.36" transform="translate(628.56 403.20)" style="stroke: #d4d4d4; stroke-width: 0.6; fill: #d4d4d4; stroke: #d4d4d4; stroke-width: 0.6"/> </g> </g> </g> <g id="ytick_27"> <g id="line2d_147"> <g> <path d="M 0.36 0.36 L -1.80 0.36" transform="translate(628.56 394.56)" style="stroke: #d4d4d4; stroke-width: 0.6; fill: #d4d4d4; stroke: #d4d4d4; stroke-width: 0.6"/> </g> </g> </g> <g id="ytick_28"> <g id="line2d_148"> <g> <path d="M 0.36 0.36 L -1.80 0.36" transform="translate(628.56 387.36)" style="stroke: #d4d4d4; stroke-width: 0.6; fill: #d4d4d4; stroke: #d4d4d4; stroke-width: 0.6"/> </g> </g> </g> <g id="ytick_29"> <g id="line2d_149"> <g> <path d="M 0.36 0.36 L -1.80 0.36" transform="translate(628.56 380.88)" style="stroke: #d4d4d4; stroke-width: 0.6; fill: #d4d4d4; stroke: #d4d4d4; stroke-width: 0.6"/> </g> </g> </g> <g id="ytick_30"> <g id="line2d_150"> <g> <path d="M 0.36 0.36 L -1.80 0.36" transform="translate(628.56 335.52)" style="stroke: #d4d4d4; stroke-width: 0.6; fill: #d4d4d4; stroke: #d4d4d4; stroke-width: 0.6"/> </g> </g> </g> <g id="ytick_31"> <g id="line2d_151"> <g> <path d="M 0.36 0.36 L -1.80 0.36" transform="translate(628.56 313.20)" style="stroke: #d4d4d4; stroke-width: 0.6; fill: #d4d4d4; stroke: #d4d4d4; stroke-width: 0.6"/> </g> </g> </g> <g id="ytick_32"> <g id="line2d_152"> <g> <path d="M 0.36 0.36 L -1.80 0.36" transform="translate(628.56 296.64)" style="stroke: #d4d4d4; stroke-width: 0.6; fill: #d4d4d4; stroke: #d4d4d4; stroke-width: 0.6"/> </g> </g> </g> <g id="ytick_33"> <g id="line2d_153"> <g> <path d="M 0.36 0.36 L -1.80 0.36" transform="translate(628.56 284.40)" style="stroke: #d4d4d4; stroke-width: 0.6; fill: #d4d4d4; stroke: #d4d4d4; stroke-width: 0.6"/> </g> </g> </g> <g id="ytick_34"> <g id="line2d_154"> <g> <path d="M 0.36 0.36 L -1.80 0.36" transform="translate(628.56 273.60)" style="stroke: #d4d4d4; stroke-width: 0.6; fill: #d4d4d4; stroke: #d4d4d4; stroke-width: 0.6"/> </g> </g> </g> <g id="ytick_35"> <g id="line2d_155"> <g> <path d="M 0.36 0.36 L -1.80 0.36" transform="translate(628.56 264.96)" style="stroke: #d4d4d4; stroke-width: 0.6; fill: #d4d4d4; stroke: #d4d4d4; stroke-width: 0.6"/> </g> </g> </g> <g id="ytick_36"> <g id="line2d_156"> <g> <path d="M 0.36 0.36 L -1.80 0.36" transform="translate(628.56 257.76)" style="stroke: #d4d4d4; stroke-width: 0.6; fill: #d4d4d4; stroke: #d4d4d4; stroke-width: 0.6"/> </g> </g> </g> <g id="ytick_37"> <g id="line2d_157"> <g> <path d="M 0.36 0.36 L -1.80 0.36" transform="translate(628.56 251.28)" style="stroke: #d4d4d4; stroke-width: 0.6; fill: #d4d4d4; stroke: #d4d4d4; stroke-width: 0.6"/> </g> </g> </g> <g id="ytick_38"> <g id="line2d_158"> <g> <path d="M 0.36 0.36 L -1.80 0.36" transform="translate(628.56 205.92)" style="stroke: #d4d4d4; stroke-width: 0.6; fill: #d4d4d4; stroke: #d4d4d4; stroke-width: 0.6"/> </g> </g> </g> <g id="ytick_39"> <g id="line2d_159"> <g> <path d="M 0.36 0.36 L -1.80 0.36" transform="translate(628.56 183.60)" style="stroke: #d4d4d4; stroke-width: 0.6; fill: #d4d4d4; stroke: #d4d4d4; stroke-width: 0.6"/> </g> </g> </g> <g id="ytick_40"> <g id="line2d_160"> <g> <path d="M 0.36 0.36 L -1.80 0.36" transform="translate(628.56 167.04)" style="stroke: #d4d4d4; stroke-width: 0.6; fill: #d4d4d4; stroke: #d4d4d4; stroke-width: 0.6"/> </g> </g> </g> <g id="ytick_41"> <g id="line2d_161"> <g> <path d="M 0.36 0.36 L -1.80 0.36" transform="translate(628.56 154.80)" style="stroke: #d4d4d4; stroke-width: 0.6; fill: #d4d4d4; stroke: #d4d4d4; stroke-width: 0.6"/> </g> </g> </g> <g id="ytick_42"> <g id="line2d_162"> <g> <path d="M 0.36 0.36 L -1.80 0.36" transform="translate(628.56 144.00)" style="stroke: #d4d4d4; stroke-width: 0.6; fill: #d4d4d4; stroke: #d4d4d4; stroke-width: 0.6"/> </g> </g> </g> <g id="ytick_43"> <g id="line2d_163"> <g> <path d="M 0.36 0.36 L -1.80 0.36" transform="translate(628.56 135.36)" style="stroke: #d4d4d4; stroke-width: 0.6; fill: #d4d4d4; stroke: #d4d4d4; stroke-width: 0.6"/> </g> </g> </g> <g id="ytick_44"> <g id="line2d_164"> <g> <path d="M 0.36 0.36 L -1.80 0.36" transform="translate(628.56 128.16)" style="stroke: #d4d4d4; stroke-width: 0.6; fill: #d4d4d4; stroke: #d4d4d4; stroke-width: 0.6"/> </g> </g> </g> <g id="ytick_45"> <g id="line2d_165"> <g> <path d="M 0.36 0.36 L -1.80 0.36" transform="translate(628.56 121.68)" style="stroke: #d4d4d4; stroke-width: 0.6; fill: #d4d4d4; stroke: #d4d4d4; stroke-width: 0.6"/> </g> </g> </g> <g id="ytick_46"> <g id="line2d_166"> <g> <path d="M 0.36 0.36 L -1.80 0.36" transform="translate(628.56 76.32)" style="stroke: #d4d4d4; stroke-width: 0.6; fill: #d4d4d4; stroke: #d4d4d4; stroke-width: 0.6"/> </g> </g> </g> <g id="text_23"> <text style="font-size: 12px; font-family: 'DejaVu Sans', 'Liberation Sans', sans-serif; text-anchor: middle; fill: #d4d4d4" x="596.37" y="242.51" transform="rotate(-90 596.37 242.51) translate(595.11 241.51) scale(1 1.070) translate(-596.37 -242.51)">CPU Usage (%)</text> </g> </g> <g id="FillBetweenPolyCollection_5"> <g clip-path="url(#p3f254de0b3)"> <path d="M 651.50 -655.91 L 651.50 -654.07 L 687.20 -655.05 L 770.11 -663.48 L 805.81 -663.48 L 888.72 -663.74 L 924.42 -664.29 L 1007.32 -664.29 L 1043.03 -664.29 L 1078.73 -664.29 L 1114.44 -664.58 L 1114.44 -665.35 L 1114.44 -665.35 L 1078.73 -665.06 L 1043.03 -665.06 L 1007.32 -665.06 L 924.42 -665.06 L 888.72 -664.52 L 805.81 -664.27 L 770.11 -664.27 L 687.20 -656.41 L 651.50 -655.91 z " transform="translate(0.00 849.60)" style="stroke: #22c55e; stroke-opacity: 0.2; fill: #22c55e; fill-opacity: 0.2; stroke: #22c55e; stroke-opacity: 0.2"/> </g> </g> <g id="FillBetweenPolyCollection_6"> <g clip-path="url(#p3f254de0b3)"> <path d="M 651.50 -549.51 L 651.50 -532.87 L 687.20 -532.47 L 770.11 -549.21 L 805.81 -552.00 L 888.72 -559.51 L 924.42 -582.99 L 1007.32 -624.21 L 1043.03 -650.20 L 1078.73 -682.53 L 1114.44 -728.35 L 1114.44 -731.39 L 1114.44 -731.39 L 1078.73 -688.92 L 1043.03 -657.69 L 1007.32 -635.35 L 924.42 -586.98 L 888.72 -578.51 L 805.81 -553.42 L 770.11 -554.94 L 687.20 -546.74 L 651.50 -549.51 z " transform="translate(0.00 849.60)" style="stroke: #f97316; stroke-opacity: 0.2; fill: #f97316; fill-opacity: 0.2; stroke: #f97316; stroke-opacity: 0.2"/> </g> </g> <g id="FillBetweenPolyCollection_7"> <g clip-path="url(#p3f254de0b3)"> <path d="M 651.50 -475.16 L 651.50 -475.16 L 687.20 -456.68 L 770.11 -475.16 L 805.81 -475.16 L 888.72 -475.16 L 924.42 -475.16 L 1007.32 -475.16 L 1043.03 -475.16 L 1078.73 -475.16 L 1114.44 -475.16 L 1114.44 -475.16 L 1114.44 -475.16 L 1078.73 -475.16 L 1043.03 -475.16 L 1007.32 -475.16 L 924.42 -475.16 L 888.72 -475.16 L 805.81 -475.16 L 770.11 -475.16 L 687.20 -483.50 L 651.50 -475.16 z " transform="translate(0.00 849.60)" style="stroke: #06b6d4; stroke-opacity: 0.2; fill: #06b6d4; fill-opacity: 0.2; stroke: #06b6d4; stroke-opacity: 0.2"/> </g> </g> <g id="FillBetweenPolyCollection_8"> <g clip-path="url(#p3f254de0b3)"> <path d="M 651.50 -715.58 L 651.50 -714.31 L 687.20 -714.31 L 770.11 -731.80 L 805.81 -731.68 L 888.72 -740.74 L 924.42 -747.44 L 1007.32 -754.53 L 1043.03 -756.04 L 1078.73 -757.17 L 1114.44 -757.54 L 1114.44 -758.28 L 1114.44 -758.28 L 1078.73 -757.91 L 1043.03 -756.80 L 1007.32 -755.31 L 924.42 -748.32 L 888.72 -742.71 L 805.81 -734.55 L 770.11 -732.96 L 687.20 -715.58 L 651.50 -715.58 z " transform="translate(0.00 849.60)" style="stroke: #a855f7; stroke-opacity: 0.2; fill: #a855f7; fill-opacity: 0.2; stroke: #a855f7; stroke-opacity: 0.2"/> </g> </g> <g id="LineCollection_9"> <path d="M 651.96 196.20 L 651.96 194.04" clip-path="url(#p3f254de0b3)" style="fill: none; stroke: #22c55e; stroke-width: 2"/> <path d="M 687.24 194.76 L 687.24 193.32" clip-path="url(#p3f254de0b3)" style="fill: none; stroke: #22c55e; stroke-width: 2"/> <path d="M 770.76 186.12 L 770.76 185.40" clip-path="url(#p3f254de0b3)" style="fill: none; stroke: #22c55e; stroke-width: 2"/> <path d="M 806.04 186.12 L 806.04 185.40" clip-path="url(#p3f254de0b3)" style="fill: none; stroke: #22c55e; stroke-width: 2"/> <path d="M 888.84 186.12 L 888.84 185.40" clip-path="url(#p3f254de0b3)" style="fill: none; stroke: #22c55e; stroke-width: 2"/> <path d="M 924.84 185.40 L 924.84 184.68" clip-path="url(#p3f254de0b3)" style="fill: none; stroke: #22c55e; stroke-width: 2"/> <path d="M 1007.64 185.40 L 1007.64 184.68" clip-path="url(#p3f254de0b3)" style="fill: none; stroke: #22c55e; stroke-width: 2"/> <path d="M 1043.64 185.40 L 1043.64 184.68" clip-path="url(#p3f254de0b3)" style="fill: none; stroke: #22c55e; stroke-width: 2"/> <path d="M 1078.92 185.40 L 1078.92 184.68" clip-path="url(#p3f254de0b3)" style="fill: none; stroke: #22c55e; stroke-width: 2"/> <path d="M 1114.92 185.40 L 1114.92 184.68" clip-path="url(#p3f254de0b3)" style="fill: none; stroke: #22c55e; stroke-width: 2"/> </g> <g id="line2d_167"> <g clip-path="url(#p3f254de0b3)"> <path d="M 4.68 0.36 L -3.96 0.36" transform="translate(651.60 195.84)" style="stroke: #22c55e; fill: #22c55e; stroke: #22c55e"/> <path d="M 4.68 0.36 L -3.96 0.36" transform="translate(686.88 194.40)" style="stroke: #22c55e; fill: #22c55e; stroke: #22c55e"/> <path d="M 4.68 0.36 L -3.96 0.36" transform="translate(770.40 185.76)" style="stroke: #22c55e; fill: #22c55e; stroke: #22c55e"/> <path d="M 4.68 0.36 L -3.96 0.36" transform="translate(805.68 185.76)" style="stroke: #22c55e; fill: #22c55e; stroke: #22c55e"/> <path d="M 4.68 0.36 L -3.96 0.36" transform="translate(888.48 185.76)" style="stroke: #22c55e; fill: #22c55e; stroke: #22c55e"/> <path d="M 4.68 0.36 L -3.96 0.36" transform="translate(924.48 185.04)" style="stroke: #22c55e; fill: #22c55e; stroke: #22c55e"/> <path d="M 4.68 0.36 L -3.96 0.36" transform="translate(1007.28 185.04)" style="stroke: #22c55e; fill: #22c55e; stroke: #22c55e"/> <path d="M 4.68 0.36 L -3.96 0.36" transform="translate(1043.28 185.04)" style="stroke: #22c55e; fill: #22c55e; stroke: #22c55e"/> <path d="M 4.68 0.36 L -3.96 0.36" transform="translate(1078.56 185.04)" style="stroke: #22c55e; fill: #22c55e; stroke: #22c55e"/> <path d="M 4.68 0.36 L -3.96 0.36" transform="translate(1114.56 185.04)" style="stroke: #22c55e; fill: #22c55e; stroke: #22c55e"/> </g> </g> <g id="line2d_168"> <g clip-path="url(#p3f254de0b3)"> <path d="M 4.68 0.36 L -3.96 0.36" transform="translate(651.60 193.68)" style="stroke: #22c55e; fill: #22c55e; stroke: #22c55e"/> <path d="M 4.68 0.36 L -3.96 0.36" transform="translate(686.88 192.96)" style="stroke: #22c55e; fill: #22c55e; stroke: #22c55e"/> <path d="M 4.68 0.36 L -3.96 0.36" transform="translate(770.40 185.04)" style="stroke: #22c55e; fill: #22c55e; stroke: #22c55e"/> <path d="M 4.68 0.36 L -3.96 0.36" transform="translate(805.68 185.04)" style="stroke: #22c55e; fill: #22c55e; stroke: #22c55e"/> <path d="M 4.68 0.36 L -3.96 0.36" transform="translate(888.48 185.04)" style="stroke: #22c55e; fill: #22c55e; stroke: #22c55e"/> <path d="M 4.68 0.36 L -3.96 0.36" transform="translate(924.48 184.32)" style="stroke: #22c55e; fill: #22c55e; stroke: #22c55e"/> <path d="M 4.68 0.36 L -3.96 0.36" transform="translate(1007.28 184.32)" style="stroke: #22c55e; fill: #22c55e; stroke: #22c55e"/> <path d="M 4.68 0.36 L -3.96 0.36" transform="translate(1043.28 184.32)" style="stroke: #22c55e; fill: #22c55e; stroke: #22c55e"/> <path d="M 4.68 0.36 L -3.96 0.36" transform="translate(1078.56 184.32)" style="stroke: #22c55e; fill: #22c55e; stroke: #22c55e"/> <path d="M 4.68 0.36 L -3.96 0.36" transform="translate(1114.56 184.32)" style="stroke: #22c55e; fill: #22c55e; stroke: #22c55e"/> </g> </g> <g id="LineCollection_10"> <path d="M 651.96 317.16 L 651.96 300.60" clip-path="url(#p3f254de0b3)" style="fill: none; stroke: #f97316; stroke-width: 2"/> <path d="M 687.24 317.16 L 687.24 303.48" clip-path="url(#p3f254de0b3)" style="fill: none; stroke: #f97316; stroke-width: 2"/> <path d="M 770.76 300.60 L 770.76 294.84" clip-path="url(#p3f254de0b3)" style="fill: none; stroke: #f97316; stroke-width: 2"/> <path d="M 806.04 297.72 L 806.04 296.28" clip-path="url(#p3f254de0b3)" style="fill: none; stroke: #f97316; stroke-width: 2"/> <path d="M 888.84 290.52 L 888.84 271.80" clip-path="url(#p3f254de0b3)" style="fill: none; stroke: #f97316; stroke-width: 2"/> <path d="M 924.84 266.76 L 924.84 263.16" clip-path="url(#p3f254de0b3)" style="fill: none; stroke: #f97316; stroke-width: 2"/> <path d="M 1007.64 225.72 L 1007.64 214.92" clip-path="url(#p3f254de0b3)" style="fill: none; stroke: #f97316; stroke-width: 2"/> <path d="M 1043.64 199.80 L 1043.64 192.60" clip-path="url(#p3f254de0b3)" style="fill: none; stroke: #f97316; stroke-width: 2"/> <path d="M 1078.92 167.40 L 1078.92 160.92" clip-path="url(#p3f254de0b3)" style="fill: none; stroke: #f97316; stroke-width: 2"/> <path d="M 1114.92 121.32 L 1114.92 118.44" clip-path="url(#p3f254de0b3)" style="fill: none; stroke: #f97316; stroke-width: 2"/> </g> <g id="line2d_169"> <g clip-path="url(#p3f254de0b3)"> <path d="M 4.68 0.36 L -3.96 0.36" transform="translate(651.60 316.80)" style="stroke: #f97316; fill: #f97316; stroke: #f97316"/> <path d="M 4.68 0.36 L -3.96 0.36" transform="translate(686.88 316.80)" style="stroke: #f97316; fill: #f97316; stroke: #f97316"/> <path d="M 4.68 0.36 L -3.96 0.36" transform="translate(770.40 300.24)" style="stroke: #f97316; fill: #f97316; stroke: #f97316"/> <path d="M 4.68 0.36 L -3.96 0.36" transform="translate(805.68 297.36)" style="stroke: #f97316; fill: #f97316; stroke: #f97316"/> <path d="M 4.68 0.36 L -3.96 0.36" transform="translate(888.48 290.16)" style="stroke: #f97316; fill: #f97316; stroke: #f97316"/> <path d="M 4.68 0.36 L -3.96 0.36" transform="translate(924.48 266.40)" style="stroke: #f97316; fill: #f97316; stroke: #f97316"/> <path d="M 4.68 0.36 L -3.96 0.36" transform="translate(1007.28 225.36)" style="stroke: #f97316; fill: #f97316; stroke: #f97316"/> <path d="M 4.68 0.36 L -3.96 0.36" transform="translate(1043.28 199.44)" style="stroke: #f97316; fill: #f97316; stroke: #f97316"/> <path d="M 4.68 0.36 L -3.96 0.36" transform="translate(1078.56 167.04)" style="stroke: #f97316; fill: #f97316; stroke: #f97316"/> <path d="M 4.68 0.36 L -3.96 0.36" transform="translate(1114.56 120.96)" style="stroke: #f97316; fill: #f97316; stroke: #f97316"/> </g> </g> <g id="line2d_170"> <g clip-path="url(#p3f254de0b3)"> <path d="M 4.68 0.36 L -3.96 0.36" transform="translate(651.60 300.24)" style="stroke: #f97316; fill: #f97316; stroke: #f97316"/> <path d="M 4.68 0.36 L -3.96 0.36" transform="translate(686.88 303.12)" style="stroke: #f97316; fill: #f97316; stroke: #f97316"/> <path d="M 4.68 0.36 L -3.96 0.36" transform="translate(770.40 294.48)" style="stroke: #f97316; fill: #f97316; stroke: #f97316"/> <path d="M 4.68 0.36 L -3.96 0.36" transform="translate(805.68 295.92)" style="stroke: #f97316; fill: #f97316; stroke: #f97316"/> <path d="M 4.68 0.36 L -3.96 0.36" transform="translate(888.48 271.44)" style="stroke: #f97316; fill: #f97316; stroke: #f97316"/> <path d="M 4.68 0.36 L -3.96 0.36" transform="translate(924.48 262.80)" style="stroke: #f97316; fill: #f97316; stroke: #f97316"/> <path d="M 4.68 0.36 L -3.96 0.36" transform="translate(1007.28 214.56)" style="stroke: #f97316; fill: #f97316; stroke: #f97316"/> <path d="M 4.68 0.36 L -3.96 0.36" transform="translate(1043.28 192.24)" style="stroke: #f97316; fill: #f97316; stroke: #f97316"/> <path d="M 4.68 0.36 L -3.96 0.36" transform="translate(1078.56 160.56)" style="stroke: #f97316; fill: #f97316; stroke: #f97316"/> <path d="M 4.68 0.36 L -3.96 0.36" transform="translate(1114.56 118.08)" style="stroke: #f97316; fill: #f97316; stroke: #f97316"/> </g> </g> <g id="LineCollection_11"> <path d="M 651.96 374.76 L 651.96 374.76" clip-path="url(#p3f254de0b3)" style="fill: none; stroke: #06b6d4; stroke-width: 2"/> <path d="M 687.24 393.48 L 687.24 366.12" clip-path="url(#p3f254de0b3)" style="fill: none; stroke: #06b6d4; stroke-width: 2"/> <path d="M 770.76 374.76 L 770.76 374.76" clip-path="url(#p3f254de0b3)" style="fill: none; stroke: #06b6d4; stroke-width: 2"/> <path d="M 806.04 374.76 L 806.04 374.76" clip-path="url(#p3f254de0b3)" style="fill: none; stroke: #06b6d4; stroke-width: 2"/> <path d="M 888.84 374.76 L 888.84 374.76" clip-path="url(#p3f254de0b3)" style="fill: none; stroke: #06b6d4; stroke-width: 2"/> <path d="M 924.84 374.76 L 924.84 374.76" clip-path="url(#p3f254de0b3)" style="fill: none; stroke: #06b6d4; stroke-width: 2"/> <path d="M 1007.64 374.76 L 1007.64 374.76" clip-path="url(#p3f254de0b3)" style="fill: none; stroke: #06b6d4; stroke-width: 2"/> <path d="M 1043.64 374.76 L 1043.64 374.76" clip-path="url(#p3f254de0b3)" style="fill: none; stroke: #06b6d4; stroke-width: 2"/> <path d="M 1078.92 374.76 L 1078.92 374.76" clip-path="url(#p3f254de0b3)" style="fill: none; stroke: #06b6d4; stroke-width: 2"/> <path d="M 1114.92 374.76 L 1114.92 374.76" clip-path="url(#p3f254de0b3)" style="fill: none; stroke: #06b6d4; stroke-width: 2"/> </g> <g id="line2d_171"> <g clip-path="url(#p3f254de0b3)"> <path d="M 4.68 0.36 L -3.96 0.36" transform="translate(651.60 374.40)" style="stroke: #06b6d4; fill: #06b6d4; stroke: #06b6d4"/> <path d="M 4.68 0.36 L -3.96 0.36" transform="translate(686.88 393.12)" style="stroke: #06b6d4; fill: #06b6d4; stroke: #06b6d4"/> <path d="M 4.68 0.36 L -3.96 0.36" transform="translate(770.40 374.40)" style="stroke: #06b6d4; fill: #06b6d4; stroke: #06b6d4"/> <path d="M 4.68 0.36 L -3.96 0.36" transform="translate(805.68 374.40)" style="stroke: #06b6d4; fill: #06b6d4; stroke: #06b6d4"/> <path d="M 4.68 0.36 L -3.96 0.36" transform="translate(888.48 374.40)" style="stroke: #06b6d4; fill: #06b6d4; stroke: #06b6d4"/> <path d="M 4.68 0.36 L -3.96 0.36" transform="translate(924.48 374.40)" style="stroke: #06b6d4; fill: #06b6d4; stroke: #06b6d4"/> <path d="M 4.68 0.36 L -3.96 0.36" transform="translate(1007.28 374.40)" style="stroke: #06b6d4; fill: #06b6d4; stroke: #06b6d4"/> <path d="M 4.68 0.36 L -3.96 0.36" transform="translate(1043.28 374.40)" style="stroke: #06b6d4; fill: #06b6d4; stroke: #06b6d4"/> <path d="M 4.68 0.36 L -3.96 0.36" transform="translate(1078.56 374.40)" style="stroke: #06b6d4; fill: #06b6d4; stroke: #06b6d4"/> <path d="M 4.68 0.36 L -3.96 0.36" transform="translate(1114.56 374.40)" style="stroke: #06b6d4; fill: #06b6d4; stroke: #06b6d4"/> </g> </g> <g id="line2d_172"> <g clip-path="url(#p3f254de0b3)"> <path d="M 4.68 0.36 L -3.96 0.36" transform="translate(651.60 374.40)" style="stroke: #06b6d4; fill: #06b6d4; stroke: #06b6d4"/> <path d="M 4.68 0.36 L -3.96 0.36" transform="translate(686.88 365.76)" style="stroke: #06b6d4; fill: #06b6d4; stroke: #06b6d4"/> <path d="M 4.68 0.36 L -3.96 0.36" transform="translate(770.40 374.40)" style="stroke: #06b6d4; fill: #06b6d4; stroke: #06b6d4"/> <path d="M 4.68 0.36 L -3.96 0.36" transform="translate(805.68 374.40)" style="stroke: #06b6d4; fill: #06b6d4; stroke: #06b6d4"/> <path d="M 4.68 0.36 L -3.96 0.36" transform="translate(888.48 374.40)" style="stroke: #06b6d4; fill: #06b6d4; stroke: #06b6d4"/> <path d="M 4.68 0.36 L -3.96 0.36" transform="translate(924.48 374.40)" style="stroke: #06b6d4; fill: #06b6d4; stroke: #06b6d4"/> <path d="M 4.68 0.36 L -3.96 0.36" transform="translate(1007.28 374.40)" style="stroke: #06b6d4; fill: #06b6d4; stroke: #06b6d4"/> <path d="M 4.68 0.36 L -3.96 0.36" transform="translate(1043.28 374.40)" style="stroke: #06b6d4; fill: #06b6d4; stroke: #06b6d4"/> <path d="M 4.68 0.36 L -3.96 0.36" transform="translate(1078.56 374.40)" style="stroke: #06b6d4; fill: #06b6d4; stroke: #06b6d4"/> <path d="M 4.68 0.36 L -3.96 0.36" transform="translate(1114.56 374.40)" style="stroke: #06b6d4; fill: #06b6d4; stroke: #06b6d4"/> </g> </g> <g id="LineCollection_12"> <path d="M 651.96 135.72 L 651.96 134.28" clip-path="url(#p3f254de0b3)" style="fill: none; stroke: #a855f7; stroke-width: 2"/> <path d="M 687.24 135.72 L 687.24 134.28" clip-path="url(#p3f254de0b3)" style="fill: none; stroke: #a855f7; stroke-width: 2"/> <path d="M 770.76 118.44 L 770.76 117.00" clip-path="url(#p3f254de0b3)" style="fill: none; stroke: #a855f7; stroke-width: 2"/> <path d="M 806.04 118.44 L 806.04 115.56" clip-path="url(#p3f254de0b3)" style="fill: none; stroke: #a855f7; stroke-width: 2"/> <path d="M 888.84 109.08 L 888.84 106.92" clip-path="url(#p3f254de0b3)" style="fill: none; stroke: #a855f7; stroke-width: 2"/> <path d="M 924.84 102.60 L 924.84 101.88" clip-path="url(#p3f254de0b3)" style="fill: none; stroke: #a855f7; stroke-width: 2"/> <path d="M 1007.64 95.40 L 1007.64 94.68" clip-path="url(#p3f254de0b3)" style="fill: none; stroke: #a855f7; stroke-width: 2"/> <path d="M 1043.64 93.96 L 1043.64 93.24" clip-path="url(#p3f254de0b3)" style="fill: none; stroke: #a855f7; stroke-width: 2"/> <path d="M 1078.92 92.52 L 1078.92 91.80" clip-path="url(#p3f254de0b3)" style="fill: none; stroke: #a855f7; stroke-width: 2"/> <path d="M 1114.92 92.52 L 1114.92 91.80" clip-path="url(#p3f254de0b3)" style="fill: none; stroke: #a855f7; stroke-width: 2"/> </g> <g id="line2d_173"> <g clip-path="url(#p3f254de0b3)"> <path d="M 4.68 0.36 L -3.96 0.36" transform="translate(651.60 135.36)" style="stroke: #a855f7; fill: #a855f7; stroke: #a855f7"/> <path d="M 4.68 0.36 L -3.96 0.36" transform="translate(686.88 135.36)" style="stroke: #a855f7; fill: #a855f7; stroke: #a855f7"/> <path d="M 4.68 0.36 L -3.96 0.36" transform="translate(770.40 118.08)" style="stroke: #a855f7; fill: #a855f7; stroke: #a855f7"/> <path d="M 4.68 0.36 L -3.96 0.36" transform="translate(805.68 118.08)" style="stroke: #a855f7; fill: #a855f7; stroke: #a855f7"/> <path d="M 4.68 0.36 L -3.96 0.36" transform="translate(888.48 108.72)" style="stroke: #a855f7; fill: #a855f7; stroke: #a855f7"/> <path d="M 4.68 0.36 L -3.96 0.36" transform="translate(924.48 102.24)" style="stroke: #a855f7; fill: #a855f7; stroke: #a855f7"/> <path d="M 4.68 0.36 L -3.96 0.36" transform="translate(1007.28 95.04)" style="stroke: #a855f7; fill: #a855f7; stroke: #a855f7"/> <path d="M 4.68 0.36 L -3.96 0.36" transform="translate(1043.28 93.60)" style="stroke: #a855f7; fill: #a855f7; stroke: #a855f7"/> <path d="M 4.68 0.36 L -3.96 0.36" transform="translate(1078.56 92.16)" style="stroke: #a855f7; fill: #a855f7; stroke: #a855f7"/> <path d="M 4.68 0.36 L -3.96 0.36" transform="translate(1114.56 92.16)" style="stroke: #a855f7; fill: #a855f7; stroke: #a855f7"/> </g> </g> <g id="line2d_174"> <g clip-path="url(#p3f254de0b3)"> <path d="M 4.68 0.36 L -3.96 0.36" transform="translate(651.60 133.92)" style="stroke: #a855f7; fill: #a855f7; stroke: #a855f7"/> <path d="M 4.68 0.36 L -3.96 0.36" transform="translate(686.88 133.92)" style="stroke: #a855f7; fill: #a855f7; stroke: #a855f7"/> <path d="M 4.68 0.36 L -3.96 0.36" transform="translate(770.40 116.64)" style="stroke: #a855f7; fill: #a855f7; stroke: #a855f7"/> <path d="M 4.68 0.36 L -3.96 0.36" transform="translate(805.68 115.20)" style="stroke: #a855f7; fill: #a855f7; stroke: #a855f7"/> <path d="M 4.68 0.36 L -3.96 0.36" transform="translate(888.48 106.56)" style="stroke: #a855f7; fill: #a855f7; stroke: #a855f7"/> <path d="M 4.68 0.36 L -3.96 0.36" transform="translate(924.48 101.52)" style="stroke: #a855f7; fill: #a855f7; stroke: #a855f7"/> <path d="M 4.68 0.36 L -3.96 0.36" transform="translate(1007.28 94.32)" style="stroke: #a855f7; fill: #a855f7; stroke: #a855f7"/> <path d="M 4.68 0.36 L -3.96 0.36" transform="translate(1043.28 92.88)" style="stroke: #a855f7; fill: #a855f7; stroke: #a855f7"/> <path d="M 4.68 0.36 L -3.96 0.36" transform="translate(1078.56 91.44)" style="stroke: #a855f7; fill: #a855f7; stroke: #a855f7"/> <path d="M 4.68 0.36 L -3.96 0.36" transform="translate(1114.56 91.44)" style="stroke: #a855f7; fill: #a855f7; stroke: #a855f7"/> </g> </g> <g id="line2d_175"> <path d="M 651.50 194.59 L 687.20 193.86 L 770.11 185.72 L 805.81 185.72 L 888.72 185.46 L 924.42 184.92 L 1007.32 184.92 L 1043.03 184.92 L 1078.73 184.92 L 1114.44 184.63 " clip-path="url(#p3f254de0b3)" style="fill: none; stroke: #22c55e; stroke-width: 2; stroke-linecap: square"/> <g clip-path="url(#p3f254de0b3)"> <path d="M 0 4 C 1.06 4 2.07 3.57 2.82 2.82 C 3.57 2.07 4 1.06 4 0 C 4 -1.06 3.57 -2.07 2.82 -2.82 C 2.07 -3.57 1.06 -4 0 -4 C -1.06 -4 -2.07 -3.57 -2.82 -2.82 C -3.57 -2.07 -4 -1.06 -4 0 C -4 1.06 -3.57 2.07 -2.82 2.82 C -2.07 3.57 -1.06 4 0 4 z " transform="translate(651.96 194.76)" style="stroke: #22c55e; fill: #22c55e; stroke: #22c55e"/> <path d="M 0 4 C 1.06 4 2.07 3.57 2.82 2.82 C 3.57 2.07 4 1.06 4 0 C 4 -1.06 3.57 -2.07 2.82 -2.82 C 2.07 -3.57 1.06 -4 0 -4 C -1.06 -4 -2.07 -3.57 -2.82 -2.82 C -3.57 -2.07 -4 -1.06 -4 0 C -4 1.06 -3.57 2.07 -2.82 2.82 C -2.07 3.57 -1.06 4 0 4 z " transform="translate(687.24 194.04)" style="stroke: #22c55e; fill: #22c55e; stroke: #22c55e"/> <path d="M 0 4 C 1.06 4 2.07 3.57 2.82 2.82 C 3.57 2.07 4 1.06 4 0 C 4 -1.06 3.57 -2.07 2.82 -2.82 C 2.07 -3.57 1.06 -4 0 -4 C -1.06 -4 -2.07 -3.57 -2.82 -2.82 C -3.57 -2.07 -4 -1.06 -4 0 C -4 1.06 -3.57 2.07 -2.82 2.82 C -2.07 3.57 -1.06 4 0 4 z " transform="translate(770.76 186.12)" style="stroke: #22c55e; fill: #22c55e; stroke: #22c55e"/> <path d="M 0 4 C 1.06 4 2.07 3.57 2.82 2.82 C 3.57 2.07 4 1.06 4 0 C 4 -1.06 3.57 -2.07 2.82 -2.82 C 2.07 -3.57 1.06 -4 0 -4 C -1.06 -4 -2.07 -3.57 -2.82 -2.82 C -3.57 -2.07 -4 -1.06 -4 0 C -4 1.06 -3.57 2.07 -2.82 2.82 C -2.07 3.57 -1.06 4 0 4 z " transform="translate(806.04 186.12)" style="stroke: #22c55e; fill: #22c55e; stroke: #22c55e"/> <path d="M 0 4 C 1.06 4 2.07 3.57 2.82 2.82 C 3.57 2.07 4 1.06 4 0 C 4 -1.06 3.57 -2.07 2.82 -2.82 C 2.07 -3.57 1.06 -4 0 -4 C -1.06 -4 -2.07 -3.57 -2.82 -2.82 C -3.57 -2.07 -4 -1.06 -4 0 C -4 1.06 -3.57 2.07 -2.82 2.82 C -2.07 3.57 -1.06 4 0 4 z " transform="translate(888.84 186.12)" style="stroke: #22c55e; fill: #22c55e; stroke: #22c55e"/> <path d="M 0 4 C 1.06 4 2.07 3.57 2.82 2.82 C 3.57 2.07 4 1.06 4 0 C 4 -1.06 3.57 -2.07 2.82 -2.82 C 2.07 -3.57 1.06 -4 0 -4 C -1.06 -4 -2.07 -3.57 -2.82 -2.82 C -3.57 -2.07 -4 -1.06 -4 0 C -4 1.06 -3.57 2.07 -2.82 2.82 C -2.07 3.57 -1.06 4 0 4 z " transform="translate(924.84 185.40)" style="stroke: #22c55e; fill: #22c55e; stroke: #22c55e"/> <path d="M 0 4 C 1.06 4 2.07 3.57 2.82 2.82 C 3.57 2.07 4 1.06 4 0 C 4 -1.06 3.57 -2.07 2.82 -2.82 C 2.07 -3.57 1.06 -4 0 -4 C -1.06 -4 -2.07 -3.57 -2.82 -2.82 C -3.57 -2.07 -4 -1.06 -4 0 C -4 1.06 -3.57 2.07 -2.82 2.82 C -2.07 3.57 -1.06 4 0 4 z " transform="translate(1007.64 185.40)" style="stroke: #22c55e; fill: #22c55e; stroke: #22c55e"/> <path d="M 0 4 C 1.06 4 2.07 3.57 2.82 2.82 C 3.57 2.07 4 1.06 4 0 C 4 -1.06 3.57 -2.07 2.82 -2.82 C 2.07 -3.57 1.06 -4 0 -4 C -1.06 -4 -2.07 -3.57 -2.82 -2.82 C -3.57 -2.07 -4 -1.06 -4 0 C -4 1.06 -3.57 2.07 -2.82 2.82 C -2.07 3.57 -1.06 4 0 4 z " transform="translate(1043.64 185.40)" style="stroke: #22c55e; fill: #22c55e; stroke: #22c55e"/> <path d="M 0 4 C 1.06 4 2.07 3.57 2.82 2.82 C 3.57 2.07 4 1.06 4 0 C 4 -1.06 3.57 -2.07 2.82 -2.82 C 2.07 -3.57 1.06 -4 0 -4 C -1.06 -4 -2.07 -3.57 -2.82 -2.82 C -3.57 -2.07 -4 -1.06 -4 0 C -4 1.06 -3.57 2.07 -2.82 2.82 C -2.07 3.57 -1.06 4 0 4 z " transform="translate(1078.92 185.40)" style="stroke: #22c55e; fill: #22c55e; stroke: #22c55e"/> <path d="M 0 4 C 1.06 4 2.07 3.57 2.82 2.82 C 3.57 2.07 4 1.06 4 0 C 4 -1.06 3.57 -2.07 2.82 -2.82 C 2.07 -3.57 1.06 -4 0 -4 C -1.06 -4 -2.07 -3.57 -2.82 -2.82 C -3.57 -2.07 -4 -1.06 -4 0 C -4 1.06 -3.57 2.07 -2.82 2.82 C -2.07 3.57 -1.06 4 0 4 z " transform="translate(1114.92 184.68)" style="stroke: #22c55e; fill: #22c55e; stroke: #22c55e"/> </g> </g> <g id="line2d_176"> <path d="M 651.50 307.79 L 687.20 309.53 L 770.11 297.44 L 805.81 296.87 L 888.72 279.78 L 924.42 264.57 L 1007.32 219.53 L 1043.03 195.52 L 1078.73 163.78 L 1114.44 119.70 " clip-path="url(#p3f254de0b3)" style="fill: none; stroke: #f97316; stroke-width: 2; stroke-linecap: square"/> <g clip-path="url(#p3f254de0b3)"> <path d="M 0 -4 L -4 4 L 4 4 z " transform="translate(651.96 307.80)" style="stroke: #f97316; stroke-linejoin: miter; fill: #f97316; stroke: #f97316; stroke-linejoin: miter"/> <path d="M 0 -4 L -4 4 L 4 4 z " transform="translate(687.24 309.96)" style="stroke: #f97316; stroke-linejoin: miter; fill: #f97316; stroke: #f97316; stroke-linejoin: miter"/> <path d="M 0 -4 L -4 4 L 4 4 z " transform="translate(770.76 297.72)" style="stroke: #f97316; stroke-linejoin: miter; fill: #f97316; stroke: #f97316; stroke-linejoin: miter"/> <path d="M 0 -4 L -4 4 L 4 4 z " transform="translate(806.04 297.00)" style="stroke: #f97316; stroke-linejoin: miter; fill: #f97316; stroke: #f97316; stroke-linejoin: miter"/> <path d="M 0 -4 L -4 4 L 4 4 z " transform="translate(888.84 280.44)" style="stroke: #f97316; stroke-linejoin: miter; fill: #f97316; stroke: #f97316; stroke-linejoin: miter"/> <path d="M 0 -4 L -4 4 L 4 4 z " transform="translate(924.84 264.60)" style="stroke: #f97316; stroke-linejoin: miter; fill: #f97316; stroke: #f97316; stroke-linejoin: miter"/> <path d="M 0 -4 L -4 4 L 4 4 z " transform="translate(1007.64 219.96)" style="stroke: #f97316; stroke-linejoin: miter; fill: #f97316; stroke: #f97316; stroke-linejoin: miter"/> <path d="M 0 -4 L -4 4 L 4 4 z " transform="translate(1043.64 196.20)" style="stroke: #f97316; stroke-linejoin: miter; fill: #f97316; stroke: #f97316; stroke-linejoin: miter"/> <path d="M 0 -4 L -4 4 L 4 4 z " transform="translate(1078.92 163.80)" style="stroke: #f97316; stroke-linejoin: miter; fill: #f97316; stroke: #f97316; stroke-linejoin: miter"/> <path d="M 0 -4 L -4 4 L 4 4 z " transform="translate(1114.92 119.88)" style="stroke: #f97316; stroke-linejoin: miter; fill: #f97316; stroke: #f97316; stroke-linejoin: miter"/> </g> </g> <g id="line2d_177"> <path d="M 651.50 374.43 L 687.20 377.91 L 770.11 374.43 L 805.81 374.43 L 888.72 374.43 L 924.42 374.43 L 1007.32 374.43 L 1043.03 374.43 L 1078.73 374.43 L 1114.44 374.43 " clip-path="url(#p3f254de0b3)" style="fill: none; stroke: #06b6d4; stroke-width: 2; stroke-linecap: square"/> <g clip-path="url(#p3f254de0b3)"> <path d="M -0 4 L 4 -4 L -4 -4 z " transform="translate(651.96 374.76)" style="stroke: #06b6d4; stroke-linejoin: miter; fill: #06b6d4; stroke: #06b6d4; stroke-linejoin: miter"/> <path d="M -0 4 L 4 -4 L -4 -4 z " transform="translate(687.24 378.36)" style="stroke: #06b6d4; stroke-linejoin: miter; fill: #06b6d4; stroke: #06b6d4; stroke-linejoin: miter"/> <path d="M -0 4 L 4 -4 L -4 -4 z " transform="translate(770.76 374.76)" style="stroke: #06b6d4; stroke-linejoin: miter; fill: #06b6d4; stroke: #06b6d4; stroke-linejoin: miter"/> <path d="M -0 4 L 4 -4 L -4 -4 z " transform="translate(806.04 374.76)" style="stroke: #06b6d4; stroke-linejoin: miter; fill: #06b6d4; stroke: #06b6d4; stroke-linejoin: miter"/> <path d="M -0 4 L 4 -4 L -4 -4 z " transform="translate(888.84 374.76)" style="stroke: #06b6d4; stroke-linejoin: miter; fill: #06b6d4; stroke: #06b6d4; stroke-linejoin: miter"/> <path d="M -0 4 L 4 -4 L -4 -4 z " transform="translate(924.84 374.76)" style="stroke: #06b6d4; stroke-linejoin: miter; fill: #06b6d4; stroke: #06b6d4; stroke-linejoin: miter"/> <path d="M -0 4 L 4 -4 L -4 -4 z " transform="translate(1007.64 374.76)" style="stroke: #06b6d4; stroke-linejoin: miter; fill: #06b6d4; stroke: #06b6d4; stroke-linejoin: miter"/> <path d="M -0 4 L 4 -4 L -4 -4 z " transform="translate(1043.64 374.76)" style="stroke: #06b6d4; stroke-linejoin: miter; fill: #06b6d4; stroke: #06b6d4; stroke-linejoin: miter"/> <path d="M -0 4 L 4 -4 L -4 -4 z " transform="translate(1078.92 374.76)" style="stroke: #06b6d4; stroke-linejoin: miter; fill: #06b6d4; stroke: #06b6d4; stroke-linejoin: miter"/> <path d="M -0 4 L 4 -4 L -4 -4 z " transform="translate(1114.92 374.76)" style="stroke: #06b6d4; stroke-linejoin: miter; fill: #06b6d4; stroke: #06b6d4; stroke-linejoin: miter"/> </g> </g> <g id="line2d_178"> <path d="M 651.50 134.64 L 687.20 134.64 L 770.11 117.21 L 805.81 116.46 L 888.72 107.86 L 924.42 101.71 L 1007.32 94.67 L 1043.03 93.17 L 1078.73 92.05 L 1114.44 91.68 " clip-path="url(#p3f254de0b3)" style="fill: none; stroke: #a855f7; stroke-width: 2; stroke-linecap: square"/> <g clip-path="url(#p3f254de0b3)"> <path d="M -0 5.65 L 5.65 0 L 0 -5.65 L -5.65 -0 z " transform="translate(651.96 135.00)" style="stroke: #a855f7; stroke-linejoin: miter; fill: #a855f7; stroke: #a855f7; stroke-linejoin: miter"/> <path d="M -0 5.65 L 5.65 0 L 0 -5.65 L -5.65 -0 z " transform="translate(687.24 135.00)" style="stroke: #a855f7; stroke-linejoin: miter; fill: #a855f7; stroke: #a855f7; stroke-linejoin: miter"/> <path d="M -0 5.65 L 5.65 0 L 0 -5.65 L -5.65 -0 z " transform="translate(770.76 117.72)" style="stroke: #a855f7; stroke-linejoin: miter; fill: #a855f7; stroke: #a855f7; stroke-linejoin: miter"/> <path d="M -0 5.65 L 5.65 0 L 0 -5.65 L -5.65 -0 z " transform="translate(806.04 117.00)" style="stroke: #a855f7; stroke-linejoin: miter; fill: #a855f7; stroke: #a855f7; stroke-linejoin: miter"/> <path d="M -0 5.65 L 5.65 0 L 0 -5.65 L -5.65 -0 z " transform="translate(888.84 108.36)" style="stroke: #a855f7; stroke-linejoin: miter; fill: #a855f7; stroke: #a855f7; stroke-linejoin: miter"/> <path d="M -0 5.65 L 5.65 0 L 0 -5.65 L -5.65 -0 z " transform="translate(924.84 101.88)" style="stroke: #a855f7; stroke-linejoin: miter; fill: #a855f7; stroke: #a855f7; stroke-linejoin: miter"/> <path d="M -0 5.65 L 5.65 0 L 0 -5.65 L -5.65 -0 z " transform="translate(1007.64 94.68)" style="stroke: #a855f7; stroke-linejoin: miter; fill: #a855f7; stroke: #a855f7; stroke-linejoin: miter"/> <path d="M -0 5.65 L 5.65 0 L 0 -5.65 L -5.65 -0 z " transform="translate(1043.64 93.24)" style="stroke: #a855f7; stroke-linejoin: miter; fill: #a855f7; stroke: #a855f7; stroke-linejoin: miter"/> <path d="M -0 5.65 L 5.65 0 L 0 -5.65 L -5.65 -0 z " transform="translate(1078.92 92.52)" style="stroke: #a855f7; stroke-linejoin: miter; fill: #a855f7; stroke: #a855f7; stroke-linejoin: miter"/> <path d="M -0 5.65 L 5.65 0 L 0 -5.65 L -5.65 -0 z " transform="translate(1114.92 91.80)" style="stroke: #a855f7; stroke-linejoin: miter; fill: #a855f7; stroke: #a855f7; stroke-linejoin: miter"/> </g> </g> <g id="patch_9"> <path d="M 628.92 408.60 L 628.92 76.68" style="fill: none; stroke: #404040; stroke-width: 0.8; stroke-linejoin: miter; stroke-linecap: square"/> </g> <g id="patch_10"> <path d="M 1137.96 408.60 L 1137.96 76.68" style="fill: none; stroke: #404040; stroke-width: 0.8; stroke-linejoin: miter; stroke-linecap: square"/> </g> <g id="patch_11"> <path d="M 628.92 408.60 L 1137.96 408.60" style="fill: none; stroke: #404040; stroke-width: 0.8; stroke-linejoin: miter; stroke-linecap: square"/> </g> <g id="patch_12"> <path d="M 628.92 76.68 L 1137.96 76.68" style="fill: none; stroke: #404040; stroke-width: 0.8; stroke-linejoin: miter; stroke-linecap: square"/> </g> <g id="text_24"> <text style="font-size: 14px; font-family: 'DejaVu Sans', 'Liberation Sans', sans-serif; text-anchor: middle; fill: #f5f5f5" x="883.69" y="71.27" transform="rotate(-0 883.69 71.27)">DD Metrics</text> </g> <g id="legend_2"> <g id="patch_13"> <path d="M 634.68 127.80 L 713.88 127.80 Q 715.32 127.80 715.32 126.36 L 715.32 82.44 Q 715.32 81.00 713.88 81.00 L 634.68 81.00 Q 632.52 81.00 632.52 82.44 L 632.52 126.36 Q 632.52 127.80 634.68 127.80 z " style="fill: #171717; opacity: 0.8; stroke: #404040; stroke-linejoin: miter"/> </g> <g id="LineCollection_13"> <path d="M 644.04 91.08 L 644.04 83.16" style="fill: none; stroke: #22c55e; stroke-width: 2"/> </g> <g id="line2d_179"> <g> <path d="M 4.68 0.36 L -3.96 0.36" transform="translate(643.68 90.72)" style="stroke: #22c55e; fill: #22c55e; stroke: #22c55e"/> </g> </g> <g id="line2d_180"> <g> <path d="M 4.68 0.36 L -3.96 0.36" transform="translate(643.68 82.80)" style="stroke: #22c55e; fill: #22c55e; stroke: #22c55e"/> </g> </g> <g id="line2d_181"> <path d="M 636.12 86.76 L 651.96 86.76" style="fill: none; stroke: #22c55e; stroke-width: 2; stroke-linecap: square"/> </g> <g id="line2d_182"> <g> <path d="M 0 4 C 1.06 4 2.07 3.57 2.82 2.82 C 3.57 2.07 4 1.06 4 0 C 4 -1.06 3.57 -2.07 2.82 -2.82 C 2.07 -3.57 1.06 -4 0 -4 C -1.06 -4 -2.07 -3.57 -2.82 -2.82 C -3.57 -2.07 -4 -1.06 -4 0 C -4 1.06 -3.57 2.07 -2.82 2.82 C -2.07 3.57 -1.06 4 0 4 z " transform="translate(644.04 86.76)" style="stroke: #22c55e; fill: #22c55e; stroke: #22c55e"/> </g> </g> <g id="text_25"> <text style="font-size: 8px; font-family: 'DejaVu Sans', 'Liberation Sans', sans-serif; text-anchor: start; fill: #d4d4d4" x="658.41" y="90.23" transform="rotate(-0 658.41 90.23)">edge</text> </g> <g id="LineCollection_14"> <path d="M 644.04 102.60 L 644.04 93.96" style="fill: none; stroke: #f97316; stroke-width: 2"/> </g> <g id="line2d_183"> <g> <path d="M 4.68 0.36 L -3.96 0.36" transform="translate(643.68 102.24)" style="stroke: #f97316; fill: #f97316; stroke: #f97316"/> </g> </g> <g id="line2d_184"> <g> <path d="M 4.68 0.36 L -3.96 0.36" transform="translate(643.68 93.60)" style="stroke: #f97316; fill: #f97316; stroke: #f97316"/> </g> </g> <g id="line2d_185"> <path d="M 636.12 98.28 L 651.96 98.28" style="fill: none; stroke: #f97316; stroke-width: 2; stroke-linecap: square"/> </g> <g id="line2d_186"> <g> <path d="M 0 -4 L -4 4 L 4 4 z " transform="translate(644.04 98.28)" style="stroke: #f97316; stroke-linejoin: miter; fill: #f97316; stroke: #f97316; stroke-linejoin: miter"/> </g> </g> <g id="text_26"> <text style="font-size: 8px; font-family: 'DejaVu Sans', 'Liberation Sans', sans-serif; text-anchor: start; fill: #d4d4d4" x="658.41" y="101.43" transform="rotate(-0 658.41 101.43)">otelcol</text> </g> <g id="LineCollection_15"> <path d="M 644.04 113.40 L 644.04 105.48" style="fill: none; stroke: #06b6d4; stroke-width: 2"/> </g> <g id="line2d_187"> <g> <path d="M 4.68 0.36 L -3.96 0.36" transform="translate(643.68 113.04)" style="stroke: #06b6d4; fill: #06b6d4; stroke: #06b6d4"/> </g> </g> <g id="line2d_188"> <g> <path d="M 4.68 0.36 L -3.96 0.36" transform="translate(643.68 105.12)" style="stroke: #06b6d4; fill: #06b6d4; stroke: #06b6d4"/> </g> </g> <g id="line2d_189"> <path d="M 636.12 109.80 L 651.96 109.80" style="fill: none; stroke: #06b6d4; stroke-width: 2; stroke-linecap: square"/> </g> <g id="line2d_190"> <g> <path d="M -0 4 L 4 -4 L -4 -4 z " transform="translate(644.04 109.80)" style="stroke: #06b6d4; stroke-linejoin: miter; fill: #06b6d4; stroke: #06b6d4; stroke-linejoin: miter"/> </g> </g> <g id="text_27"> <text style="font-size: 8px; font-family: 'DejaVu Sans', 'Liberation Sans', sans-serif; text-anchor: start; fill: #d4d4d4" x="658.41" y="112.63" transform="rotate(-0 658.41 112.63)">tero-collector</text> </g> <g id="LineCollection_16"> <path d="M 644.04 124.92 L 644.04 117.00" style="fill: none; stroke: #a855f7; stroke-width: 2"/> </g> <g id="line2d_191"> <g> <path d="M 4.68 0.36 L -3.96 0.36" transform="translate(643.68 124.56)" style="stroke: #a855f7; fill: #a855f7; stroke: #a855f7"/> </g> </g> <g id="line2d_192"> <g> <path d="M 4.68 0.36 L -3.96 0.36" transform="translate(643.68 116.64)" style="stroke: #a855f7; fill: #a855f7; stroke: #a855f7"/> </g> </g> <g id="line2d_193"> <path d="M 636.12 120.60 L 651.96 120.60" style="fill: none; stroke: #a855f7; stroke-width: 2; stroke-linecap: square"/> </g> <g id="line2d_194"> <g> <path d="M -0 5.65 L 5.65 0 L 0 -5.65 L -5.65 -0 z " transform="translate(644.04 120.60)" style="stroke: #a855f7; stroke-linejoin: miter; fill: #a855f7; stroke: #a855f7; stroke-linejoin: miter"/> </g> </g> <g id="text_28"> <text style="font-size: 8px; font-family: 'DejaVu Sans', 'Liberation Sans', sans-serif; text-anchor: start; fill: #d4d4d4" x="658.41" y="123.83" transform="rotate(-0 658.41 123.83)">vector</text> </g> </g> </g> <g id="axes_3"> <g id="patch_14"> <path d="M 49.28 805.19 L 558.46 805.19 L 558.46 473.27 L 49.28 473.27 z " style="fill: #171717"/> </g> <g id="matplotlib.axis_5"> <g id="xtick_79"> <g id="line2d_195"> <path d="M 108.36 805.32 L 108.36 473.40" clip-path="url(#pda3e8afbe7)" style="fill: none; stroke: #262626; stroke-width: 0.8; stroke-linecap: square"/> </g> <g id="line2d_196"> <g> <path d="M 0.36 0.36 L 0.36 3.96" transform="translate(108.00 804.96)" style="stroke: #d4d4d4; stroke-width: 0.8; fill: #d4d4d4; stroke: #d4d4d4; stroke-width: 0.8"/> </g> </g> <g id="text_29"> <g style="fill: #d4d4d4" transform="translate(99.00 823.42)"> <text> <tspan x="0.60" y="-0.60" style="font-size: 10px; font-family: 'DejaVu Sans', 'Liberation Sans', sans-serif; fill: #d4d4d4">10</tspan> <tspan x="13.42" y="-4.43" style="font-size: 7px; font-family: 'DejaVu Sans', 'Liberation Sans', sans-serif; fill: #d4d4d4">0</tspan> </text> </g> </g> </g> <g id="xtick_80"> <g id="line2d_197"> <path d="M 227.16 805.32 L 227.16 473.40" clip-path="url(#pda3e8afbe7)" style="fill: none; stroke: #262626; stroke-width: 0.8; stroke-linecap: square"/> </g> <g id="line2d_198"> <g> <path d="M 0.36 0.36 L 0.36 3.96" transform="translate(226.80 804.96)" style="stroke: #d4d4d4; stroke-width: 0.8; fill: #d4d4d4; stroke: #d4d4d4; stroke-width: 0.8"/> </g> </g> <g id="text_30"> <g style="fill: #d4d4d4" transform="translate(217.70 823.42)"> <text> <tspan x="0.60" y="-0.60" style="font-size: 10px; font-family: 'DejaVu Sans', 'Liberation Sans', sans-serif; fill: #d4d4d4">10</tspan> <tspan x="13.42" y="-4.43" style="font-size: 7px; font-family: 'DejaVu Sans', 'Liberation Sans', sans-serif; fill: #d4d4d4">1</tspan> </text> </g> </g> </g> <g id="xtick_81"> <g id="line2d_199"> <path d="M 345.96 805.32 L 345.96 473.40" clip-path="url(#pda3e8afbe7)" style="fill: none; stroke: #262626; stroke-width: 0.8; stroke-linecap: square"/> </g> <g id="line2d_200"> <g> <path d="M 0.36 0.36 L 0.36 3.96" transform="translate(345.60 804.96)" style="stroke: #d4d4d4; stroke-width: 0.8; fill: #d4d4d4; stroke: #d4d4d4; stroke-width: 0.8"/> </g> </g> <g id="text_31"> <g style="fill: #d4d4d4" transform="translate(336.32 823.42)"> <text> <tspan x="0.60" y="-0.60" style="font-size: 10px; font-family: 'DejaVu Sans', 'Liberation Sans', sans-serif; fill: #d4d4d4">10</tspan> <tspan x="13.42" y="-4.43" style="font-size: 7px; font-family: 'DejaVu Sans', 'Liberation Sans', sans-serif; fill: #d4d4d4">2</tspan> </text> </g> </g> </g> <g id="xtick_82"> <g id="line2d_201"> <path d="M 464.04 805.32 L 464.04 473.40" clip-path="url(#pda3e8afbe7)" style="fill: none; stroke: #262626; stroke-width: 0.8; stroke-linecap: square"/> </g> <g id="line2d_202"> <g> <path d="M 0.36 0.36 L 0.36 3.96" transform="translate(463.68 804.96)" style="stroke: #d4d4d4; stroke-width: 0.8; fill: #d4d4d4; stroke: #d4d4d4; stroke-width: 0.8"/> </g> </g> <g id="text_32"> <g style="fill: #d4d4d4" transform="translate(454.87 823.42)"> <text> <tspan x="0.60" y="-0.60" style="font-size: 10px; font-family: 'DejaVu Sans', 'Liberation Sans', sans-serif; fill: #d4d4d4">10</tspan> <tspan x="13.42" y="-4.43" style="font-size: 7px; font-family: 'DejaVu Sans', 'Liberation Sans', sans-serif; fill: #d4d4d4">3</tspan> </text> </g> </g> </g> <g id="xtick_83"> <g id="line2d_203"> <g> <path d="M 0.36 0.36 L 0.36 2.52" transform="translate(61.20 804.96)" style="stroke: #d4d4d4; stroke-width: 0.6; fill: #d4d4d4; stroke: #d4d4d4; stroke-width: 0.6"/> </g> </g> </g> <g id="xtick_84"> <g id="line2d_204"> <g> <path d="M 0.36 0.36 L 0.36 2.52" transform="translate(72.72 804.96)" style="stroke: #d4d4d4; stroke-width: 0.6; fill: #d4d4d4; stroke: #d4d4d4; stroke-width: 0.6"/> </g> </g> </g> <g id="xtick_85"> <g id="line2d_205"> <g> <path d="M 0.36 0.36 L 0.36 2.52" transform="translate(82.08 804.96)" style="stroke: #d4d4d4; stroke-width: 0.6; fill: #d4d4d4; stroke: #d4d4d4; stroke-width: 0.6"/> </g> </g> </g> <g id="xtick_86"> <g id="line2d_206"> <g> <path d="M 0.36 0.36 L 0.36 2.52" transform="translate(90.00 804.96)" style="stroke: #d4d4d4; stroke-width: 0.6; fill: #d4d4d4; stroke: #d4d4d4; stroke-width: 0.6"/> </g> </g> </g> <g id="xtick_87"> <g id="line2d_207"> <g> <path d="M 0.36 0.36 L 0.36 2.52" transform="translate(96.48 804.96)" style="stroke: #d4d4d4; stroke-width: 0.6; fill: #d4d4d4; stroke: #d4d4d4; stroke-width: 0.6"/> </g> </g> </g> <g id="xtick_88"> <g id="line2d_208"> <g> <path d="M 0.36 0.36 L 0.36 2.52" transform="translate(102.96 804.96)" style="stroke: #d4d4d4; stroke-width: 0.6; fill: #d4d4d4; stroke: #d4d4d4; stroke-width: 0.6"/> </g> </g> </g> <g id="xtick_89"> <g id="line2d_209"> <g> <path d="M 0.36 0.36 L 0.36 2.52" transform="translate(144.00 804.96)" style="stroke: #d4d4d4; stroke-width: 0.6; fill: #d4d4d4; stroke: #d4d4d4; stroke-width: 0.6"/> </g> </g> </g> <g id="xtick_90"> <g id="line2d_210"> <g> <path d="M 0.36 0.36 L 0.36 2.52" transform="translate(164.88 804.96)" style="stroke: #d4d4d4; stroke-width: 0.6; fill: #d4d4d4; stroke: #d4d4d4; stroke-width: 0.6"/> </g> </g> </g> <g id="xtick_91"> <g id="line2d_211"> <g> <path d="M 0.36 0.36 L 0.36 2.52" transform="translate(179.28 804.96)" style="stroke: #d4d4d4; stroke-width: 0.6; fill: #d4d4d4; stroke: #d4d4d4; stroke-width: 0.6"/> </g> </g> </g> <g id="xtick_92"> <g id="line2d_212"> <g> <path d="M 0.36 0.36 L 0.36 2.52" transform="translate(190.80 804.96)" style="stroke: #d4d4d4; stroke-width: 0.6; fill: #d4d4d4; stroke: #d4d4d4; stroke-width: 0.6"/> </g> </g> </g> <g id="xtick_93"> <g id="line2d_213"> <g> <path d="M 0.36 0.36 L 0.36 2.52" transform="translate(200.16 804.96)" style="stroke: #d4d4d4; stroke-width: 0.6; fill: #d4d4d4; stroke: #d4d4d4; stroke-width: 0.6"/> </g> </g> </g> <g id="xtick_94"> <g id="line2d_214"> <g> <path d="M 0.36 0.36 L 0.36 2.52" transform="translate(208.08 804.96)" style="stroke: #d4d4d4; stroke-width: 0.6; fill: #d4d4d4; stroke: #d4d4d4; stroke-width: 0.6"/> </g> </g> </g> <g id="xtick_95"> <g id="line2d_215"> <g> <path d="M 0.36 0.36 L 0.36 2.52" transform="translate(215.28 804.96)" style="stroke: #d4d4d4; stroke-width: 0.6; fill: #d4d4d4; stroke: #d4d4d4; stroke-width: 0.6"/> </g> </g> </g> <g id="xtick_96"> <g id="line2d_216"> <g> <path d="M 0.36 0.36 L 0.36 2.52" transform="translate(221.04 804.96)" style="stroke: #d4d4d4; stroke-width: 0.6; fill: #d4d4d4; stroke: #d4d4d4; stroke-width: 0.6"/> </g> </g> </g> <g id="xtick_97"> <g id="line2d_217"> <g> <path d="M 0.36 0.36 L 0.36 2.52" transform="translate(262.08 804.96)" style="stroke: #d4d4d4; stroke-width: 0.6; fill: #d4d4d4; stroke: #d4d4d4; stroke-width: 0.6"/> </g> </g> </g> <g id="xtick_98"> <g id="line2d_218"> <g> <path d="M 0.36 0.36 L 0.36 2.52" transform="translate(282.96 804.96)" style="stroke: #d4d4d4; stroke-width: 0.6; fill: #d4d4d4; stroke: #d4d4d4; stroke-width: 0.6"/> </g> </g> </g> <g id="xtick_99"> <g id="line2d_219"> <g> <path d="M 0.36 0.36 L 0.36 2.52" transform="translate(298.08 804.96)" style="stroke: #d4d4d4; stroke-width: 0.6; fill: #d4d4d4; stroke: #d4d4d4; stroke-width: 0.6"/> </g> </g> </g> <g id="xtick_100"> <g id="line2d_220"> <g> <path d="M 0.36 0.36 L 0.36 2.52" transform="translate(309.60 804.96)" style="stroke: #d4d4d4; stroke-width: 0.6; fill: #d4d4d4; stroke: #d4d4d4; stroke-width: 0.6"/> </g> </g> </g> <g id="xtick_101"> <g id="line2d_221"> <g> <path d="M 0.36 0.36 L 0.36 2.52" transform="translate(318.96 804.96)" style="stroke: #d4d4d4; stroke-width: 0.6; fill: #d4d4d4; stroke: #d4d4d4; stroke-width: 0.6"/> </g> </g> </g> <g id="xtick_102"> <g id="line2d_222"> <g> <path d="M 0.36 0.36 L 0.36 2.52" transform="translate(326.88 804.96)" style="stroke: #d4d4d4; stroke-width: 0.6; fill: #d4d4d4; stroke: #d4d4d4; stroke-width: 0.6"/> </g> </g> </g> <g id="xtick_103"> <g id="line2d_223"> <g> <path d="M 0.36 0.36 L 0.36 2.52" transform="translate(334.08 804.96)" style="stroke: #d4d4d4; stroke-width: 0.6; fill: #d4d4d4; stroke: #d4d4d4; stroke-width: 0.6"/> </g> </g> </g> <g id="xtick_104"> <g id="line2d_224"> <g> <path d="M 0.36 0.36 L 0.36 2.52" transform="translate(339.84 804.96)" style="stroke: #d4d4d4; stroke-width: 0.6; fill: #d4d4d4; stroke: #d4d4d4; stroke-width: 0.6"/> </g> </g> </g> <g id="xtick_105"> <g id="line2d_225"> <g> <path d="M 0.36 0.36 L 0.36 2.52" transform="translate(380.88 804.96)" style="stroke: #d4d4d4; stroke-width: 0.6; fill: #d4d4d4; stroke: #d4d4d4; stroke-width: 0.6"/> </g> </g> </g> <g id="xtick_106"> <g id="line2d_226"> <g> <path d="M 0.36 0.36 L 0.36 2.52" transform="translate(401.76 804.96)" style="stroke: #d4d4d4; stroke-width: 0.6; fill: #d4d4d4; stroke: #d4d4d4; stroke-width: 0.6"/> </g> </g> </g> <g id="xtick_107"> <g id="line2d_227"> <g> <path d="M 0.36 0.36 L 0.36 2.52" transform="translate(416.88 804.96)" style="stroke: #d4d4d4; stroke-width: 0.6; fill: #d4d4d4; stroke: #d4d4d4; stroke-width: 0.6"/> </g> </g> </g> <g id="xtick_108"> <g id="line2d_228"> <g> <path d="M 0.36 0.36 L 0.36 2.52" transform="translate(428.40 804.96)" style="stroke: #d4d4d4; stroke-width: 0.6; fill: #d4d4d4; stroke: #d4d4d4; stroke-width: 0.6"/> </g> </g> </g> <g id="xtick_109"> <g id="line2d_229"> <g> <path d="M 0.36 0.36 L 0.36 2.52" transform="translate(437.76 804.96)" style="stroke: #d4d4d4; stroke-width: 0.6; fill: #d4d4d4; stroke: #d4d4d4; stroke-width: 0.6"/> </g> </g> </g> <g id="xtick_110"> <g id="line2d_230"> <g> <path d="M 0.36 0.36 L 0.36 2.52" transform="translate(445.68 804.96)" style="stroke: #d4d4d4; stroke-width: 0.6; fill: #d4d4d4; stroke: #d4d4d4; stroke-width: 0.6"/> </g> </g> </g> <g id="xtick_111"> <g id="line2d_231"> <g> <path d="M 0.36 0.36 L 0.36 2.52" transform="translate(452.16 804.96)" style="stroke: #d4d4d4; stroke-width: 0.6; fill: #d4d4d4; stroke: #d4d4d4; stroke-width: 0.6"/> </g> </g> </g> <g id="xtick_112"> <g id="line2d_232"> <g> <path d="M 0.36 0.36 L 0.36 2.52" transform="translate(458.64 804.96)" style="stroke: #d4d4d4; stroke-width: 0.6; fill: #d4d4d4; stroke: #d4d4d4; stroke-width: 0.6"/> </g> </g> </g> <g id="xtick_113"> <g id="line2d_233"> <g> <path d="M 0.36 0.36 L 0.36 2.52" transform="translate(499.68 804.96)" style="stroke: #d4d4d4; stroke-width: 0.6; fill: #d4d4d4; stroke: #d4d4d4; stroke-width: 0.6"/> </g> </g> </g> <g id="xtick_114"> <g id="line2d_234"> <g> <path d="M 0.36 0.36 L 0.36 2.52" transform="translate(520.56 804.96)" style="stroke: #d4d4d4; stroke-width: 0.6; fill: #d4d4d4; stroke: #d4d4d4; stroke-width: 0.6"/> </g> </g> </g> <g id="xtick_115"> <g id="line2d_235"> <g> <path d="M 0.36 0.36 L 0.36 2.52" transform="translate(535.68 804.96)" style="stroke: #d4d4d4; stroke-width: 0.6; fill: #d4d4d4; stroke: #d4d4d4; stroke-width: 0.6"/> </g> </g> </g> <g id="xtick_116"> <g id="line2d_236"> <g> <path d="M 0.36 0.36 L 0.36 2.52" transform="translate(547.20 804.96)" style="stroke: #d4d4d4; stroke-width: 0.6; fill: #d4d4d4; stroke: #d4d4d4; stroke-width: 0.6"/> </g> </g> </g> <g id="xtick_117"> <g id="line2d_237"> <g> <path d="M 0.36 0.36 L 0.36 2.52" transform="translate(556.56 804.96)" style="stroke: #d4d4d4; stroke-width: 0.6; fill: #d4d4d4; stroke: #d4d4d4; stroke-width: 0.6"/> </g> </g> </g> <g id="text_33"> <text style="font-size: 12px; font-family: 'DejaVu Sans', 'Liberation Sans', sans-serif; text-anchor: middle; fill: #d4d4d4" x="303.87" y="839.66" transform="rotate(-0 303.87 839.66) translate(304.07 840.11) scale(1 1.070) translate(-303.87 -839.66)">Policy Count</text> </g> </g> <g id="matplotlib.axis_6"> <g id="ytick_47"> <g id="line2d_238"> <path d="M 49.32 553.32 L 559.08 553.32" clip-path="url(#pda3e8afbe7)" style="fill: none; stroke: #262626; stroke-width: 0.8; stroke-linecap: square"/> </g> <g id="line2d_239"> <g> <path d="M 0.36 0.36 L -3.24 0.36" transform="translate(48.96 552.96)" style="stroke: #d4d4d4; stroke-width: 0.8; fill: #d4d4d4; stroke: #d4d4d4; stroke-width: 0.8"/> </g> </g> <g id="text_34"> <g style="fill: #d4d4d4" transform="translate(24.16 558.57)"> <text> <tspan x="0.60" y="-0.60" style="font-size: 10px; font-family: 'DejaVu Sans', 'Liberation Sans', sans-serif; fill: #d4d4d4">10</tspan> <tspan x="13.42" y="-4.43" style="font-size: 7px; font-family: 'DejaVu Sans', 'Liberation Sans', sans-serif; fill: #d4d4d4">3</tspan> </text> </g> </g> </g> <g id="ytick_48"> <g id="line2d_240"> <g> <path d="M 0.36 0.36 L -1.80 0.36" transform="translate(48.96 776.16)" style="stroke: #d4d4d4; stroke-width: 0.6; fill: #d4d4d4; stroke: #d4d4d4; stroke-width: 0.6"/> </g> </g> </g> <g id="ytick_49"> <g id="line2d_241"> <g> <path d="M 0.36 0.36 L -1.80 0.36" transform="translate(48.96 720.00)" style="stroke: #d4d4d4; stroke-width: 0.6; fill: #d4d4d4; stroke: #d4d4d4; stroke-width: 0.6"/> </g> </g> </g> <g id="ytick_50"> <g id="line2d_242"> <g> <path d="M 0.36 0.36 L -1.80 0.36" transform="translate(48.96 680.40)" style="stroke: #d4d4d4; stroke-width: 0.6; fill: #d4d4d4; stroke: #d4d4d4; stroke-width: 0.6"/> </g> </g> </g> <g id="ytick_51"> <g id="line2d_243"> <g> <path d="M 0.36 0.36 L -1.80 0.36" transform="translate(48.96 649.44)" style="stroke: #d4d4d4; stroke-width: 0.6; fill: #d4d4d4; stroke: #d4d4d4; stroke-width: 0.6"/> </g> </g> </g> <g id="ytick_52"> <g id="line2d_244"> <g> <path d="M 0.36 0.36 L -1.80 0.36" transform="translate(48.96 624.24)" style="stroke: #d4d4d4; stroke-width: 0.6; fill: #d4d4d4; stroke: #d4d4d4; stroke-width: 0.6"/> </g> </g> </g> <g id="ytick_53"> <g id="line2d_245"> <g> <path d="M 0.36 0.36 L -1.80 0.36" transform="translate(48.96 602.64)" style="stroke: #d4d4d4; stroke-width: 0.6; fill: #d4d4d4; stroke: #d4d4d4; stroke-width: 0.6"/> </g> </g> </g> <g id="ytick_54"> <g id="line2d_246"> <g> <path d="M 0.36 0.36 L -1.80 0.36" transform="translate(48.96 583.92)" style="stroke: #d4d4d4; stroke-width: 0.6; fill: #d4d4d4; stroke: #d4d4d4; stroke-width: 0.6"/> </g> </g> </g> <g id="ytick_55"> <g id="line2d_247"> <g> <path d="M 0.36 0.36 L -1.80 0.36" transform="translate(48.96 567.36)" style="stroke: #d4d4d4; stroke-width: 0.6; fill: #d4d4d4; stroke: #d4d4d4; stroke-width: 0.6"/> </g> </g> </g> <g id="text_35"> <text style="font-size: 12px; font-family: 'DejaVu Sans', 'Liberation Sans', sans-serif; text-anchor: middle; fill: #d4d4d4" x="17.28" y="639.23" transform="rotate(-90 17.28 639.23) translate(16.02 638.23) scale(1 1.070) translate(-17.28 -639.23)">CPU Usage (%)</text> </g> </g> <g id="FillBetweenPolyCollection_9"> <g clip-path="url(#pda3e8afbe7)"> <path d="M 72.40 -85.72 L 72.40 -59.96 L 108.11 -67.55 L 191.01 -84.12 L 226.72 -99.50 L 309.62 -102.12 L 345.32 -99.84 L 428.23 -103.75 L 463.93 -103.75 L 499.64 -104.31 L 535.34 -109.11 L 535.34 -109.65 L 535.34 -109.65 L 499.64 -108.68 L 463.93 -108.14 L 428.23 -108.14 L 345.32 -106.57 L 309.62 -109.38 L 226.72 -114.43 L 191.01 -105.52 L 108.11 -84.31 L 72.40 -85.72 z " transform="translate(0.00 849.60)" style="stroke: #22c55e; stroke-opacity: 0.2; fill: #22c55e; fill-opacity: 0.2; stroke: #22c55e; stroke-opacity: 0.2"/> </g> </g> <g id="FillBetweenPolyCollection_10"> <g clip-path="url(#pda3e8afbe7)"> <path d="M 72.40 -264.16 L 72.40 -260.60 L 108.11 -260.78 L 191.01 -277.34 L 226.72 -302.20 L 309.62 -321.96 L 345.32 -329.19 L 428.23 -345.08 L 463.93 -348.85 L 499.64 -351.13 L 535.34 -352.90 L 535.34 -354.74 L 535.34 -354.74 L 499.64 -352.99 L 463.93 -350.75 L 428.23 -347.41 L 345.32 -332.45 L 309.62 -326.52 L 226.72 -308.72 L 191.01 -281.13 L 108.11 -264.33 L 72.40 -264.16 z " transform="translate(0.00 849.60)" style="stroke: #f97316; stroke-opacity: 0.2; fill: #f97316; fill-opacity: 0.2; stroke: #f97316; stroke-opacity: 0.2"/> </g> </g> <g id="FillBetweenPolyCollection_11"> <g clip-path="url(#pda3e8afbe7)"> <path d="M 72.40 -279.89 L 72.40 -276.10 L 108.11 -276.69 L 191.01 -288.96 L 226.72 -294.27 L 309.62 -297.97 L 345.32 -301.35 L 428.23 -303.74 L 463.93 -306.48 L 499.64 -311.77 L 535.34 -320.38 L 535.34 -323.15 L 535.34 -323.15 L 499.64 -313.74 L 463.93 -308.52 L 428.23 -305.83 L 345.32 -303.48 L 309.62 -300.68 L 226.72 -297.61 L 191.01 -294.13 L 108.11 -280.47 L 72.40 -279.89 z " transform="translate(0.00 849.60)" style="stroke: #06b6d4; stroke-opacity: 0.2; fill: #06b6d4; fill-opacity: 0.2; stroke: #06b6d4; stroke-opacity: 0.2"/> </g> </g> <g id="FillBetweenPolyCollection_12"> <g clip-path="url(#pda3e8afbe7)"> <path d="M 72.40 -304.58 L 72.40 -300.58 L 108.11 -300.58 L 191.01 -297.71 L 226.72 -293.37 L 309.62 -324.15 L 345.32 -332.77 L 428.23 -347.80 L 463.93 -351.22 L 499.64 -290.64 L 535.34 -354.56 L 535.34 -356.38 L 535.34 -356.38 L 499.64 -361.27 L 463.93 -353.08 L 428.23 -350.09 L 345.32 -335.95 L 309.62 -335.11 L 226.72 -301.66 L 191.01 -304.45 L 108.11 -304.58 L 72.40 -304.58 z " transform="translate(0.00 849.60)" style="stroke: #a855f7; stroke-opacity: 0.2; fill: #a855f7; fill-opacity: 0.2; stroke: #a855f7; stroke-opacity: 0.2"/> </g> </g> <g id="LineCollection_17"> <path d="M 73.08 790.20 L 73.08 764.28" clip-path="url(#pda3e8afbe7)" style="fill: none; stroke: #22c55e; stroke-width: 2"/> <path d="M 108.36 782.28 L 108.36 765.72" clip-path="url(#pda3e8afbe7)" style="fill: none; stroke: #22c55e; stroke-width: 2"/> <path d="M 191.16 765.72 L 191.16 744.12" clip-path="url(#pda3e8afbe7)" style="fill: none; stroke: #22c55e; stroke-width: 2"/> <path d="M 227.16 750.60 L 227.16 735.48" clip-path="url(#pda3e8afbe7)" style="fill: none; stroke: #22c55e; stroke-width: 2"/> <path d="M 309.96 747.72 L 309.96 740.52" clip-path="url(#pda3e8afbe7)" style="fill: none; stroke: #22c55e; stroke-width: 2"/> <path d="M 345.96 749.88 L 345.96 743.40" clip-path="url(#pda3e8afbe7)" style="fill: none; stroke: #22c55e; stroke-width: 2"/> <path d="M 428.76 746.28 L 428.76 741.96" clip-path="url(#pda3e8afbe7)" style="fill: none; stroke: #22c55e; stroke-width: 2"/> <path d="M 464.04 746.28 L 464.04 741.96" clip-path="url(#pda3e8afbe7)" style="fill: none; stroke: #22c55e; stroke-width: 2"/> <path d="M 500.04 745.56 L 500.04 741.24" clip-path="url(#pda3e8afbe7)" style="fill: none; stroke: #22c55e; stroke-width: 2"/> <path d="M 536.04 740.52 L 536.04 740.52" clip-path="url(#pda3e8afbe7)" style="fill: none; stroke: #22c55e; stroke-width: 2"/> </g> <g id="line2d_248"> <g clip-path="url(#pda3e8afbe7)"> <path d="M 4.68 0.36 L -3.96 0.36" transform="translate(72.72 789.84)" style="stroke: #22c55e; fill: #22c55e; stroke: #22c55e"/> <path d="M 4.68 0.36 L -3.96 0.36" transform="translate(108.00 781.92)" style="stroke: #22c55e; fill: #22c55e; stroke: #22c55e"/> <path d="M 4.68 0.36 L -3.96 0.36" transform="translate(190.80 765.36)" style="stroke: #22c55e; fill: #22c55e; stroke: #22c55e"/> <path d="M 4.68 0.36 L -3.96 0.36" transform="translate(226.80 750.24)" style="stroke: #22c55e; fill: #22c55e; stroke: #22c55e"/> <path d="M 4.68 0.36 L -3.96 0.36" transform="translate(309.60 747.36)" style="stroke: #22c55e; fill: #22c55e; stroke: #22c55e"/> <path d="M 4.68 0.36 L -3.96 0.36" transform="translate(345.60 749.52)" style="stroke: #22c55e; fill: #22c55e; stroke: #22c55e"/> <path d="M 4.68 0.36 L -3.96 0.36" transform="translate(428.40 745.92)" style="stroke: #22c55e; fill: #22c55e; stroke: #22c55e"/> <path d="M 4.68 0.36 L -3.96 0.36" transform="translate(463.68 745.92)" style="stroke: #22c55e; fill: #22c55e; stroke: #22c55e"/> <path d="M 4.68 0.36 L -3.96 0.36" transform="translate(499.68 745.20)" style="stroke: #22c55e; fill: #22c55e; stroke: #22c55e"/> <path d="M 4.68 0.36 L -3.96 0.36" transform="translate(535.68 740.16)" style="stroke: #22c55e; fill: #22c55e; stroke: #22c55e"/> </g> </g> <g id="line2d_249"> <g clip-path="url(#pda3e8afbe7)"> <path d="M 4.68 0.36 L -3.96 0.36" transform="translate(72.72 763.92)" style="stroke: #22c55e; fill: #22c55e; stroke: #22c55e"/> <path d="M 4.68 0.36 L -3.96 0.36" transform="translate(108.00 765.36)" style="stroke: #22c55e; fill: #22c55e; stroke: #22c55e"/> <path d="M 4.68 0.36 L -3.96 0.36" transform="translate(190.80 743.76)" style="stroke: #22c55e; fill: #22c55e; stroke: #22c55e"/> <path d="M 4.68 0.36 L -3.96 0.36" transform="translate(226.80 735.12)" style="stroke: #22c55e; fill: #22c55e; stroke: #22c55e"/> <path d="M 4.68 0.36 L -3.96 0.36" transform="translate(309.60 740.16)" style="stroke: #22c55e; fill: #22c55e; stroke: #22c55e"/> <path d="M 4.68 0.36 L -3.96 0.36" transform="translate(345.60 743.04)" style="stroke: #22c55e; fill: #22c55e; stroke: #22c55e"/> <path d="M 4.68 0.36 L -3.96 0.36" transform="translate(428.40 741.60)" style="stroke: #22c55e; fill: #22c55e; stroke: #22c55e"/> <path d="M 4.68 0.36 L -3.96 0.36" transform="translate(463.68 741.60)" style="stroke: #22c55e; fill: #22c55e; stroke: #22c55e"/> <path d="M 4.68 0.36 L -3.96 0.36" transform="translate(499.68 740.88)" style="stroke: #22c55e; fill: #22c55e; stroke: #22c55e"/> <path d="M 4.68 0.36 L -3.96 0.36" transform="translate(535.68 740.16)" style="stroke: #22c55e; fill: #22c55e; stroke: #22c55e"/> </g> </g> <g id="LineCollection_18"> <path d="M 73.08 589.32 L 73.08 585.72" clip-path="url(#pda3e8afbe7)" style="fill: none; stroke: #f97316; stroke-width: 2"/> <path d="M 108.36 589.32 L 108.36 585.72" clip-path="url(#pda3e8afbe7)" style="fill: none; stroke: #f97316; stroke-width: 2"/> <path d="M 191.16 572.76 L 191.16 569.16" clip-path="url(#pda3e8afbe7)" style="fill: none; stroke: #f97316; stroke-width: 2"/> <path d="M 227.16 547.56 L 227.16 541.08" clip-path="url(#pda3e8afbe7)" style="fill: none; stroke: #f97316; stroke-width: 2"/> <path d="M 309.96 528.12 L 309.96 523.08" clip-path="url(#pda3e8afbe7)" style="fill: none; stroke: #f97316; stroke-width: 2"/> <path d="M 345.96 520.92 L 345.96 517.32" clip-path="url(#pda3e8afbe7)" style="fill: none; stroke: #f97316; stroke-width: 2"/> <path d="M 428.76 505.08 L 428.76 502.20" clip-path="url(#pda3e8afbe7)" style="fill: none; stroke: #f97316; stroke-width: 2"/> <path d="M 464.04 500.76 L 464.04 499.32" clip-path="url(#pda3e8afbe7)" style="fill: none; stroke: #f97316; stroke-width: 2"/> <path d="M 500.04 498.60 L 500.04 497.16" clip-path="url(#pda3e8afbe7)" style="fill: none; stroke: #f97316; stroke-width: 2"/> <path d="M 536.04 497.16 L 536.04 495.00" clip-path="url(#pda3e8afbe7)" style="fill: none; stroke: #f97316; stroke-width: 2"/> </g> <g id="line2d_250"> <g clip-path="url(#pda3e8afbe7)"> <path d="M 4.68 0.36 L -3.96 0.36" transform="translate(72.72 588.96)" style="stroke: #f97316; fill: #f97316; stroke: #f97316"/> <path d="M 4.68 0.36 L -3.96 0.36" transform="translate(108.00 588.96)" style="stroke: #f97316; fill: #f97316; stroke: #f97316"/> <path d="M 4.68 0.36 L -3.96 0.36" transform="translate(190.80 572.40)" style="stroke: #f97316; fill: #f97316; stroke: #f97316"/> <path d="M 4.68 0.36 L -3.96 0.36" transform="translate(226.80 547.20)" style="stroke: #f97316; fill: #f97316; stroke: #f97316"/> <path d="M 4.68 0.36 L -3.96 0.36" transform="translate(309.60 527.76)" style="stroke: #f97316; fill: #f97316; stroke: #f97316"/> <path d="M 4.68 0.36 L -3.96 0.36" transform="translate(345.60 520.56)" style="stroke: #f97316; fill: #f97316; stroke: #f97316"/> <path d="M 4.68 0.36 L -3.96 0.36" transform="translate(428.40 504.72)" style="stroke: #f97316; fill: #f97316; stroke: #f97316"/> <path d="M 4.68 0.36 L -3.96 0.36" transform="translate(463.68 500.40)" style="stroke: #f97316; fill: #f97316; stroke: #f97316"/> <path d="M 4.68 0.36 L -3.96 0.36" transform="translate(499.68 498.24)" style="stroke: #f97316; fill: #f97316; stroke: #f97316"/> <path d="M 4.68 0.36 L -3.96 0.36" transform="translate(535.68 496.80)" style="stroke: #f97316; fill: #f97316; stroke: #f97316"/> </g> </g> <g id="line2d_251"> <g clip-path="url(#pda3e8afbe7)"> <path d="M 4.68 0.36 L -3.96 0.36" transform="translate(72.72 585.36)" style="stroke: #f97316; fill: #f97316; stroke: #f97316"/> <path d="M 4.68 0.36 L -3.96 0.36" transform="translate(108.00 585.36)" style="stroke: #f97316; fill: #f97316; stroke: #f97316"/> <path d="M 4.68 0.36 L -3.96 0.36" transform="translate(190.80 568.80)" style="stroke: #f97316; fill: #f97316; stroke: #f97316"/> <path d="M 4.68 0.36 L -3.96 0.36" transform="translate(226.80 540.72)" style="stroke: #f97316; fill: #f97316; stroke: #f97316"/> <path d="M 4.68 0.36 L -3.96 0.36" transform="translate(309.60 522.72)" style="stroke: #f97316; fill: #f97316; stroke: #f97316"/> <path d="M 4.68 0.36 L -3.96 0.36" transform="translate(345.60 516.96)" style="stroke: #f97316; fill: #f97316; stroke: #f97316"/> <path d="M 4.68 0.36 L -3.96 0.36" transform="translate(428.40 501.84)" style="stroke: #f97316; fill: #f97316; stroke: #f97316"/> <path d="M 4.68 0.36 L -3.96 0.36" transform="translate(463.68 498.96)" style="stroke: #f97316; fill: #f97316; stroke: #f97316"/> <path d="M 4.68 0.36 L -3.96 0.36" transform="translate(499.68 496.80)" style="stroke: #f97316; fill: #f97316; stroke: #f97316"/> <path d="M 4.68 0.36 L -3.96 0.36" transform="translate(535.68 494.64)" style="stroke: #f97316; fill: #f97316; stroke: #f97316"/> </g> </g> <g id="LineCollection_19"> <path d="M 73.08 574.20 L 73.08 569.88" clip-path="url(#pda3e8afbe7)" style="fill: none; stroke: #06b6d4; stroke-width: 2"/> <path d="M 108.36 573.48 L 108.36 569.16" clip-path="url(#pda3e8afbe7)" style="fill: none; stroke: #06b6d4; stroke-width: 2"/> <path d="M 191.16 561.24 L 191.16 555.48" clip-path="url(#pda3e8afbe7)" style="fill: none; stroke: #06b6d4; stroke-width: 2"/> <path d="M 227.16 555.48 L 227.16 552.60" clip-path="url(#pda3e8afbe7)" style="fill: none; stroke: #06b6d4; stroke-width: 2"/> <path d="M 309.96 551.88 L 309.96 549.00" clip-path="url(#pda3e8afbe7)" style="fill: none; stroke: #06b6d4; stroke-width: 2"/> <path d="M 345.96 548.28 L 345.96 546.12" clip-path="url(#pda3e8afbe7)" style="fill: none; stroke: #06b6d4; stroke-width: 2"/> <path d="M 428.76 546.12 L 428.76 543.96" clip-path="url(#pda3e8afbe7)" style="fill: none; stroke: #06b6d4; stroke-width: 2"/> <path d="M 464.04 543.24 L 464.04 541.08" clip-path="url(#pda3e8afbe7)" style="fill: none; stroke: #06b6d4; stroke-width: 2"/> <path d="M 500.04 538.20 L 500.04 536.04" clip-path="url(#pda3e8afbe7)" style="fill: none; stroke: #06b6d4; stroke-width: 2"/> <path d="M 536.04 529.56 L 536.04 526.68" clip-path="url(#pda3e8afbe7)" style="fill: none; stroke: #06b6d4; stroke-width: 2"/> </g> <g id="line2d_252"> <g clip-path="url(#pda3e8afbe7)"> <path d="M 4.68 0.36 L -3.96 0.36" transform="translate(72.72 573.84)" style="stroke: #06b6d4; fill: #06b6d4; stroke: #06b6d4"/> <path d="M 4.68 0.36 L -3.96 0.36" transform="translate(108.00 573.12)" style="stroke: #06b6d4; fill: #06b6d4; stroke: #06b6d4"/> <path d="M 4.68 0.36 L -3.96 0.36" transform="translate(190.80 560.88)" style="stroke: #06b6d4; fill: #06b6d4; stroke: #06b6d4"/> <path d="M 4.68 0.36 L -3.96 0.36" transform="translate(226.80 555.12)" style="stroke: #06b6d4; fill: #06b6d4; stroke: #06b6d4"/> <path d="M 4.68 0.36 L -3.96 0.36" transform="translate(309.60 551.52)" style="stroke: #06b6d4; fill: #06b6d4; stroke: #06b6d4"/> <path d="M 4.68 0.36 L -3.96 0.36" transform="translate(345.60 547.92)" style="stroke: #06b6d4; fill: #06b6d4; stroke: #06b6d4"/> <path d="M 4.68 0.36 L -3.96 0.36" transform="translate(428.40 545.76)" style="stroke: #06b6d4; fill: #06b6d4; stroke: #06b6d4"/> <path d="M 4.68 0.36 L -3.96 0.36" transform="translate(463.68 542.88)" style="stroke: #06b6d4; fill: #06b6d4; stroke: #06b6d4"/> <path d="M 4.68 0.36 L -3.96 0.36" transform="translate(499.68 537.84)" style="stroke: #06b6d4; fill: #06b6d4; stroke: #06b6d4"/> <path d="M 4.68 0.36 L -3.96 0.36" transform="translate(535.68 529.20)" style="stroke: #06b6d4; fill: #06b6d4; stroke: #06b6d4"/> </g> </g> <g id="line2d_253"> <g clip-path="url(#pda3e8afbe7)"> <path d="M 4.68 0.36 L -3.96 0.36" transform="translate(72.72 569.52)" style="stroke: #06b6d4; fill: #06b6d4; stroke: #06b6d4"/> <path d="M 4.68 0.36 L -3.96 0.36" transform="translate(108.00 568.80)" style="stroke: #06b6d4; fill: #06b6d4; stroke: #06b6d4"/> <path d="M 4.68 0.36 L -3.96 0.36" transform="translate(190.80 555.12)" style="stroke: #06b6d4; fill: #06b6d4; stroke: #06b6d4"/> <path d="M 4.68 0.36 L -3.96 0.36" transform="translate(226.80 552.24)" style="stroke: #06b6d4; fill: #06b6d4; stroke: #06b6d4"/> <path d="M 4.68 0.36 L -3.96 0.36" transform="translate(309.60 548.64)" style="stroke: #06b6d4; fill: #06b6d4; stroke: #06b6d4"/> <path d="M 4.68 0.36 L -3.96 0.36" transform="translate(345.60 545.76)" style="stroke: #06b6d4; fill: #06b6d4; stroke: #06b6d4"/> <path d="M 4.68 0.36 L -3.96 0.36" transform="translate(428.40 543.60)" style="stroke: #06b6d4; fill: #06b6d4; stroke: #06b6d4"/> <path d="M 4.68 0.36 L -3.96 0.36" transform="translate(463.68 540.72)" style="stroke: #06b6d4; fill: #06b6d4; stroke: #06b6d4"/> <path d="M 4.68 0.36 L -3.96 0.36" transform="translate(499.68 535.68)" style="stroke: #06b6d4; fill: #06b6d4; stroke: #06b6d4"/> <path d="M 4.68 0.36 L -3.96 0.36" transform="translate(535.68 526.32)" style="stroke: #06b6d4; fill: #06b6d4; stroke: #06b6d4"/> </g> </g> <g id="LineCollection_20"> <path d="M 73.08 549.72 L 73.08 545.40" clip-path="url(#pda3e8afbe7)" style="fill: none; stroke: #a855f7; stroke-width: 2"/> <path d="M 108.36 549.72 L 108.36 545.40" clip-path="url(#pda3e8afbe7)" style="fill: none; stroke: #a855f7; stroke-width: 2"/> <path d="M 191.16 552.60 L 191.16 545.40" clip-path="url(#pda3e8afbe7)" style="fill: none; stroke: #a855f7; stroke-width: 2"/> <path d="M 227.16 556.92 L 227.16 548.28" clip-path="url(#pda3e8afbe7)" style="fill: none; stroke: #a855f7; stroke-width: 2"/> <path d="M 309.96 525.96 L 309.96 515.16" clip-path="url(#pda3e8afbe7)" style="fill: none; stroke: #a855f7; stroke-width: 2"/> <path d="M 345.96 517.32 L 345.96 513.72" clip-path="url(#pda3e8afbe7)" style="fill: none; stroke: #a855f7; stroke-width: 2"/> <path d="M 428.76 502.20 L 428.76 500.04" clip-path="url(#pda3e8afbe7)" style="fill: none; stroke: #a855f7; stroke-width: 2"/> <path d="M 464.04 498.60 L 464.04 497.16" clip-path="url(#pda3e8afbe7)" style="fill: none; stroke: #a855f7; stroke-width: 2"/> <path d="M 500.04 559.08 L 500.04 488.52" clip-path="url(#pda3e8afbe7)" style="fill: none; stroke: #a855f7; stroke-width: 2"/> <path d="M 536.04 495.72 L 536.04 493.56" clip-path="url(#pda3e8afbe7)" style="fill: none; stroke: #a855f7; stroke-width: 2"/> </g> <g id="line2d_254"> <g clip-path="url(#pda3e8afbe7)"> <path d="M 4.68 0.36 L -3.96 0.36" transform="translate(72.72 549.36)" style="stroke: #a855f7; fill: #a855f7; stroke: #a855f7"/> <path d="M 4.68 0.36 L -3.96 0.36" transform="translate(108.00 549.36)" style="stroke: #a855f7; fill: #a855f7; stroke: #a855f7"/> <path d="M 4.68 0.36 L -3.96 0.36" transform="translate(190.80 552.24)" style="stroke: #a855f7; fill: #a855f7; stroke: #a855f7"/> <path d="M 4.68 0.36 L -3.96 0.36" transform="translate(226.80 556.56)" style="stroke: #a855f7; fill: #a855f7; stroke: #a855f7"/> <path d="M 4.68 0.36 L -3.96 0.36" transform="translate(309.60 525.60)" style="stroke: #a855f7; fill: #a855f7; stroke: #a855f7"/> <path d="M 4.68 0.36 L -3.96 0.36" transform="translate(345.60 516.96)" style="stroke: #a855f7; fill: #a855f7; stroke: #a855f7"/> <path d="M 4.68 0.36 L -3.96 0.36" transform="translate(428.40 501.84)" style="stroke: #a855f7; fill: #a855f7; stroke: #a855f7"/> <path d="M 4.68 0.36 L -3.96 0.36" transform="translate(463.68 498.24)" style="stroke: #a855f7; fill: #a855f7; stroke: #a855f7"/> <path d="M 4.68 0.36 L -3.96 0.36" transform="translate(499.68 558.72)" style="stroke: #a855f7; fill: #a855f7; stroke: #a855f7"/> <path d="M 4.68 0.36 L -3.96 0.36" transform="translate(535.68 495.36)" style="stroke: #a855f7; fill: #a855f7; stroke: #a855f7"/> </g> </g> <g id="line2d_255"> <g clip-path="url(#pda3e8afbe7)"> <path d="M 4.68 0.36 L -3.96 0.36" transform="translate(72.72 545.04)" style="stroke: #a855f7; fill: #a855f7; stroke: #a855f7"/> <path d="M 4.68 0.36 L -3.96 0.36" transform="translate(108.00 545.04)" style="stroke: #a855f7; fill: #a855f7; stroke: #a855f7"/> <path d="M 4.68 0.36 L -3.96 0.36" transform="translate(190.80 545.04)" style="stroke: #a855f7; fill: #a855f7; stroke: #a855f7"/> <path d="M 4.68 0.36 L -3.96 0.36" transform="translate(226.80 547.92)" style="stroke: #a855f7; fill: #a855f7; stroke: #a855f7"/> <path d="M 4.68 0.36 L -3.96 0.36" transform="translate(309.60 514.80)" style="stroke: #a855f7; fill: #a855f7; stroke: #a855f7"/> <path d="M 4.68 0.36 L -3.96 0.36" transform="translate(345.60 513.36)" style="stroke: #a855f7; fill: #a855f7; stroke: #a855f7"/> <path d="M 4.68 0.36 L -3.96 0.36" transform="translate(428.40 499.68)" style="stroke: #a855f7; fill: #a855f7; stroke: #a855f7"/> <path d="M 4.68 0.36 L -3.96 0.36" transform="translate(463.68 496.80)" style="stroke: #a855f7; fill: #a855f7; stroke: #a855f7"/> <path d="M 4.68 0.36 L -3.96 0.36" transform="translate(499.68 488.16)" style="stroke: #a855f7; fill: #a855f7; stroke: #a855f7"/> <path d="M 4.68 0.36 L -3.96 0.36" transform="translate(535.68 493.20)" style="stroke: #a855f7; fill: #a855f7; stroke: #a855f7"/> </g> </g> <g id="line2d_256"> <path d="M 72.40 776.15 L 108.11 773.40 L 191.01 754.35 L 226.72 742.42 L 309.62 743.79 L 345.32 746.34 L 428.23 743.63 L 463.93 743.63 L 499.64 743.08 L 535.34 740.21 " clip-path="url(#pda3e8afbe7)" style="fill: none; stroke: #22c55e; stroke-width: 2; stroke-linecap: square"/> <g clip-path="url(#pda3e8afbe7)"> <path d="M 0 4 C 1.06 4 2.07 3.57 2.82 2.82 C 3.57 2.07 4 1.06 4 0 C 4 -1.06 3.57 -2.07 2.82 -2.82 C 2.07 -3.57 1.06 -4 0 -4 C -1.06 -4 -2.07 -3.57 -2.82 -2.82 C -3.57 -2.07 -4 -1.06 -4 0 C -4 1.06 -3.57 2.07 -2.82 2.82 C -2.07 3.57 -1.06 4 0 4 z " transform="translate(73.08 776.52)" style="stroke: #22c55e; fill: #22c55e; stroke: #22c55e"/> <path d="M 0 4 C 1.06 4 2.07 3.57 2.82 2.82 C 3.57 2.07 4 1.06 4 0 C 4 -1.06 3.57 -2.07 2.82 -2.82 C 2.07 -3.57 1.06 -4 0 -4 C -1.06 -4 -2.07 -3.57 -2.82 -2.82 C -3.57 -2.07 -4 -1.06 -4 0 C -4 1.06 -3.57 2.07 -2.82 2.82 C -2.07 3.57 -1.06 4 0 4 z " transform="translate(108.36 773.64)" style="stroke: #22c55e; fill: #22c55e; stroke: #22c55e"/> <path d="M 0 4 C 1.06 4 2.07 3.57 2.82 2.82 C 3.57 2.07 4 1.06 4 0 C 4 -1.06 3.57 -2.07 2.82 -2.82 C 2.07 -3.57 1.06 -4 0 -4 C -1.06 -4 -2.07 -3.57 -2.82 -2.82 C -3.57 -2.07 -4 -1.06 -4 0 C -4 1.06 -3.57 2.07 -2.82 2.82 C -2.07 3.57 -1.06 4 0 4 z " transform="translate(191.16 754.92)" style="stroke: #22c55e; fill: #22c55e; stroke: #22c55e"/> <path d="M 0 4 C 1.06 4 2.07 3.57 2.82 2.82 C 3.57 2.07 4 1.06 4 0 C 4 -1.06 3.57 -2.07 2.82 -2.82 C 2.07 -3.57 1.06 -4 0 -4 C -1.06 -4 -2.07 -3.57 -2.82 -2.82 C -3.57 -2.07 -4 -1.06 -4 0 C -4 1.06 -3.57 2.07 -2.82 2.82 C -2.07 3.57 -1.06 4 0 4 z " transform="translate(227.16 742.68)" style="stroke: #22c55e; fill: #22c55e; stroke: #22c55e"/> <path d="M 0 4 C 1.06 4 2.07 3.57 2.82 2.82 C 3.57 2.07 4 1.06 4 0 C 4 -1.06 3.57 -2.07 2.82 -2.82 C 2.07 -3.57 1.06 -4 0 -4 C -1.06 -4 -2.07 -3.57 -2.82 -2.82 C -3.57 -2.07 -4 -1.06 -4 0 C -4 1.06 -3.57 2.07 -2.82 2.82 C -2.07 3.57 -1.06 4 0 4 z " transform="translate(309.96 744.12)" style="stroke: #22c55e; fill: #22c55e; stroke: #22c55e"/> <path d="M 0 4 C 1.06 4 2.07 3.57 2.82 2.82 C 3.57 2.07 4 1.06 4 0 C 4 -1.06 3.57 -2.07 2.82 -2.82 C 2.07 -3.57 1.06 -4 0 -4 C -1.06 -4 -2.07 -3.57 -2.82 -2.82 C -3.57 -2.07 -4 -1.06 -4 0 C -4 1.06 -3.57 2.07 -2.82 2.82 C -2.07 3.57 -1.06 4 0 4 z " transform="translate(345.96 747.00)" style="stroke: #22c55e; fill: #22c55e; stroke: #22c55e"/> <path d="M 0 4 C 1.06 4 2.07 3.57 2.82 2.82 C 3.57 2.07 4 1.06 4 0 C 4 -1.06 3.57 -2.07 2.82 -2.82 C 2.07 -3.57 1.06 -4 0 -4 C -1.06 -4 -2.07 -3.57 -2.82 -2.82 C -3.57 -2.07 -4 -1.06 -4 0 C -4 1.06 -3.57 2.07 -2.82 2.82 C -2.07 3.57 -1.06 4 0 4 z " transform="translate(428.76 744.12)" style="stroke: #22c55e; fill: #22c55e; stroke: #22c55e"/> <path d="M 0 4 C 1.06 4 2.07 3.57 2.82 2.82 C 3.57 2.07 4 1.06 4 0 C 4 -1.06 3.57 -2.07 2.82 -2.82 C 2.07 -3.57 1.06 -4 0 -4 C -1.06 -4 -2.07 -3.57 -2.82 -2.82 C -3.57 -2.07 -4 -1.06 -4 0 C -4 1.06 -3.57 2.07 -2.82 2.82 C -2.07 3.57 -1.06 4 0 4 z " transform="translate(464.04 744.12)" style="stroke: #22c55e; fill: #22c55e; stroke: #22c55e"/> <path d="M 0 4 C 1.06 4 2.07 3.57 2.82 2.82 C 3.57 2.07 4 1.06 4 0 C 4 -1.06 3.57 -2.07 2.82 -2.82 C 2.07 -3.57 1.06 -4 0 -4 C -1.06 -4 -2.07 -3.57 -2.82 -2.82 C -3.57 -2.07 -4 -1.06 -4 0 C -4 1.06 -3.57 2.07 -2.82 2.82 C -2.07 3.57 -1.06 4 0 4 z " transform="translate(500.04 743.40)" style="stroke: #22c55e; fill: #22c55e; stroke: #22c55e"/> <path d="M 0 4 C 1.06 4 2.07 3.57 2.82 2.82 C 3.57 2.07 4 1.06 4 0 C 4 -1.06 3.57 -2.07 2.82 -2.82 C 2.07 -3.57 1.06 -4 0 -4 C -1.06 -4 -2.07 -3.57 -2.82 -2.82 C -3.57 -2.07 -4 -1.06 -4 0 C -4 1.06 -3.57 2.07 -2.82 2.82 C -2.07 3.57 -1.06 4 0 4 z " transform="translate(536.04 740.52)" style="stroke: #22c55e; fill: #22c55e; stroke: #22c55e"/> </g> </g> <g id="line2d_257"> <path d="M 72.40 587.20 L 108.11 587.02 L 191.01 570.34 L 226.72 544.09 L 309.62 525.33 L 345.32 518.76 L 428.23 503.34 L 463.93 499.79 L 499.64 497.53 L 535.34 495.77 " clip-path="url(#pda3e8afbe7)" style="fill: none; stroke: #f97316; stroke-width: 2; stroke-linecap: square"/> <g clip-path="url(#pda3e8afbe7)"> <path d="M 0 -4 L -4 4 L 4 4 z " transform="translate(73.08 587.88)" style="stroke: #f97316; stroke-linejoin: miter; fill: #f97316; stroke: #f97316; stroke-linejoin: miter"/> <path d="M 0 -4 L -4 4 L 4 4 z " transform="translate(108.36 587.16)" style="stroke: #f97316; stroke-linejoin: miter; fill: #f97316; stroke: #f97316; stroke-linejoin: miter"/> <path d="M 0 -4 L -4 4 L 4 4 z " transform="translate(191.16 570.60)" style="stroke: #f97316; stroke-linejoin: miter; fill: #f97316; stroke: #f97316; stroke-linejoin: miter"/> <path d="M 0 -4 L -4 4 L 4 4 z " transform="translate(227.16 544.68)" style="stroke: #f97316; stroke-linejoin: miter; fill: #f97316; stroke: #f97316; stroke-linejoin: miter"/> <path d="M 0 -4 L -4 4 L 4 4 z " transform="translate(309.96 525.96)" style="stroke: #f97316; stroke-linejoin: miter; fill: #f97316; stroke: #f97316; stroke-linejoin: miter"/> <path d="M 0 -4 L -4 4 L 4 4 z " transform="translate(345.96 519.48)" style="stroke: #f97316; stroke-linejoin: miter; fill: #f97316; stroke: #f97316; stroke-linejoin: miter"/> <path d="M 0 -4 L -4 4 L 4 4 z " transform="translate(428.76 503.64)" style="stroke: #f97316; stroke-linejoin: miter; fill: #f97316; stroke: #f97316; stroke-linejoin: miter"/> <path d="M 0 -4 L -4 4 L 4 4 z " transform="translate(464.04 500.04)" style="stroke: #f97316; stroke-linejoin: miter; fill: #f97316; stroke: #f97316; stroke-linejoin: miter"/> <path d="M 0 -4 L -4 4 L 4 4 z " transform="translate(500.04 497.88)" style="stroke: #f97316; stroke-linejoin: miter; fill: #f97316; stroke: #f97316; stroke-linejoin: miter"/> <path d="M 0 -4 L -4 4 L 4 4 z " transform="translate(536.04 496.44)" style="stroke: #f97316; stroke-linejoin: miter; fill: #f97316; stroke: #f97316; stroke-linejoin: miter"/> </g> </g> <g id="line2d_258"> <path d="M 72.40 571.58 L 108.11 571.00 L 191.01 558.02 L 226.72 553.64 L 309.62 550.26 L 345.32 547.17 L 428.23 544.80 L 463.93 542.09 L 499.64 536.84 L 535.34 527.82 " clip-path="url(#pda3e8afbe7)" style="fill: none; stroke: #06b6d4; stroke-width: 2; stroke-linecap: square"/> <g clip-path="url(#pda3e8afbe7)"> <path d="M -0 4 L 4 -4 L -4 -4 z " transform="translate(73.08 572.04)" style="stroke: #06b6d4; stroke-linejoin: miter; fill: #06b6d4; stroke: #06b6d4; stroke-linejoin: miter"/> <path d="M -0 4 L 4 -4 L -4 -4 z " transform="translate(108.36 571.32)" style="stroke: #06b6d4; stroke-linejoin: miter; fill: #06b6d4; stroke: #06b6d4; stroke-linejoin: miter"/> <path d="M -0 4 L 4 -4 L -4 -4 z " transform="translate(191.16 558.36)" style="stroke: #06b6d4; stroke-linejoin: miter; fill: #06b6d4; stroke: #06b6d4; stroke-linejoin: miter"/> <path d="M -0 4 L 4 -4 L -4 -4 z " transform="translate(227.16 554.04)" style="stroke: #06b6d4; stroke-linejoin: miter; fill: #06b6d4; stroke: #06b6d4; stroke-linejoin: miter"/> <path d="M -0 4 L 4 -4 L -4 -4 z " transform="translate(309.96 550.44)" style="stroke: #06b6d4; stroke-linejoin: miter; fill: #06b6d4; stroke: #06b6d4; stroke-linejoin: miter"/> <path d="M -0 4 L 4 -4 L -4 -4 z " transform="translate(345.96 547.56)" style="stroke: #06b6d4; stroke-linejoin: miter; fill: #06b6d4; stroke: #06b6d4; stroke-linejoin: miter"/> <path d="M -0 4 L 4 -4 L -4 -4 z " transform="translate(428.76 545.40)" style="stroke: #06b6d4; stroke-linejoin: miter; fill: #06b6d4; stroke: #06b6d4; stroke-linejoin: miter"/> <path d="M -0 4 L 4 -4 L -4 -4 z " transform="translate(464.04 542.52)" style="stroke: #06b6d4; stroke-linejoin: miter; fill: #06b6d4; stroke: #06b6d4; stroke-linejoin: miter"/> <path d="M -0 4 L 4 -4 L -4 -4 z " transform="translate(500.04 537.48)" style="stroke: #06b6d4; stroke-linejoin: miter; fill: #06b6d4; stroke: #06b6d4; stroke-linejoin: miter"/> <path d="M -0 4 L 4 -4 L -4 -4 z " transform="translate(536.04 528.12)" style="stroke: #06b6d4; stroke-linejoin: miter; fill: #06b6d4; stroke: #06b6d4; stroke-linejoin: miter"/> </g> </g> <g id="line2d_259"> <path d="M 72.40 546.99 L 108.11 546.99 L 191.01 548.47 L 226.72 552.01 L 309.62 519.85 L 345.32 515.22 L 428.23 500.64 L 463.93 497.44 L 499.64 519.19 L 535.34 494.12 " clip-path="url(#pda3e8afbe7)" style="fill: none; stroke: #a855f7; stroke-width: 2; stroke-linecap: square"/> <g clip-path="url(#pda3e8afbe7)"> <path d="M -0 5.65 L 5.65 0 L 0 -5.65 L -5.65 -0 z " transform="translate(73.08 547.56)" style="stroke: #a855f7; stroke-linejoin: miter; fill: #a855f7; stroke: #a855f7; stroke-linejoin: miter"/> <path d="M -0 5.65 L 5.65 0 L 0 -5.65 L -5.65 -0 z " transform="translate(108.36 547.56)" style="stroke: #a855f7; stroke-linejoin: miter; fill: #a855f7; stroke: #a855f7; stroke-linejoin: miter"/> <path d="M -0 5.65 L 5.65 0 L 0 -5.65 L -5.65 -0 z " transform="translate(191.16 549.00)" style="stroke: #a855f7; stroke-linejoin: miter; fill: #a855f7; stroke: #a855f7; stroke-linejoin: miter"/> <path d="M -0 5.65 L 5.65 0 L 0 -5.65 L -5.65 -0 z " transform="translate(227.16 552.60)" style="stroke: #a855f7; stroke-linejoin: miter; fill: #a855f7; stroke: #a855f7; stroke-linejoin: miter"/> <path d="M -0 5.65 L 5.65 0 L 0 -5.65 L -5.65 -0 z " transform="translate(309.96 520.20)" style="stroke: #a855f7; stroke-linejoin: miter; fill: #a855f7; stroke: #a855f7; stroke-linejoin: miter"/> <path d="M -0 5.65 L 5.65 0 L 0 -5.65 L -5.65 -0 z " transform="translate(345.96 515.88)" style="stroke: #a855f7; stroke-linejoin: miter; fill: #a855f7; stroke: #a855f7; stroke-linejoin: miter"/> <path d="M -0 5.65 L 5.65 0 L 0 -5.65 L -5.65 -0 z " transform="translate(428.76 500.76)" style="stroke: #a855f7; stroke-linejoin: miter; fill: #a855f7; stroke: #a855f7; stroke-linejoin: miter"/> <path d="M -0 5.65 L 5.65 0 L 0 -5.65 L -5.65 -0 z " transform="translate(464.04 497.88)" style="stroke: #a855f7; stroke-linejoin: miter; fill: #a855f7; stroke: #a855f7; stroke-linejoin: miter"/> <path d="M -0 5.65 L 5.65 0 L 0 -5.65 L -5.65 -0 z " transform="translate(500.04 519.48)" style="stroke: #a855f7; stroke-linejoin: miter; fill: #a855f7; stroke: #a855f7; stroke-linejoin: miter"/> <path d="M -0 5.65 L 5.65 0 L 0 -5.65 L -5.65 -0 z " transform="translate(536.04 494.28)" style="stroke: #a855f7; stroke-linejoin: miter; fill: #a855f7; stroke: #a855f7; stroke-linejoin: miter"/> </g> </g> <g id="patch_15"> <path d="M 49.32 805.32 L 49.32 473.40" style="fill: none; stroke: #404040; stroke-width: 0.8; stroke-linejoin: miter; stroke-linecap: square"/> </g> <g id="patch_16"> <path d="M 559.08 805.32 L 559.08 473.40" style="fill: none; stroke: #404040; stroke-width: 0.8; stroke-linejoin: miter; stroke-linecap: square"/> </g> <g id="patch_17"> <path d="M 49.32 805.32 L 559.08 805.32" style="fill: none; stroke: #404040; stroke-width: 0.8; stroke-linejoin: miter; stroke-linecap: square"/> </g> <g id="patch_18"> <path d="M 49.32 473.40 L 559.08 473.40" style="fill: none; stroke: #404040; stroke-width: 0.8; stroke-linejoin: miter; stroke-linecap: square"/> </g> <g id="text_36"> <text style="font-size: 14px; font-family: 'DejaVu Sans', 'Liberation Sans', sans-serif; text-anchor: middle; fill: #f5f5f5" x="304.59" y="467.99" transform="rotate(-0 304.59 467.99)">OTLP Logs</text> </g> <g id="legend_3"> <g id="patch_19"> <path d="M 55.08 524.52 L 134.28 524.52 Q 136.44 524.52 136.44 523.08 L 136.44 479.16 Q 136.44 477.72 134.28 477.72 L 55.08 477.72 Q 53.64 477.72 53.64 479.16 L 53.64 523.08 Q 53.64 524.52 55.08 524.52 z " style="fill: #171717; opacity: 0.8; stroke: #404040; stroke-linejoin: miter"/> </g> <g id="LineCollection_21"> <path d="M 65.16 487.80 L 65.16 479.88" style="fill: none; stroke: #22c55e; stroke-width: 2"/> </g> <g id="line2d_260"> <g> <path d="M 4.68 0.36 L -3.96 0.36" transform="translate(64.80 487.44)" style="stroke: #22c55e; fill: #22c55e; stroke: #22c55e"/> </g> </g> <g id="line2d_261"> <g> <path d="M 4.68 0.36 L -3.96 0.36" transform="translate(64.80 479.52)" style="stroke: #22c55e; fill: #22c55e; stroke: #22c55e"/> </g> </g> <g id="line2d_262"> <path d="M 56.52 483.48 L 73.08 483.48" style="fill: none; stroke: #22c55e; stroke-width: 2; stroke-linecap: square"/> </g> <g id="line2d_263"> <g> <path d="M 0 4 C 1.06 4 2.07 3.57 2.82 2.82 C 3.57 2.07 4 1.06 4 0 C 4 -1.06 3.57 -2.07 2.82 -2.82 C 2.07 -3.57 1.06 -4 0 -4 C -1.06 -4 -2.07 -3.57 -2.82 -2.82 C -3.57 -2.07 -4 -1.06 -4 0 C -4 1.06 -3.57 2.07 -2.82 2.82 C -2.07 3.57 -1.06 4 0 4 z " transform="translate(65.16 483.48)" style="stroke: #22c55e; fill: #22c55e; stroke: #22c55e"/> </g> </g> <g id="text_37"> <text style="font-size: 8px; font-family: 'DejaVu Sans', 'Liberation Sans', sans-serif; text-anchor: start; fill: #d4d4d4" x="79.31" y="486.95" transform="rotate(-0 79.31 486.95)">edge</text> </g> <g id="LineCollection_22"> <path d="M 65.16 499.32 L 65.16 490.68" style="fill: none; stroke: #f97316; stroke-width: 2"/> </g> <g id="line2d_264"> <g> <path d="M 4.68 0.36 L -3.96 0.36" transform="translate(64.80 498.96)" style="stroke: #f97316; fill: #f97316; stroke: #f97316"/> </g> </g> <g id="line2d_265"> <g> <path d="M 4.68 0.36 L -3.96 0.36" transform="translate(64.80 490.32)" style="stroke: #f97316; fill: #f97316; stroke: #f97316"/> </g> </g> <g id="line2d_266"> <path d="M 56.52 495.00 L 73.08 495.00" style="fill: none; stroke: #f97316; stroke-width: 2; stroke-linecap: square"/> </g> <g id="line2d_267"> <g> <path d="M 0 -4 L -4 4 L 4 4 z " transform="translate(65.16 495.00)" style="stroke: #f97316; stroke-linejoin: miter; fill: #f97316; stroke: #f97316; stroke-linejoin: miter"/> </g> </g> <g id="text_38"> <text style="font-size: 8px; font-family: 'DejaVu Sans', 'Liberation Sans', sans-serif; text-anchor: start; fill: #d4d4d4" x="79.31" y="498.15" transform="rotate(-0 79.31 498.15)">otelcol</text> </g> <g id="LineCollection_23"> <path d="M 65.16 510.12 L 65.16 502.20" style="fill: none; stroke: #06b6d4; stroke-width: 2"/> </g> <g id="line2d_268"> <g> <path d="M 4.68 0.36 L -3.96 0.36" transform="translate(64.80 509.76)" style="stroke: #06b6d4; fill: #06b6d4; stroke: #06b6d4"/> </g> </g> <g id="line2d_269"> <g> <path d="M 4.68 0.36 L -3.96 0.36" transform="translate(64.80 501.84)" style="stroke: #06b6d4; fill: #06b6d4; stroke: #06b6d4"/> </g> </g> <g id="line2d_270"> <path d="M 56.52 506.52 L 73.08 506.52" style="fill: none; stroke: #06b6d4; stroke-width: 2; stroke-linecap: square"/> </g> <g id="line2d_271"> <g> <path d="M -0 4 L 4 -4 L -4 -4 z " transform="translate(65.16 506.52)" style="stroke: #06b6d4; stroke-linejoin: miter; fill: #06b6d4; stroke: #06b6d4; stroke-linejoin: miter"/> </g> </g> <g id="text_39"> <text style="font-size: 8px; font-family: 'DejaVu Sans', 'Liberation Sans', sans-serif; text-anchor: start; fill: #d4d4d4" x="79.31" y="509.35" transform="rotate(-0 79.31 509.35)">tero-collector</text> </g> <g id="LineCollection_24"> <path d="M 65.16 521.64 L 65.16 513.72" style="fill: none; stroke: #a855f7; stroke-width: 2"/> </g> <g id="line2d_272"> <g> <path d="M 4.68 0.36 L -3.96 0.36" transform="translate(64.80 521.28)" style="stroke: #a855f7; fill: #a855f7; stroke: #a855f7"/> </g> </g> <g id="line2d_273"> <g> <path d="M 4.68 0.36 L -3.96 0.36" transform="translate(64.80 513.36)" style="stroke: #a855f7; fill: #a855f7; stroke: #a855f7"/> </g> </g> <g id="line2d_274"> <path d="M 56.52 517.32 L 73.08 517.32" style="fill: none; stroke: #a855f7; stroke-width: 2; stroke-linecap: square"/> </g> <g id="line2d_275"> <g> <path d="M -0 5.65 L 5.65 0 L 0 -5.65 L -5.65 -0 z " transform="translate(65.16 517.32)" style="stroke: #a855f7; stroke-linejoin: miter; fill: #a855f7; stroke: #a855f7; stroke-linejoin: miter"/> </g> </g> <g id="text_40"> <text style="font-size: 8px; font-family: 'DejaVu Sans', 'Liberation Sans', sans-serif; text-anchor: start; fill: #d4d4d4" x="79.31" y="520.55" transform="rotate(-0 79.31 520.55)">vector</text> </g> </g> </g> <g id="axes_4"> <g id="patch_20"> <path d="M 628.38 805.19 L 1137.56 805.19 L 1137.56 473.27 L 628.38 473.27 z " style="fill: #171717"/> </g> <g id="matplotlib.axis_7"> <g id="xtick_118"> <g id="line2d_276"> <path d="M 687.24 805.32 L 687.24 473.40" clip-path="url(#pbf70993c2e)" style="fill: none; stroke: #262626; stroke-width: 0.8; stroke-linecap: square"/> </g> <g id="line2d_277"> <g> <path d="M 0.36 0.36 L 0.36 3.96" transform="translate(686.88 804.96)" style="stroke: #d4d4d4; stroke-width: 0.8; fill: #d4d4d4; stroke: #d4d4d4; stroke-width: 0.8"/> </g> </g> <g id="text_41"> <g style="fill: #d4d4d4" transform="translate(678.10 823.42)"> <text> <tspan x="0.60" y="-0.60" style="font-size: 10px; font-family: 'DejaVu Sans', 'Liberation Sans', sans-serif; fill: #d4d4d4">10</tspan> <tspan x="13.42" y="-4.43" style="font-size: 7px; font-family: 'DejaVu Sans', 'Liberation Sans', sans-serif; fill: #d4d4d4">0</tspan> </text> </g> </g> </g> <g id="xtick_119"> <g id="line2d_278"> <path d="M 806.04 805.32 L 806.04 473.40" clip-path="url(#pbf70993c2e)" style="fill: none; stroke: #262626; stroke-width: 0.8; stroke-linecap: square"/> </g> <g id="line2d_279"> <g> <path d="M 0.36 0.36 L 0.36 3.96" transform="translate(805.68 804.96)" style="stroke: #d4d4d4; stroke-width: 0.8; fill: #d4d4d4; stroke: #d4d4d4; stroke-width: 0.8"/> </g> </g> <g id="text_42"> <g style="fill: #d4d4d4" transform="translate(796.80 823.42)"> <text> <tspan x="0.60" y="-0.60" style="font-size: 10px; font-family: 'DejaVu Sans', 'Liberation Sans', sans-serif; fill: #d4d4d4">10</tspan> <tspan x="13.42" y="-4.43" style="font-size: 7px; font-family: 'DejaVu Sans', 'Liberation Sans', sans-serif; fill: #d4d4d4">1</tspan> </text> </g> </g> </g> <g id="xtick_120"> <g id="line2d_280"> <path d="M 924.84 805.32 L 924.84 473.40" clip-path="url(#pbf70993c2e)" style="fill: none; stroke: #262626; stroke-width: 0.8; stroke-linecap: square"/> </g> <g id="line2d_281"> <g> <path d="M 0.36 0.36 L 0.36 3.96" transform="translate(924.48 804.96)" style="stroke: #d4d4d4; stroke-width: 0.8; fill: #d4d4d4; stroke: #d4d4d4; stroke-width: 0.8"/> </g> </g> <g id="text_43"> <g style="fill: #d4d4d4" transform="translate(915.42 823.42)"> <text> <tspan x="0.60" y="-0.60" style="font-size: 10px; font-family: 'DejaVu Sans', 'Liberation Sans', sans-serif; fill: #d4d4d4">10</tspan> <tspan x="13.42" y="-4.43" style="font-size: 7px; font-family: 'DejaVu Sans', 'Liberation Sans', sans-serif; fill: #d4d4d4">2</tspan> </text> </g> </g> </g> <g id="xtick_121"> <g id="line2d_282"> <path d="M 1043.64 805.32 L 1043.64 473.40" clip-path="url(#pbf70993c2e)" style="fill: none; stroke: #262626; stroke-width: 0.8; stroke-linecap: square"/> </g> <g id="line2d_283"> <g> <path d="M 0.36 0.36 L 0.36 3.96" transform="translate(1043.28 804.96)" style="stroke: #d4d4d4; stroke-width: 0.8; fill: #d4d4d4; stroke: #d4d4d4; stroke-width: 0.8"/> </g> </g> <g id="text_44"> <g style="fill: #d4d4d4" transform="translate(1033.97 823.42)"> <text> <tspan x="0.60" y="-0.60" style="font-size: 10px; font-family: 'DejaVu Sans', 'Liberation Sans', sans-serif; fill: #d4d4d4">10</tspan> <tspan x="13.42" y="-4.43" style="font-size: 7px; font-family: 'DejaVu Sans', 'Liberation Sans', sans-serif; fill: #d4d4d4">3</tspan> </text> </g> </g> </g> <g id="xtick_122"> <g id="line2d_284"> <g> <path d="M 0.36 0.36 L 0.36 2.52" transform="translate(640.08 804.96)" style="stroke: #d4d4d4; stroke-width: 0.6; fill: #d4d4d4; stroke: #d4d4d4; stroke-width: 0.6"/> </g> </g> </g> <g id="xtick_123"> <g id="line2d_285"> <g> <path d="M 0.36 0.36 L 0.36 2.52" transform="translate(651.60 804.96)" style="stroke: #d4d4d4; stroke-width: 0.6; fill: #d4d4d4; stroke: #d4d4d4; stroke-width: 0.6"/> </g> </g> </g> <g id="xtick_124"> <g id="line2d_286"> <g> <path d="M 0.36 0.36 L 0.36 2.52" transform="translate(660.96 804.96)" style="stroke: #d4d4d4; stroke-width: 0.6; fill: #d4d4d4; stroke: #d4d4d4; stroke-width: 0.6"/> </g> </g> </g> <g id="xtick_125"> <g id="line2d_287"> <g> <path d="M 0.36 0.36 L 0.36 2.52" transform="translate(668.88 804.96)" style="stroke: #d4d4d4; stroke-width: 0.6; fill: #d4d4d4; stroke: #d4d4d4; stroke-width: 0.6"/> </g> </g> </g> <g id="xtick_126"> <g id="line2d_288"> <g> <path d="M 0.36 0.36 L 0.36 2.52" transform="translate(675.36 804.96)" style="stroke: #d4d4d4; stroke-width: 0.6; fill: #d4d4d4; stroke: #d4d4d4; stroke-width: 0.6"/> </g> </g> </g> <g id="xtick_127"> <g id="line2d_289"> <g> <path d="M 0.36 0.36 L 0.36 2.52" transform="translate(681.84 804.96)" style="stroke: #d4d4d4; stroke-width: 0.6; fill: #d4d4d4; stroke: #d4d4d4; stroke-width: 0.6"/> </g> </g> </g> <g id="xtick_128"> <g id="line2d_290"> <g> <path d="M 0.36 0.36 L 0.36 2.52" transform="translate(722.88 804.96)" style="stroke: #d4d4d4; stroke-width: 0.6; fill: #d4d4d4; stroke: #d4d4d4; stroke-width: 0.6"/> </g> </g> </g> <g id="xtick_129"> <g id="line2d_291"> <g> <path d="M 0.36 0.36 L 0.36 2.52" transform="translate(743.76 804.96)" style="stroke: #d4d4d4; stroke-width: 0.6; fill: #d4d4d4; stroke: #d4d4d4; stroke-width: 0.6"/> </g> </g> </g> <g id="xtick_130"> <g id="line2d_292"> <g> <path d="M 0.36 0.36 L 0.36 2.52" transform="translate(758.88 804.96)" style="stroke: #d4d4d4; stroke-width: 0.6; fill: #d4d4d4; stroke: #d4d4d4; stroke-width: 0.6"/> </g> </g> </g> <g id="xtick_131"> <g id="line2d_293"> <g> <path d="M 0.36 0.36 L 0.36 2.52" transform="translate(770.40 804.96)" style="stroke: #d4d4d4; stroke-width: 0.6; fill: #d4d4d4; stroke: #d4d4d4; stroke-width: 0.6"/> </g> </g> </g> <g id="xtick_132"> <g id="line2d_294"> <g> <path d="M 0.36 0.36 L 0.36 2.52" transform="translate(779.76 804.96)" style="stroke: #d4d4d4; stroke-width: 0.6; fill: #d4d4d4; stroke: #d4d4d4; stroke-width: 0.6"/> </g> </g> </g> <g id="xtick_133"> <g id="line2d_295"> <g> <path d="M 0.36 0.36 L 0.36 2.52" transform="translate(787.68 804.96)" style="stroke: #d4d4d4; stroke-width: 0.6; fill: #d4d4d4; stroke: #d4d4d4; stroke-width: 0.6"/> </g> </g> </g> <g id="xtick_134"> <g id="line2d_296"> <g> <path d="M 0.36 0.36 L 0.36 2.52" transform="translate(794.16 804.96)" style="stroke: #d4d4d4; stroke-width: 0.6; fill: #d4d4d4; stroke: #d4d4d4; stroke-width: 0.6"/> </g> </g> </g> <g id="xtick_135"> <g id="line2d_297"> <g> <path d="M 0.36 0.36 L 0.36 2.52" transform="translate(800.64 804.96)" style="stroke: #d4d4d4; stroke-width: 0.6; fill: #d4d4d4; stroke: #d4d4d4; stroke-width: 0.6"/> </g> </g> </g> <g id="xtick_136"> <g id="line2d_298"> <g> <path d="M 0.36 0.36 L 0.36 2.52" transform="translate(841.68 804.96)" style="stroke: #d4d4d4; stroke-width: 0.6; fill: #d4d4d4; stroke: #d4d4d4; stroke-width: 0.6"/> </g> </g> </g> <g id="xtick_137"> <g id="line2d_299"> <g> <path d="M 0.36 0.36 L 0.36 2.52" transform="translate(862.56 804.96)" style="stroke: #d4d4d4; stroke-width: 0.6; fill: #d4d4d4; stroke: #d4d4d4; stroke-width: 0.6"/> </g> </g> </g> <g id="xtick_138"> <g id="line2d_300"> <g> <path d="M 0.36 0.36 L 0.36 2.52" transform="translate(876.96 804.96)" style="stroke: #d4d4d4; stroke-width: 0.6; fill: #d4d4d4; stroke: #d4d4d4; stroke-width: 0.6"/> </g> </g> </g> <g id="xtick_139"> <g id="line2d_301"> <g> <path d="M 0.36 0.36 L 0.36 2.52" transform="translate(888.48 804.96)" style="stroke: #d4d4d4; stroke-width: 0.6; fill: #d4d4d4; stroke: #d4d4d4; stroke-width: 0.6"/> </g> </g> </g> <g id="xtick_140"> <g id="line2d_302"> <g> <path d="M 0.36 0.36 L 0.36 2.52" transform="translate(897.84 804.96)" style="stroke: #d4d4d4; stroke-width: 0.6; fill: #d4d4d4; stroke: #d4d4d4; stroke-width: 0.6"/> </g> </g> </g> <g id="xtick_141"> <g id="line2d_303"> <g> <path d="M 0.36 0.36 L 0.36 2.52" transform="translate(905.76 804.96)" style="stroke: #d4d4d4; stroke-width: 0.6; fill: #d4d4d4; stroke: #d4d4d4; stroke-width: 0.6"/> </g> </g> </g> <g id="xtick_142"> <g id="line2d_304"> <g> <path d="M 0.36 0.36 L 0.36 2.52" transform="translate(912.96 804.96)" style="stroke: #d4d4d4; stroke-width: 0.6; fill: #d4d4d4; stroke: #d4d4d4; stroke-width: 0.6"/> </g> </g> </g> <g id="xtick_143"> <g id="line2d_305"> <g> <path d="M 0.36 0.36 L 0.36 2.52" transform="translate(918.72 804.96)" style="stroke: #d4d4d4; stroke-width: 0.6; fill: #d4d4d4; stroke: #d4d4d4; stroke-width: 0.6"/> </g> </g> </g> <g id="xtick_144"> <g id="line2d_306"> <g> <path d="M 0.36 0.36 L 0.36 2.52" transform="translate(960.48 804.96)" style="stroke: #d4d4d4; stroke-width: 0.6; fill: #d4d4d4; stroke: #d4d4d4; stroke-width: 0.6"/> </g> </g> </g> <g id="xtick_145"> <g id="line2d_307"> <g> <path d="M 0.36 0.36 L 0.36 2.52" transform="translate(981.36 804.96)" style="stroke: #d4d4d4; stroke-width: 0.6; fill: #d4d4d4; stroke: #d4d4d4; stroke-width: 0.6"/> </g> </g> </g> <g id="xtick_146"> <g id="line2d_308"> <g> <path d="M 0.36 0.36 L 0.36 2.52" transform="translate(995.76 804.96)" style="stroke: #d4d4d4; stroke-width: 0.6; fill: #d4d4d4; stroke: #d4d4d4; stroke-width: 0.6"/> </g> </g> </g> <g id="xtick_147"> <g id="line2d_309"> <g> <path d="M 0.36 0.36 L 0.36 2.52" transform="translate(1007.28 804.96)" style="stroke: #d4d4d4; stroke-width: 0.6; fill: #d4d4d4; stroke: #d4d4d4; stroke-width: 0.6"/> </g> </g> </g> <g id="xtick_148"> <g id="line2d_310"> <g> <path d="M 0.36 0.36 L 0.36 2.52" transform="translate(1016.64 804.96)" style="stroke: #d4d4d4; stroke-width: 0.6; fill: #d4d4d4; stroke: #d4d4d4; stroke-width: 0.6"/> </g> </g> </g> <g id="xtick_149"> <g id="line2d_311"> <g> <path d="M 0.36 0.36 L 0.36 2.52" transform="translate(1024.56 804.96)" style="stroke: #d4d4d4; stroke-width: 0.6; fill: #d4d4d4; stroke: #d4d4d4; stroke-width: 0.6"/> </g> </g> </g> <g id="xtick_150"> <g id="line2d_312"> <g> <path d="M 0.36 0.36 L 0.36 2.52" transform="translate(1031.76 804.96)" style="stroke: #d4d4d4; stroke-width: 0.6; fill: #d4d4d4; stroke: #d4d4d4; stroke-width: 0.6"/> </g> </g> </g> <g id="xtick_151"> <g id="line2d_313"> <g> <path d="M 0.36 0.36 L 0.36 2.52" transform="translate(1037.52 804.96)" style="stroke: #d4d4d4; stroke-width: 0.6; fill: #d4d4d4; stroke: #d4d4d4; stroke-width: 0.6"/> </g> </g> </g> <g id="xtick_152"> <g id="line2d_314"> <g> <path d="M 0.36 0.36 L 0.36 2.52" transform="translate(1078.56 804.96)" style="stroke: #d4d4d4; stroke-width: 0.6; fill: #d4d4d4; stroke: #d4d4d4; stroke-width: 0.6"/> </g> </g> </g> <g id="xtick_153"> <g id="line2d_315"> <g> <path d="M 0.36 0.36 L 0.36 2.52" transform="translate(1099.44 804.96)" style="stroke: #d4d4d4; stroke-width: 0.6; fill: #d4d4d4; stroke: #d4d4d4; stroke-width: 0.6"/> </g> </g> </g> <g id="xtick_154"> <g id="line2d_316"> <g> <path d="M 0.36 0.36 L 0.36 2.52" transform="translate(1114.56 804.96)" style="stroke: #d4d4d4; stroke-width: 0.6; fill: #d4d4d4; stroke: #d4d4d4; stroke-width: 0.6"/> </g> </g> </g> <g id="xtick_155"> <g id="line2d_317"> <g> <path d="M 0.36 0.36 L 0.36 2.52" transform="translate(1126.08 804.96)" style="stroke: #d4d4d4; stroke-width: 0.6; fill: #d4d4d4; stroke: #d4d4d4; stroke-width: 0.6"/> </g> </g> </g> <g id="xtick_156"> <g id="line2d_318"> <g> <path d="M 0.36 0.36 L 0.36 2.52" transform="translate(1135.44 804.96)" style="stroke: #d4d4d4; stroke-width: 0.6; fill: #d4d4d4; stroke: #d4d4d4; stroke-width: 0.6"/> </g> </g> </g> <g id="text_45"> <text style="font-size: 12px; font-family: 'DejaVu Sans', 'Liberation Sans', sans-serif; text-anchor: middle; fill: #d4d4d4" x="882.97" y="839.66" transform="rotate(-0 882.97 839.66) translate(883.17 840.11) scale(1 1.070) translate(-882.97 -839.66)">Policy Count</text> </g> </g> <g id="matplotlib.axis_8"> <g id="ytick_56"> <g id="line2d_319"> <path d="M 628.92 566.28 L 1137.96 566.28" clip-path="url(#pbf70993c2e)" style="fill: none; stroke: #262626; stroke-width: 0.8; stroke-linecap: square"/> </g> <g id="line2d_320"> <g> <path d="M 0.36 0.36 L -3.24 0.36" transform="translate(628.56 565.92)" style="stroke: #d4d4d4; stroke-width: 0.8; fill: #d4d4d4; stroke: #d4d4d4; stroke-width: 0.8"/> </g> </g> <g id="text_46"> <g style="fill: #d4d4d4" transform="translate(603.25 571.53)"> <text> <tspan x="0.60" y="-0.60" style="font-size: 10px; font-family: 'DejaVu Sans', 'Liberation Sans', sans-serif; fill: #d4d4d4">10</tspan> <tspan x="13.42" y="-4.43" style="font-size: 7px; font-family: 'DejaVu Sans', 'Liberation Sans', sans-serif; fill: #d4d4d4">3</tspan> </text> </g> </g> </g> <g id="ytick_57"> <g id="line2d_321"> <g> <path d="M 0.36 0.36 L -1.80 0.36" transform="translate(628.56 784.80)" style="stroke: #d4d4d4; stroke-width: 0.6; fill: #d4d4d4; stroke: #d4d4d4; stroke-width: 0.6"/> </g> </g> <g id="text_47"> <g style="fill: #d4d4d4" transform="translate(586.35 790.64)"> <text> <tspan x="0.60" y="-0.60" style="font-size: 10px; font-family: 'DejaVu Sans', 'Liberation Sans', sans-serif; fill: #d4d4d4">3</tspan> <tspan x="8.91" y="-0.60" style="font-size: 10px; font-family: 'DejaVu Sans', 'Liberation Sans', sans-serif; fill: #d4d4d4">×</tspan> <tspan x="19.23" y="-0.60" style="font-size: 10px; font-family: 'DejaVu Sans', 'Liberation Sans', sans-serif; fill: #d4d4d4">10</tspan> <tspan x="32.05" y="-4.43" style="font-size: 7px; font-family: 'DejaVu Sans', 'Liberation Sans', sans-serif; fill: #d4d4d4">2</tspan> </text> </g> </g> </g> <g id="ytick_58"> <g id="line2d_322"> <g> <path d="M 0.36 0.36 L -1.80 0.36" transform="translate(628.56 732.96)" style="stroke: #d4d4d4; stroke-width: 0.6; fill: #d4d4d4; stroke: #d4d4d4; stroke-width: 0.6"/> </g> </g> <g id="text_48"> <g style="fill: #d4d4d4" transform="translate(586.35 738.28)"> <text> <tspan x="0.60" y="-0.60" style="font-size: 10px; font-family: 'DejaVu Sans', 'Liberation Sans', sans-serif; fill: #d4d4d4">4</tspan> <tspan x="8.91" y="-0.60" style="font-size: 10px; font-family: 'DejaVu Sans', 'Liberation Sans', sans-serif; fill: #d4d4d4">×</tspan> <tspan x="19.23" y="-0.60" style="font-size: 10px; font-family: 'DejaVu Sans', 'Liberation Sans', sans-serif; fill: #d4d4d4">10</tspan> <tspan x="32.05" y="-4.43" style="font-size: 7px; font-family: 'DejaVu Sans', 'Liberation Sans', sans-serif; fill: #d4d4d4">2</tspan> </text> </g> </g> </g> <g id="ytick_59"> <g id="line2d_323"> <g> <path d="M 0.36 0.36 L -1.80 0.36" transform="translate(628.56 691.92)" style="stroke: #d4d4d4; stroke-width: 0.6; fill: #d4d4d4; stroke: #d4d4d4; stroke-width: 0.6"/> </g> </g> </g> <g id="ytick_60"> <g id="line2d_324"> <g> <path d="M 0.36 0.36 L -1.80 0.36" transform="translate(628.56 658.80)" style="stroke: #d4d4d4; stroke-width: 0.6; fill: #d4d4d4; stroke: #d4d4d4; stroke-width: 0.6"/> </g> </g> <g id="text_49"> <g style="fill: #d4d4d4" transform="translate(586.35 664.49)"> <text> <tspan x="0.60" y="-0.60" style="font-size: 10px; font-family: 'DejaVu Sans', 'Liberation Sans', sans-serif; fill: #d4d4d4">6</tspan> <tspan x="8.91" y="-0.60" style="font-size: 10px; font-family: 'DejaVu Sans', 'Liberation Sans', sans-serif; fill: #d4d4d4">×</tspan> <tspan x="19.23" y="-0.60" style="font-size: 10px; font-family: 'DejaVu Sans', 'Liberation Sans', sans-serif; fill: #d4d4d4">10</tspan> <tspan x="32.05" y="-4.43" style="font-size: 7px; font-family: 'DejaVu Sans', 'Liberation Sans', sans-serif; fill: #d4d4d4">2</tspan> </text> </g> </g> </g> <g id="ytick_61"> <g id="line2d_325"> <g> <path d="M 0.36 0.36 L -1.80 0.36" transform="translate(628.56 630.72)" style="stroke: #d4d4d4; stroke-width: 0.6; fill: #d4d4d4; stroke: #d4d4d4; stroke-width: 0.6"/> </g> </g> </g> <g id="ytick_62"> <g id="line2d_326"> <g> <path d="M 0.36 0.36 L -1.80 0.36" transform="translate(628.56 606.24)" style="stroke: #d4d4d4; stroke-width: 0.6; fill: #d4d4d4; stroke: #d4d4d4; stroke-width: 0.6"/> </g> </g> </g> <g id="ytick_63"> <g id="line2d_327"> <g> <path d="M 0.36 0.36 L -1.80 0.36" transform="translate(628.56 585.36)" style="stroke: #d4d4d4; stroke-width: 0.6; fill: #d4d4d4; stroke: #d4d4d4; stroke-width: 0.6"/> </g> </g> </g> <g id="text_50"> <text style="font-size: 12px; font-family: 'DejaVu Sans', 'Liberation Sans', sans-serif; text-anchor: middle; fill: #d4d4d4" x="579.47" y="639.23" transform="rotate(-90 579.47 639.23) translate(578.21 638.23) scale(1 1.070) translate(-579.47 -639.23)">CPU Usage (%)</text> </g> </g> <g id="FillBetweenPolyCollection_13"> <g clip-path="url(#pbf70993c2e)"> <path d="M 651.50 -82.13 L 651.50 -78.79 L 687.20 -60.29 L 770.11 -86.27 L 805.81 -79.85 L 888.72 -86.01 L 924.42 -84.76 L 1007.32 -87.30 L 1043.03 -86.92 L 1078.73 -88.53 L 1114.44 -89.11 L 1114.44 -93.31 L 1114.44 -93.31 L 1078.73 -92.74 L 1043.03 -90.12 L 1007.32 -91.54 L 924.42 -89.06 L 888.72 -89.22 L 805.81 -91.75 L 770.11 -87.35 L 687.20 -92.17 L 651.50 -82.13 z " transform="translate(0.00 849.60)" style="stroke: #22c55e; stroke-opacity: 0.2; fill: #22c55e; fill-opacity: 0.2; stroke: #22c55e; stroke-opacity: 0.2"/> </g> </g> <g id="FillBetweenPolyCollection_14"> <g clip-path="url(#pbf70993c2e)"> <path d="M 651.50 -257.40 L 651.50 -250.97 L 687.20 -251.47 L 770.11 -262.18 L 805.81 -268.93 L 888.72 -300.68 L 924.42 -321.23 L 1007.32 -343.75 L 1043.03 -350.93 L 1078.73 -352.12 L 1114.44 -355.84 L 1114.44 -357.79 L 1114.44 -357.79 L 1078.73 -354.12 L 1043.03 -352.94 L 1007.32 -346.35 L 924.42 -324.76 L 888.72 -306.57 L 805.81 -275.15 L 770.11 -267.84 L 687.20 -257.88 L 651.50 -257.40 z " transform="translate(0.00 849.60)" style="stroke: #f97316; stroke-opacity: 0.2; fill: #f97316; fill-opacity: 0.2; stroke: #f97316; stroke-opacity: 0.2"/> </g> </g> <g id="FillBetweenPolyCollection_15"> <g clip-path="url(#pbf70993c2e)"> <path d="M 651.50 -274.39 L 651.50 -270.53 L 687.20 -269.94 L 770.11 -283.71 L 805.81 -280.96 L 888.72 -281.43 L 924.42 -286.00 L 1007.32 -290.03 L 1043.03 -295.27 L 1078.73 -304.25 L 1114.44 -316.22 L 1114.44 -318.64 L 1114.44 -318.64 L 1078.73 -306.82 L 1043.03 -297.97 L 1007.32 -293.50 L 924.42 -289.55 L 888.72 -290.05 L 805.81 -289.25 L 770.11 -289.43 L 687.20 -274.59 L 651.50 -274.39 z " transform="translate(0.00 849.60)" style="stroke: #06b6d4; stroke-opacity: 0.2; fill: #06b6d4; fill-opacity: 0.2; stroke: #06b6d4; stroke-opacity: 0.2"/> </g> </g> <g id="FillBetweenPolyCollection_16"> <g clip-path="url(#pbf70993c2e)"> <path d="M 651.50 -299.02 L 651.50 -295.63 L 687.20 -294.95 L 770.11 -299.85 L 805.81 -302.47 L 888.72 -329.21 L 924.42 -341.03 L 1007.32 -352.00 L 1043.03 -356.70 L 1078.73 -359.12 L 1114.44 -359.84 L 1114.44 -361.75 L 1114.44 -361.75 L 1078.73 -361.04 L 1043.03 -358.64 L 1007.32 -353.99 L 924.42 -343.67 L 888.72 -334.80 L 805.81 -309.56 L 770.11 -303.81 L 687.20 -298.35 L 651.50 -299.02 z " transform="translate(0.00 849.60)" style="stroke: #a855f7; stroke-opacity: 0.2; fill: #a855f7; fill-opacity: 0.2; stroke: #a855f7; stroke-opacity: 0.2"/> </g> </g> <g id="LineCollection_25"> <path d="M 651.96 771.48 L 651.96 767.88" clip-path="url(#pbf70993c2e)" style="fill: none; stroke: #22c55e; stroke-width: 2"/> <path d="M 687.24 789.48 L 687.24 757.80" clip-path="url(#pbf70993c2e)" style="fill: none; stroke: #22c55e; stroke-width: 2"/> <path d="M 770.76 763.56 L 770.76 762.84" clip-path="url(#pbf70993c2e)" style="fill: none; stroke: #22c55e; stroke-width: 2"/> <path d="M 806.04 770.04 L 806.04 758.52" clip-path="url(#pbf70993c2e)" style="fill: none; stroke: #22c55e; stroke-width: 2"/> <path d="M 888.84 764.28 L 888.84 760.68" clip-path="url(#pbf70993c2e)" style="fill: none; stroke: #22c55e; stroke-width: 2"/> <path d="M 924.84 765.00 L 924.84 760.68" clip-path="url(#pbf70993c2e)" style="fill: none; stroke: #22c55e; stroke-width: 2"/> <path d="M 1007.64 762.84 L 1007.64 758.52" clip-path="url(#pbf70993c2e)" style="fill: none; stroke: #22c55e; stroke-width: 2"/> <path d="M 1043.64 762.84 L 1043.64 759.96" clip-path="url(#pbf70993c2e)" style="fill: none; stroke: #22c55e; stroke-width: 2"/> <path d="M 1078.92 761.40 L 1078.92 757.08" clip-path="url(#pbf70993c2e)" style="fill: none; stroke: #22c55e; stroke-width: 2"/> <path d="M 1114.92 760.68 L 1114.92 756.36" clip-path="url(#pbf70993c2e)" style="fill: none; stroke: #22c55e; stroke-width: 2"/> </g> <g id="line2d_328"> <g clip-path="url(#pbf70993c2e)"> <path d="M 4.68 0.36 L -3.96 0.36" transform="translate(651.60 771.12)" style="stroke: #22c55e; fill: #22c55e; stroke: #22c55e"/> <path d="M 4.68 0.36 L -3.96 0.36" transform="translate(686.88 789.12)" style="stroke: #22c55e; fill: #22c55e; stroke: #22c55e"/> <path d="M 4.68 0.36 L -3.96 0.36" transform="translate(770.40 763.20)" style="stroke: #22c55e; fill: #22c55e; stroke: #22c55e"/> <path d="M 4.68 0.36 L -3.96 0.36" transform="translate(805.68 769.68)" style="stroke: #22c55e; fill: #22c55e; stroke: #22c55e"/> <path d="M 4.68 0.36 L -3.96 0.36" transform="translate(888.48 763.92)" style="stroke: #22c55e; fill: #22c55e; stroke: #22c55e"/> <path d="M 4.68 0.36 L -3.96 0.36" transform="translate(924.48 764.64)" style="stroke: #22c55e; fill: #22c55e; stroke: #22c55e"/> <path d="M 4.68 0.36 L -3.96 0.36" transform="translate(1007.28 762.48)" style="stroke: #22c55e; fill: #22c55e; stroke: #22c55e"/> <path d="M 4.68 0.36 L -3.96 0.36" transform="translate(1043.28 762.48)" style="stroke: #22c55e; fill: #22c55e; stroke: #22c55e"/> <path d="M 4.68 0.36 L -3.96 0.36" transform="translate(1078.56 761.04)" style="stroke: #22c55e; fill: #22c55e; stroke: #22c55e"/> <path d="M 4.68 0.36 L -3.96 0.36" transform="translate(1114.56 760.32)" style="stroke: #22c55e; fill: #22c55e; stroke: #22c55e"/> </g> </g> <g id="line2d_329"> <g clip-path="url(#pbf70993c2e)"> <path d="M 4.68 0.36 L -3.96 0.36" transform="translate(651.60 767.52)" style="stroke: #22c55e; fill: #22c55e; stroke: #22c55e"/> <path d="M 4.68 0.36 L -3.96 0.36" transform="translate(686.88 757.44)" style="stroke: #22c55e; fill: #22c55e; stroke: #22c55e"/> <path d="M 4.68 0.36 L -3.96 0.36" transform="translate(770.40 762.48)" style="stroke: #22c55e; fill: #22c55e; stroke: #22c55e"/> <path d="M 4.68 0.36 L -3.96 0.36" transform="translate(805.68 758.16)" style="stroke: #22c55e; fill: #22c55e; stroke: #22c55e"/> <path d="M 4.68 0.36 L -3.96 0.36" transform="translate(888.48 760.32)" style="stroke: #22c55e; fill: #22c55e; stroke: #22c55e"/> <path d="M 4.68 0.36 L -3.96 0.36" transform="translate(924.48 760.32)" style="stroke: #22c55e; fill: #22c55e; stroke: #22c55e"/> <path d="M 4.68 0.36 L -3.96 0.36" transform="translate(1007.28 758.16)" style="stroke: #22c55e; fill: #22c55e; stroke: #22c55e"/> <path d="M 4.68 0.36 L -3.96 0.36" transform="translate(1043.28 759.60)" style="stroke: #22c55e; fill: #22c55e; stroke: #22c55e"/> <path d="M 4.68 0.36 L -3.96 0.36" transform="translate(1078.56 756.72)" style="stroke: #22c55e; fill: #22c55e; stroke: #22c55e"/> <path d="M 4.68 0.36 L -3.96 0.36" transform="translate(1114.56 756.00)" style="stroke: #22c55e; fill: #22c55e; stroke: #22c55e"/> </g> </g> <g id="LineCollection_26"> <path d="M 651.96 598.68 L 651.96 592.20" clip-path="url(#pbf70993c2e)" style="fill: none; stroke: #f97316; stroke-width: 2"/> <path d="M 687.24 598.68 L 687.24 592.20" clip-path="url(#pbf70993c2e)" style="fill: none; stroke: #f97316; stroke-width: 2"/> <path d="M 770.76 587.88 L 770.76 582.12" clip-path="url(#pbf70993c2e)" style="fill: none; stroke: #f97316; stroke-width: 2"/> <path d="M 806.04 580.68 L 806.04 574.92" clip-path="url(#pbf70993c2e)" style="fill: none; stroke: #f97316; stroke-width: 2"/> <path d="M 888.84 549.00 L 888.84 543.24" clip-path="url(#pbf70993c2e)" style="fill: none; stroke: #f97316; stroke-width: 2"/> <path d="M 924.84 528.84 L 924.84 525.24" clip-path="url(#pbf70993c2e)" style="fill: none; stroke: #f97316; stroke-width: 2"/> <path d="M 1007.64 506.52 L 1007.64 503.64" clip-path="url(#pbf70993c2e)" style="fill: none; stroke: #f97316; stroke-width: 2"/> <path d="M 1043.64 499.32 L 1043.64 497.16" clip-path="url(#pbf70993c2e)" style="fill: none; stroke: #f97316; stroke-width: 2"/> <path d="M 1078.92 497.88 L 1078.92 495.72" clip-path="url(#pbf70993c2e)" style="fill: none; stroke: #f97316; stroke-width: 2"/> <path d="M 1114.92 494.28 L 1114.92 492.12" clip-path="url(#pbf70993c2e)" style="fill: none; stroke: #f97316; stroke-width: 2"/> </g> <g id="line2d_330"> <g clip-path="url(#pbf70993c2e)"> <path d="M 4.68 0.36 L -3.96 0.36" transform="translate(651.60 598.32)" style="stroke: #f97316; fill: #f97316; stroke: #f97316"/> <path d="M 4.68 0.36 L -3.96 0.36" transform="translate(686.88 598.32)" style="stroke: #f97316; fill: #f97316; stroke: #f97316"/> <path d="M 4.68 0.36 L -3.96 0.36" transform="translate(770.40 587.52)" style="stroke: #f97316; fill: #f97316; stroke: #f97316"/> <path d="M 4.68 0.36 L -3.96 0.36" transform="translate(805.68 580.32)" style="stroke: #f97316; fill: #f97316; stroke: #f97316"/> <path d="M 4.68 0.36 L -3.96 0.36" transform="translate(888.48 548.64)" style="stroke: #f97316; fill: #f97316; stroke: #f97316"/> <path d="M 4.68 0.36 L -3.96 0.36" transform="translate(924.48 528.48)" style="stroke: #f97316; fill: #f97316; stroke: #f97316"/> <path d="M 4.68 0.36 L -3.96 0.36" transform="translate(1007.28 506.16)" style="stroke: #f97316; fill: #f97316; stroke: #f97316"/> <path d="M 4.68 0.36 L -3.96 0.36" transform="translate(1043.28 498.96)" style="stroke: #f97316; fill: #f97316; stroke: #f97316"/> <path d="M 4.68 0.36 L -3.96 0.36" transform="translate(1078.56 497.52)" style="stroke: #f97316; fill: #f97316; stroke: #f97316"/> <path d="M 4.68 0.36 L -3.96 0.36" transform="translate(1114.56 493.92)" style="stroke: #f97316; fill: #f97316; stroke: #f97316"/> </g> </g> <g id="line2d_331"> <g clip-path="url(#pbf70993c2e)"> <path d="M 4.68 0.36 L -3.96 0.36" transform="translate(651.60 591.84)" style="stroke: #f97316; fill: #f97316; stroke: #f97316"/> <path d="M 4.68 0.36 L -3.96 0.36" transform="translate(686.88 591.84)" style="stroke: #f97316; fill: #f97316; stroke: #f97316"/> <path d="M 4.68 0.36 L -3.96 0.36" transform="translate(770.40 581.76)" style="stroke: #f97316; fill: #f97316; stroke: #f97316"/> <path d="M 4.68 0.36 L -3.96 0.36" transform="translate(805.68 574.56)" style="stroke: #f97316; fill: #f97316; stroke: #f97316"/> <path d="M 4.68 0.36 L -3.96 0.36" transform="translate(888.48 542.88)" style="stroke: #f97316; fill: #f97316; stroke: #f97316"/> <path d="M 4.68 0.36 L -3.96 0.36" transform="translate(924.48 524.88)" style="stroke: #f97316; fill: #f97316; stroke: #f97316"/> <path d="M 4.68 0.36 L -3.96 0.36" transform="translate(1007.28 503.28)" style="stroke: #f97316; fill: #f97316; stroke: #f97316"/> <path d="M 4.68 0.36 L -3.96 0.36" transform="translate(1043.28 496.80)" style="stroke: #f97316; fill: #f97316; stroke: #f97316"/> <path d="M 4.68 0.36 L -3.96 0.36" transform="translate(1078.56 495.36)" style="stroke: #f97316; fill: #f97316; stroke: #f97316"/> <path d="M 4.68 0.36 L -3.96 0.36" transform="translate(1114.56 491.76)" style="stroke: #f97316; fill: #f97316; stroke: #f97316"/> </g> </g> <g id="LineCollection_27"> <path d="M 651.96 579.24 L 651.96 575.64" clip-path="url(#pbf70993c2e)" style="fill: none; stroke: #06b6d4; stroke-width: 2"/> <path d="M 687.24 579.96 L 687.24 575.64" clip-path="url(#pbf70993c2e)" style="fill: none; stroke: #06b6d4; stroke-width: 2"/> <path d="M 770.76 566.28 L 770.76 560.52" clip-path="url(#pbf70993c2e)" style="fill: none; stroke: #06b6d4; stroke-width: 2"/> <path d="M 806.04 569.16 L 806.04 560.52" clip-path="url(#pbf70993c2e)" style="fill: none; stroke: #06b6d4; stroke-width: 2"/> <path d="M 888.84 568.44 L 888.84 559.80" clip-path="url(#pbf70993c2e)" style="fill: none; stroke: #06b6d4; stroke-width: 2"/> <path d="M 924.84 564.12 L 924.84 560.52" clip-path="url(#pbf70993c2e)" style="fill: none; stroke: #06b6d4; stroke-width: 2"/> <path d="M 1007.64 559.80 L 1007.64 556.20" clip-path="url(#pbf70993c2e)" style="fill: none; stroke: #06b6d4; stroke-width: 2"/> <path d="M 1043.64 554.76 L 1043.64 551.88" clip-path="url(#pbf70993c2e)" style="fill: none; stroke: #06b6d4; stroke-width: 2"/> <path d="M 1078.92 545.40 L 1078.92 543.24" clip-path="url(#pbf70993c2e)" style="fill: none; stroke: #06b6d4; stroke-width: 2"/> <path d="M 1114.92 533.88 L 1114.92 531.00" clip-path="url(#pbf70993c2e)" style="fill: none; stroke: #06b6d4; stroke-width: 2"/> </g> <g id="line2d_332"> <g clip-path="url(#pbf70993c2e)"> <path d="M 4.68 0.36 L -3.96 0.36" transform="translate(651.60 578.88)" style="stroke: #06b6d4; fill: #06b6d4; stroke: #06b6d4"/> <path d="M 4.68 0.36 L -3.96 0.36" transform="translate(686.88 579.60)" style="stroke: #06b6d4; fill: #06b6d4; stroke: #06b6d4"/> <path d="M 4.68 0.36 L -3.96 0.36" transform="translate(770.40 565.92)" style="stroke: #06b6d4; fill: #06b6d4; stroke: #06b6d4"/> <path d="M 4.68 0.36 L -3.96 0.36" transform="translate(805.68 568.80)" style="stroke: #06b6d4; fill: #06b6d4; stroke: #06b6d4"/> <path d="M 4.68 0.36 L -3.96 0.36" transform="translate(888.48 568.08)" style="stroke: #06b6d4; fill: #06b6d4; stroke: #06b6d4"/> <path d="M 4.68 0.36 L -3.96 0.36" transform="translate(924.48 563.76)" style="stroke: #06b6d4; fill: #06b6d4; stroke: #06b6d4"/> <path d="M 4.68 0.36 L -3.96 0.36" transform="translate(1007.28 559.44)" style="stroke: #06b6d4; fill: #06b6d4; stroke: #06b6d4"/> <path d="M 4.68 0.36 L -3.96 0.36" transform="translate(1043.28 554.40)" style="stroke: #06b6d4; fill: #06b6d4; stroke: #06b6d4"/> <path d="M 4.68 0.36 L -3.96 0.36" transform="translate(1078.56 545.04)" style="stroke: #06b6d4; fill: #06b6d4; stroke: #06b6d4"/> <path d="M 4.68 0.36 L -3.96 0.36" transform="translate(1114.56 533.52)" style="stroke: #06b6d4; fill: #06b6d4; stroke: #06b6d4"/> </g> </g> <g id="line2d_333"> <g clip-path="url(#pbf70993c2e)"> <path d="M 4.68 0.36 L -3.96 0.36" transform="translate(651.60 575.28)" style="stroke: #06b6d4; fill: #06b6d4; stroke: #06b6d4"/> <path d="M 4.68 0.36 L -3.96 0.36" transform="translate(686.88 575.28)" style="stroke: #06b6d4; fill: #06b6d4; stroke: #06b6d4"/> <path d="M 4.68 0.36 L -3.96 0.36" transform="translate(770.40 560.16)" style="stroke: #06b6d4; fill: #06b6d4; stroke: #06b6d4"/> <path d="M 4.68 0.36 L -3.96 0.36" transform="translate(805.68 560.16)" style="stroke: #06b6d4; fill: #06b6d4; stroke: #06b6d4"/> <path d="M 4.68 0.36 L -3.96 0.36" transform="translate(888.48 559.44)" style="stroke: #06b6d4; fill: #06b6d4; stroke: #06b6d4"/> <path d="M 4.68 0.36 L -3.96 0.36" transform="translate(924.48 560.16)" style="stroke: #06b6d4; fill: #06b6d4; stroke: #06b6d4"/> <path d="M 4.68 0.36 L -3.96 0.36" transform="translate(1007.28 555.84)" style="stroke: #06b6d4; fill: #06b6d4; stroke: #06b6d4"/> <path d="M 4.68 0.36 L -3.96 0.36" transform="translate(1043.28 551.52)" style="stroke: #06b6d4; fill: #06b6d4; stroke: #06b6d4"/> <path d="M 4.68 0.36 L -3.96 0.36" transform="translate(1078.56 542.88)" style="stroke: #06b6d4; fill: #06b6d4; stroke: #06b6d4"/> <path d="M 4.68 0.36 L -3.96 0.36" transform="translate(1114.56 530.64)" style="stroke: #06b6d4; fill: #06b6d4; stroke: #06b6d4"/> </g> </g> <g id="LineCollection_28"> <path d="M 651.96 554.04 L 651.96 551.16" clip-path="url(#pbf70993c2e)" style="fill: none; stroke: #a855f7; stroke-width: 2"/> <path d="M 687.24 554.76 L 687.24 551.88" clip-path="url(#pbf70993c2e)" style="fill: none; stroke: #a855f7; stroke-width: 2"/> <path d="M 770.76 550.44 L 770.76 546.12" clip-path="url(#pbf70993c2e)" style="fill: none; stroke: #a855f7; stroke-width: 2"/> <path d="M 806.04 547.56 L 806.04 540.36" clip-path="url(#pbf70993c2e)" style="fill: none; stroke: #a855f7; stroke-width: 2"/> <path d="M 888.84 520.92 L 888.84 515.16" clip-path="url(#pbf70993c2e)" style="fill: none; stroke: #a855f7; stroke-width: 2"/> <path d="M 924.84 508.68 L 924.84 506.52" clip-path="url(#pbf70993c2e)" style="fill: none; stroke: #a855f7; stroke-width: 2"/> <path d="M 1007.64 497.88 L 1007.64 495.72" clip-path="url(#pbf70993c2e)" style="fill: none; stroke: #a855f7; stroke-width: 2"/> <path d="M 1043.64 493.56 L 1043.64 491.40" clip-path="url(#pbf70993c2e)" style="fill: none; stroke: #a855f7; stroke-width: 2"/> <path d="M 1078.92 490.68 L 1078.92 489.24" clip-path="url(#pbf70993c2e)" style="fill: none; stroke: #a855f7; stroke-width: 2"/> <path d="M 1114.92 489.96 L 1114.92 488.52" clip-path="url(#pbf70993c2e)" style="fill: none; stroke: #a855f7; stroke-width: 2"/> </g> <g id="line2d_334"> <g clip-path="url(#pbf70993c2e)"> <path d="M 4.68 0.36 L -3.96 0.36" transform="translate(651.60 553.68)" style="stroke: #a855f7; fill: #a855f7; stroke: #a855f7"/> <path d="M 4.68 0.36 L -3.96 0.36" transform="translate(686.88 554.40)" style="stroke: #a855f7; fill: #a855f7; stroke: #a855f7"/> <path d="M 4.68 0.36 L -3.96 0.36" transform="translate(770.40 550.08)" style="stroke: #a855f7; fill: #a855f7; stroke: #a855f7"/> <path d="M 4.68 0.36 L -3.96 0.36" transform="translate(805.68 547.20)" style="stroke: #a855f7; fill: #a855f7; stroke: #a855f7"/> <path d="M 4.68 0.36 L -3.96 0.36" transform="translate(888.48 520.56)" style="stroke: #a855f7; fill: #a855f7; stroke: #a855f7"/> <path d="M 4.68 0.36 L -3.96 0.36" transform="translate(924.48 508.32)" style="stroke: #a855f7; fill: #a855f7; stroke: #a855f7"/> <path d="M 4.68 0.36 L -3.96 0.36" transform="translate(1007.28 497.52)" style="stroke: #a855f7; fill: #a855f7; stroke: #a855f7"/> <path d="M 4.68 0.36 L -3.96 0.36" transform="translate(1043.28 493.20)" style="stroke: #a855f7; fill: #a855f7; stroke: #a855f7"/> <path d="M 4.68 0.36 L -3.96 0.36" transform="translate(1078.56 490.32)" style="stroke: #a855f7; fill: #a855f7; stroke: #a855f7"/> <path d="M 4.68 0.36 L -3.96 0.36" transform="translate(1114.56 489.60)" style="stroke: #a855f7; fill: #a855f7; stroke: #a855f7"/> </g> </g> <g id="line2d_335"> <g clip-path="url(#pbf70993c2e)"> <path d="M 4.68 0.36 L -3.96 0.36" transform="translate(651.60 550.80)" style="stroke: #a855f7; fill: #a855f7; stroke: #a855f7"/> <path d="M 4.68 0.36 L -3.96 0.36" transform="translate(686.88 551.52)" style="stroke: #a855f7; fill: #a855f7; stroke: #a855f7"/> <path d="M 4.68 0.36 L -3.96 0.36" transform="translate(770.40 545.76)" style="stroke: #a855f7; fill: #a855f7; stroke: #a855f7"/> <path d="M 4.68 0.36 L -3.96 0.36" transform="translate(805.68 540.00)" style="stroke: #a855f7; fill: #a855f7; stroke: #a855f7"/> <path d="M 4.68 0.36 L -3.96 0.36" transform="translate(888.48 514.80)" style="stroke: #a855f7; fill: #a855f7; stroke: #a855f7"/> <path d="M 4.68 0.36 L -3.96 0.36" transform="translate(924.48 506.16)" style="stroke: #a855f7; fill: #a855f7; stroke: #a855f7"/> <path d="M 4.68 0.36 L -3.96 0.36" transform="translate(1007.28 495.36)" style="stroke: #a855f7; fill: #a855f7; stroke: #a855f7"/> <path d="M 4.68 0.36 L -3.96 0.36" transform="translate(1043.28 491.04)" style="stroke: #a855f7; fill: #a855f7; stroke: #a855f7"/> <path d="M 4.68 0.36 L -3.96 0.36" transform="translate(1078.56 488.88)" style="stroke: #a855f7; fill: #a855f7; stroke: #a855f7"/> <path d="M 4.68 0.36 L -3.96 0.36" transform="translate(1114.56 488.16)" style="stroke: #a855f7; fill: #a855f7; stroke: #a855f7"/> </g> </g> <g id="line2d_336"> <path d="M 651.50 769.12 L 687.20 772.67 L 770.11 762.78 L 805.81 763.69 L 888.72 761.97 L 924.42 762.67 L 1007.32 760.16 L 1043.03 761.06 L 1078.73 758.94 L 1114.44 758.37 " clip-path="url(#pbf70993c2e)" style="fill: none; stroke: #22c55e; stroke-width: 2; stroke-linecap: square"/> <g clip-path="url(#pbf70993c2e)"> <path d="M 0 4 C 1.06 4 2.07 3.57 2.82 2.82 C 3.57 2.07 4 1.06 4 0 C 4 -1.06 3.57 -2.07 2.82 -2.82 C 2.07 -3.57 1.06 -4 0 -4 C -1.06 -4 -2.07 -3.57 -2.82 -2.82 C -3.57 -2.07 -4 -1.06 -4 0 C -4 1.06 -3.57 2.07 -2.82 2.82 C -2.07 3.57 -1.06 4 0 4 z " transform="translate(651.96 769.32)" style="stroke: #22c55e; fill: #22c55e; stroke: #22c55e"/> <path d="M 0 4 C 1.06 4 2.07 3.57 2.82 2.82 C 3.57 2.07 4 1.06 4 0 C 4 -1.06 3.57 -2.07 2.82 -2.82 C 2.07 -3.57 1.06 -4 0 -4 C -1.06 -4 -2.07 -3.57 -2.82 -2.82 C -3.57 -2.07 -4 -1.06 -4 0 C -4 1.06 -3.57 2.07 -2.82 2.82 C -2.07 3.57 -1.06 4 0 4 z " transform="translate(687.24 772.92)" style="stroke: #22c55e; fill: #22c55e; stroke: #22c55e"/> <path d="M 0 4 C 1.06 4 2.07 3.57 2.82 2.82 C 3.57 2.07 4 1.06 4 0 C 4 -1.06 3.57 -2.07 2.82 -2.82 C 2.07 -3.57 1.06 -4 0 -4 C -1.06 -4 -2.07 -3.57 -2.82 -2.82 C -3.57 -2.07 -4 -1.06 -4 0 C -4 1.06 -3.57 2.07 -2.82 2.82 C -2.07 3.57 -1.06 4 0 4 z " transform="translate(770.76 762.84)" style="stroke: #22c55e; fill: #22c55e; stroke: #22c55e"/> <path d="M 0 4 C 1.06 4 2.07 3.57 2.82 2.82 C 3.57 2.07 4 1.06 4 0 C 4 -1.06 3.57 -2.07 2.82 -2.82 C 2.07 -3.57 1.06 -4 0 -4 C -1.06 -4 -2.07 -3.57 -2.82 -2.82 C -3.57 -2.07 -4 -1.06 -4 0 C -4 1.06 -3.57 2.07 -2.82 2.82 C -2.07 3.57 -1.06 4 0 4 z " transform="translate(806.04 764.28)" style="stroke: #22c55e; fill: #22c55e; stroke: #22c55e"/> <path d="M 0 4 C 1.06 4 2.07 3.57 2.82 2.82 C 3.57 2.07 4 1.06 4 0 C 4 -1.06 3.57 -2.07 2.82 -2.82 C 2.07 -3.57 1.06 -4 0 -4 C -1.06 -4 -2.07 -3.57 -2.82 -2.82 C -3.57 -2.07 -4 -1.06 -4 0 C -4 1.06 -3.57 2.07 -2.82 2.82 C -2.07 3.57 -1.06 4 0 4 z " transform="translate(888.84 762.12)" style="stroke: #22c55e; fill: #22c55e; stroke: #22c55e"/> <path d="M 0 4 C 1.06 4 2.07 3.57 2.82 2.82 C 3.57 2.07 4 1.06 4 0 C 4 -1.06 3.57 -2.07 2.82 -2.82 C 2.07 -3.57 1.06 -4 0 -4 C -1.06 -4 -2.07 -3.57 -2.82 -2.82 C -3.57 -2.07 -4 -1.06 -4 0 C -4 1.06 -3.57 2.07 -2.82 2.82 C -2.07 3.57 -1.06 4 0 4 z " transform="translate(924.84 762.84)" style="stroke: #22c55e; fill: #22c55e; stroke: #22c55e"/> <path d="M 0 4 C 1.06 4 2.07 3.57 2.82 2.82 C 3.57 2.07 4 1.06 4 0 C 4 -1.06 3.57 -2.07 2.82 -2.82 C 2.07 -3.57 1.06 -4 0 -4 C -1.06 -4 -2.07 -3.57 -2.82 -2.82 C -3.57 -2.07 -4 -1.06 -4 0 C -4 1.06 -3.57 2.07 -2.82 2.82 C -2.07 3.57 -1.06 4 0 4 z " transform="translate(1007.64 760.68)" style="stroke: #22c55e; fill: #22c55e; stroke: #22c55e"/> <path d="M 0 4 C 1.06 4 2.07 3.57 2.82 2.82 C 3.57 2.07 4 1.06 4 0 C 4 -1.06 3.57 -2.07 2.82 -2.82 C 2.07 -3.57 1.06 -4 0 -4 C -1.06 -4 -2.07 -3.57 -2.82 -2.82 C -3.57 -2.07 -4 -1.06 -4 0 C -4 1.06 -3.57 2.07 -2.82 2.82 C -2.07 3.57 -1.06 4 0 4 z " transform="translate(1043.64 761.40)" style="stroke: #22c55e; fill: #22c55e; stroke: #22c55e"/> <path d="M 0 4 C 1.06 4 2.07 3.57 2.82 2.82 C 3.57 2.07 4 1.06 4 0 C 4 -1.06 3.57 -2.07 2.82 -2.82 C 2.07 -3.57 1.06 -4 0 -4 C -1.06 -4 -2.07 -3.57 -2.82 -2.82 C -3.57 -2.07 -4 -1.06 -4 0 C -4 1.06 -3.57 2.07 -2.82 2.82 C -2.07 3.57 -1.06 4 0 4 z " transform="translate(1078.92 759.24)" style="stroke: #22c55e; fill: #22c55e; stroke: #22c55e"/> <path d="M 0 4 C 1.06 4 2.07 3.57 2.82 2.82 C 3.57 2.07 4 1.06 4 0 C 4 -1.06 3.57 -2.07 2.82 -2.82 C 2.07 -3.57 1.06 -4 0 -4 C -1.06 -4 -2.07 -3.57 -2.82 -2.82 C -3.57 -2.07 -4 -1.06 -4 0 C -4 1.06 -3.57 2.07 -2.82 2.82 C -2.07 3.57 -1.06 4 0 4 z " transform="translate(1114.92 758.52)" style="stroke: #22c55e; fill: #22c55e; stroke: #22c55e"/> </g> </g> <g id="line2d_337"> <path d="M 651.50 595.38 L 687.20 594.89 L 770.11 584.56 L 805.81 577.53 L 888.72 545.94 L 924.42 526.59 L 1007.32 504.54 L 1043.03 497.65 L 1078.73 496.47 L 1114.44 492.77 " clip-path="url(#pbf70993c2e)" style="fill: none; stroke: #f97316; stroke-width: 2; stroke-linecap: square"/> <g clip-path="url(#pbf70993c2e)"> <path d="M 0 -4 L -4 4 L 4 4 z " transform="translate(651.96 595.80)" style="stroke: #f97316; stroke-linejoin: miter; fill: #f97316; stroke: #f97316; stroke-linejoin: miter"/> <path d="M 0 -4 L -4 4 L 4 4 z " transform="translate(687.24 595.08)" style="stroke: #f97316; stroke-linejoin: miter; fill: #f97316; stroke: #f97316; stroke-linejoin: miter"/> <path d="M 0 -4 L -4 4 L 4 4 z " transform="translate(770.76 585.00)" style="stroke: #f97316; stroke-linejoin: miter; fill: #f97316; stroke: #f97316; stroke-linejoin: miter"/> <path d="M 0 -4 L -4 4 L 4 4 z " transform="translate(806.04 577.80)" style="stroke: #f97316; stroke-linejoin: miter; fill: #f97316; stroke: #f97316; stroke-linejoin: miter"/> <path d="M 0 -4 L -4 4 L 4 4 z " transform="translate(888.84 546.12)" style="stroke: #f97316; stroke-linejoin: miter; fill: #f97316; stroke: #f97316; stroke-linejoin: miter"/> <path d="M 0 -4 L -4 4 L 4 4 z " transform="translate(924.84 526.68)" style="stroke: #f97316; stroke-linejoin: miter; fill: #f97316; stroke: #f97316; stroke-linejoin: miter"/> <path d="M 0 -4 L -4 4 L 4 4 z " transform="translate(1007.64 505.08)" style="stroke: #f97316; stroke-linejoin: miter; fill: #f97316; stroke: #f97316; stroke-linejoin: miter"/> <path d="M 0 -4 L -4 4 L 4 4 z " transform="translate(1043.64 497.88)" style="stroke: #f97316; stroke-linejoin: miter; fill: #f97316; stroke: #f97316; stroke-linejoin: miter"/> <path d="M 0 -4 L -4 4 L 4 4 z " transform="translate(1078.92 497.16)" style="stroke: #f97316; stroke-linejoin: miter; fill: #f97316; stroke: #f97316; stroke-linejoin: miter"/> <path d="M 0 -4 L -4 4 L 4 4 z " transform="translate(1114.92 492.84)" style="stroke: #f97316; stroke-linejoin: miter; fill: #f97316; stroke: #f97316; stroke-linejoin: miter"/> </g> </g> <g id="line2d_338"> <path d="M 651.50 577.12 L 687.20 577.31 L 770.11 563.00 L 805.81 564.43 L 888.72 563.80 L 924.42 561.80 L 1007.32 557.82 L 1043.03 552.96 L 1078.73 544.05 L 1114.44 532.16 " clip-path="url(#pbf70993c2e)" style="fill: none; stroke: #06b6d4; stroke-width: 2; stroke-linecap: square"/> <g clip-path="url(#pbf70993c2e)"> <path d="M -0 4 L 4 -4 L -4 -4 z " transform="translate(651.96 577.80)" style="stroke: #06b6d4; stroke-linejoin: miter; fill: #06b6d4; stroke: #06b6d4; stroke-linejoin: miter"/> <path d="M -0 4 L 4 -4 L -4 -4 z " transform="translate(687.24 577.80)" style="stroke: #06b6d4; stroke-linejoin: miter; fill: #06b6d4; stroke: #06b6d4; stroke-linejoin: miter"/> <path d="M -0 4 L 4 -4 L -4 -4 z " transform="translate(770.76 563.40)" style="stroke: #06b6d4; stroke-linejoin: miter; fill: #06b6d4; stroke: #06b6d4; stroke-linejoin: miter"/> <path d="M -0 4 L 4 -4 L -4 -4 z " transform="translate(806.04 564.84)" style="stroke: #06b6d4; stroke-linejoin: miter; fill: #06b6d4; stroke: #06b6d4; stroke-linejoin: miter"/> <path d="M -0 4 L 4 -4 L -4 -4 z " transform="translate(888.84 564.12)" style="stroke: #06b6d4; stroke-linejoin: miter; fill: #06b6d4; stroke: #06b6d4; stroke-linejoin: miter"/> <path d="M -0 4 L 4 -4 L -4 -4 z " transform="translate(924.84 561.96)" style="stroke: #06b6d4; stroke-linejoin: miter; fill: #06b6d4; stroke: #06b6d4; stroke-linejoin: miter"/> <path d="M -0 4 L 4 -4 L -4 -4 z " transform="translate(1007.64 558.36)" style="stroke: #06b6d4; stroke-linejoin: miter; fill: #06b6d4; stroke: #06b6d4; stroke-linejoin: miter"/> <path d="M -0 4 L 4 -4 L -4 -4 z " transform="translate(1043.64 553.32)" style="stroke: #06b6d4; stroke-linejoin: miter; fill: #06b6d4; stroke: #06b6d4; stroke-linejoin: miter"/> <path d="M -0 4 L 4 -4 L -4 -4 z " transform="translate(1078.92 544.68)" style="stroke: #06b6d4; stroke-linejoin: miter; fill: #06b6d4; stroke: #06b6d4; stroke-linejoin: miter"/> <path d="M -0 4 L 4 -4 L -4 -4 z " transform="translate(1114.92 532.44)" style="stroke: #06b6d4; stroke-linejoin: miter; fill: #06b6d4; stroke: #06b6d4; stroke-linejoin: miter"/> </g> </g> <g id="line2d_339"> <path d="M 651.50 552.26 L 687.20 552.93 L 770.11 547.75 L 805.81 543.54 L 888.72 517.56 L 924.42 507.24 L 1007.32 496.59 L 1043.03 491.92 L 1078.73 489.51 L 1114.44 488.79 " clip-path="url(#pbf70993c2e)" style="fill: none; stroke: #a855f7; stroke-width: 2; stroke-linecap: square"/> <g clip-path="url(#pbf70993c2e)"> <path d="M -0 5.65 L 5.65 0 L 0 -5.65 L -5.65 -0 z " transform="translate(651.96 552.60)" style="stroke: #a855f7; stroke-linejoin: miter; fill: #a855f7; stroke: #a855f7; stroke-linejoin: miter"/> <path d="M -0 5.65 L 5.65 0 L 0 -5.65 L -5.65 -0 z " transform="translate(687.24 553.32)" style="stroke: #a855f7; stroke-linejoin: miter; fill: #a855f7; stroke: #a855f7; stroke-linejoin: miter"/> <path d="M -0 5.65 L 5.65 0 L 0 -5.65 L -5.65 -0 z " transform="translate(770.76 548.28)" style="stroke: #a855f7; stroke-linejoin: miter; fill: #a855f7; stroke: #a855f7; stroke-linejoin: miter"/> <path d="M -0 5.65 L 5.65 0 L 0 -5.65 L -5.65 -0 z " transform="translate(806.04 543.96)" style="stroke: #a855f7; stroke-linejoin: miter; fill: #a855f7; stroke: #a855f7; stroke-linejoin: miter"/> <path d="M -0 5.65 L 5.65 0 L 0 -5.65 L -5.65 -0 z " transform="translate(888.84 518.04)" style="stroke: #a855f7; stroke-linejoin: miter; fill: #a855f7; stroke: #a855f7; stroke-linejoin: miter"/> <path d="M -0 5.65 L 5.65 0 L 0 -5.65 L -5.65 -0 z " transform="translate(924.84 507.96)" style="stroke: #a855f7; stroke-linejoin: miter; fill: #a855f7; stroke: #a855f7; stroke-linejoin: miter"/> <path d="M -0 5.65 L 5.65 0 L 0 -5.65 L -5.65 -0 z " transform="translate(1007.64 497.16)" style="stroke: #a855f7; stroke-linejoin: miter; fill: #a855f7; stroke: #a855f7; stroke-linejoin: miter"/> <path d="M -0 5.65 L 5.65 0 L 0 -5.65 L -5.65 -0 z " transform="translate(1043.64 492.12)" style="stroke: #a855f7; stroke-linejoin: miter; fill: #a855f7; stroke: #a855f7; stroke-linejoin: miter"/> <path d="M -0 5.65 L 5.65 0 L 0 -5.65 L -5.65 -0 z " transform="translate(1078.92 489.96)" style="stroke: #a855f7; stroke-linejoin: miter; fill: #a855f7; stroke: #a855f7; stroke-linejoin: miter"/> <path d="M -0 5.65 L 5.65 0 L 0 -5.65 L -5.65 -0 z " transform="translate(1114.92 489.24)" style="stroke: #a855f7; stroke-linejoin: miter; fill: #a855f7; stroke: #a855f7; stroke-linejoin: miter"/> </g> </g> <g id="patch_21"> <path d="M 628.92 805.32 L 628.92 473.40" style="fill: none; stroke: #404040; stroke-width: 0.8; stroke-linejoin: miter; stroke-linecap: square"/> </g> <g id="patch_22"> <path d="M 1137.96 805.32 L 1137.96 473.40" style="fill: none; stroke: #404040; stroke-width: 0.8; stroke-linejoin: miter; stroke-linecap: square"/> </g> <g id="patch_23"> <path d="M 628.92 805.32 L 1137.96 805.32" style="fill: none; stroke: #404040; stroke-width: 0.8; stroke-linejoin: miter; stroke-linecap: square"/> </g> <g id="patch_24"> <path d="M 628.92 473.40 L 1137.96 473.40" style="fill: none; stroke: #404040; stroke-width: 0.8; stroke-linejoin: miter; stroke-linecap: square"/> </g> <g id="text_51"> <text style="font-size: 14px; font-family: 'DejaVu Sans', 'Liberation Sans', sans-serif; text-anchor: middle; fill: #f5f5f5" x="883.69" y="467.99" transform="rotate(-0 883.69 467.99)">OTLP Metrics</text> </g> <g id="legend_4"> <g id="patch_25"> <path d="M 634.68 524.52 L 713.88 524.52 Q 715.32 524.52 715.32 523.08 L 715.32 479.16 Q 715.32 477.72 713.88 477.72 L 634.68 477.72 Q 632.52 477.72 632.52 479.16 L 632.52 523.08 Q 632.52 524.52 634.68 524.52 z " style="fill: #171717; opacity: 0.8; stroke: #404040; stroke-linejoin: miter"/> </g> <g id="LineCollection_29"> <path d="M 644.04 487.80 L 644.04 479.88" style="fill: none; stroke: #22c55e; stroke-width: 2"/> </g> <g id="line2d_340"> <g> <path d="M 4.68 0.36 L -3.96 0.36" transform="translate(643.68 487.44)" style="stroke: #22c55e; fill: #22c55e; stroke: #22c55e"/> </g> </g> <g id="line2d_341"> <g> <path d="M 4.68 0.36 L -3.96 0.36" transform="translate(643.68 479.52)" style="stroke: #22c55e; fill: #22c55e; stroke: #22c55e"/> </g> </g> <g id="line2d_342"> <path d="M 636.12 483.48 L 651.96 483.48" style="fill: none; stroke: #22c55e; stroke-width: 2; stroke-linecap: square"/> </g> <g id="line2d_343"> <g> <path d="M 0 4 C 1.06 4 2.07 3.57 2.82 2.82 C 3.57 2.07 4 1.06 4 0 C 4 -1.06 3.57 -2.07 2.82 -2.82 C 2.07 -3.57 1.06 -4 0 -4 C -1.06 -4 -2.07 -3.57 -2.82 -2.82 C -3.57 -2.07 -4 -1.06 -4 0 C -4 1.06 -3.57 2.07 -2.82 2.82 C -2.07 3.57 -1.06 4 0 4 z " transform="translate(644.04 483.48)" style="stroke: #22c55e; fill: #22c55e; stroke: #22c55e"/> </g> </g> <g id="text_52"> <text style="font-size: 8px; font-family: 'DejaVu Sans', 'Liberation Sans', sans-serif; text-anchor: start; fill: #d4d4d4" x="658.41" y="486.95" transform="rotate(-0 658.41 486.95)">edge</text> </g> <g id="LineCollection_30"> <path d="M 644.04 499.32 L 644.04 490.68" style="fill: none; stroke: #f97316; stroke-width: 2"/> </g> <g id="line2d_344"> <g> <path d="M 4.68 0.36 L -3.96 0.36" transform="translate(643.68 498.96)" style="stroke: #f97316; fill: #f97316; stroke: #f97316"/> </g> </g> <g id="line2d_345"> <g> <path d="M 4.68 0.36 L -3.96 0.36" transform="translate(643.68 490.32)" style="stroke: #f97316; fill: #f97316; stroke: #f97316"/> </g> </g> <g id="line2d_346"> <path d="M 636.12 495.00 L 651.96 495.00" style="fill: none; stroke: #f97316; stroke-width: 2; stroke-linecap: square"/> </g> <g id="line2d_347"> <g> <path d="M 0 -4 L -4 4 L 4 4 z " transform="translate(644.04 495.00)" style="stroke: #f97316; stroke-linejoin: miter; fill: #f97316; stroke: #f97316; stroke-linejoin: miter"/> </g> </g> <g id="text_53"> <text style="font-size: 8px; font-family: 'DejaVu Sans', 'Liberation Sans', sans-serif; text-anchor: start; fill: #d4d4d4" x="658.41" y="498.15" transform="rotate(-0 658.41 498.15)">otelcol</text> </g> <g id="LineCollection_31"> <path d="M 644.04 510.12 L 644.04 502.20" style="fill: none; stroke: #06b6d4; stroke-width: 2"/> </g> <g id="line2d_348"> <g> <path d="M 4.68 0.36 L -3.96 0.36" transform="translate(643.68 509.76)" style="stroke: #06b6d4; fill: #06b6d4; stroke: #06b6d4"/> </g> </g> <g id="line2d_349"> <g> <path d="M 4.68 0.36 L -3.96 0.36" transform="translate(643.68 501.84)" style="stroke: #06b6d4; fill: #06b6d4; stroke: #06b6d4"/> </g> </g> <g id="line2d_350"> <path d="M 636.12 506.52 L 651.96 506.52" style="fill: none; stroke: #06b6d4; stroke-width: 2; stroke-linecap: square"/> </g> <g id="line2d_351"> <g> <path d="M -0 4 L 4 -4 L -4 -4 z " transform="translate(644.04 506.52)" style="stroke: #06b6d4; stroke-linejoin: miter; fill: #06b6d4; stroke: #06b6d4; stroke-linejoin: miter"/> </g> </g> <g id="text_54"> <text style="font-size: 8px; font-family: 'DejaVu Sans', 'Liberation Sans', sans-serif; text-anchor: start; fill: #d4d4d4" x="658.41" y="509.35" transform="rotate(-0 658.41 509.35)">tero-collector</text> </g> <g id="LineCollection_32"> <path d="M 644.04 521.64 L 644.04 513.72" style="fill: none; stroke: #a855f7; stroke-width: 2"/> </g> <g id="line2d_352"> <g> <path d="M 4.68 0.36 L -3.96 0.36" transform="translate(643.68 521.28)" style="stroke: #a855f7; fill: #a855f7; stroke: #a855f7"/> </g> </g> <g id="line2d_353"> <g> <path d="M 4.68 0.36 L -3.96 0.36" transform="translate(643.68 513.36)" style="stroke: #a855f7; fill: #a855f7; stroke: #a855f7"/> </g> </g> <g id="line2d_354"> <path d="M 636.12 517.32 L 651.96 517.32" style="fill: none; stroke: #a855f7; stroke-width: 2; stroke-linecap: square"/> </g> <g id="line2d_355"> <g> <path d="M -0 5.65 L 5.65 0 L 0 -5.65 L -5.65 -0 z " transform="translate(644.04 517.32)" style="stroke: #a855f7; stroke-linejoin: miter; fill: #a855f7; stroke: #a855f7; stroke-linejoin: miter"/> </g> </g> <g id="text_55"> <text style="font-size: 8px; font-family: 'DejaVu Sans', 'Liberation Sans', sans-serif; text-anchor: start; fill: #d4d4d4" x="658.41" y="520.55" transform="rotate(-0 658.41 520.55)">vector</text> </g> </g> </g> <g id="text_56"> <text style="font-size: 16px; font-family: 'DejaVu Sans', 'Liberation Sans', sans-serif; text-anchor: middle; fill: #d4d4d4" x="572.33" y="18.50" transform="rotate(-0 572.33 18.50)">CPU Usage (%) by Telemetry Type</text> </g> </g> <defs> <clipPath id="p3dcfca8776"> <rect x="49.28" y="76.55" width="509.18" height="331.92"/> </clipPath> <clipPath id="p3f254de0b3"> <rect x="628.38" y="76.55" width="509.18" height="331.92"/> </clipPath> <clipPath id="pda3e8afbe7"> <rect x="49.28" y="473.27" width="509.18" height="331.92"/> </clipPath> <clipPath id="pbf70993c2e"> <rect x="628.38" y="473.27" width="509.18" height="331.92"/> </clipPath> </defs> </svg> 
</body>
</html>
